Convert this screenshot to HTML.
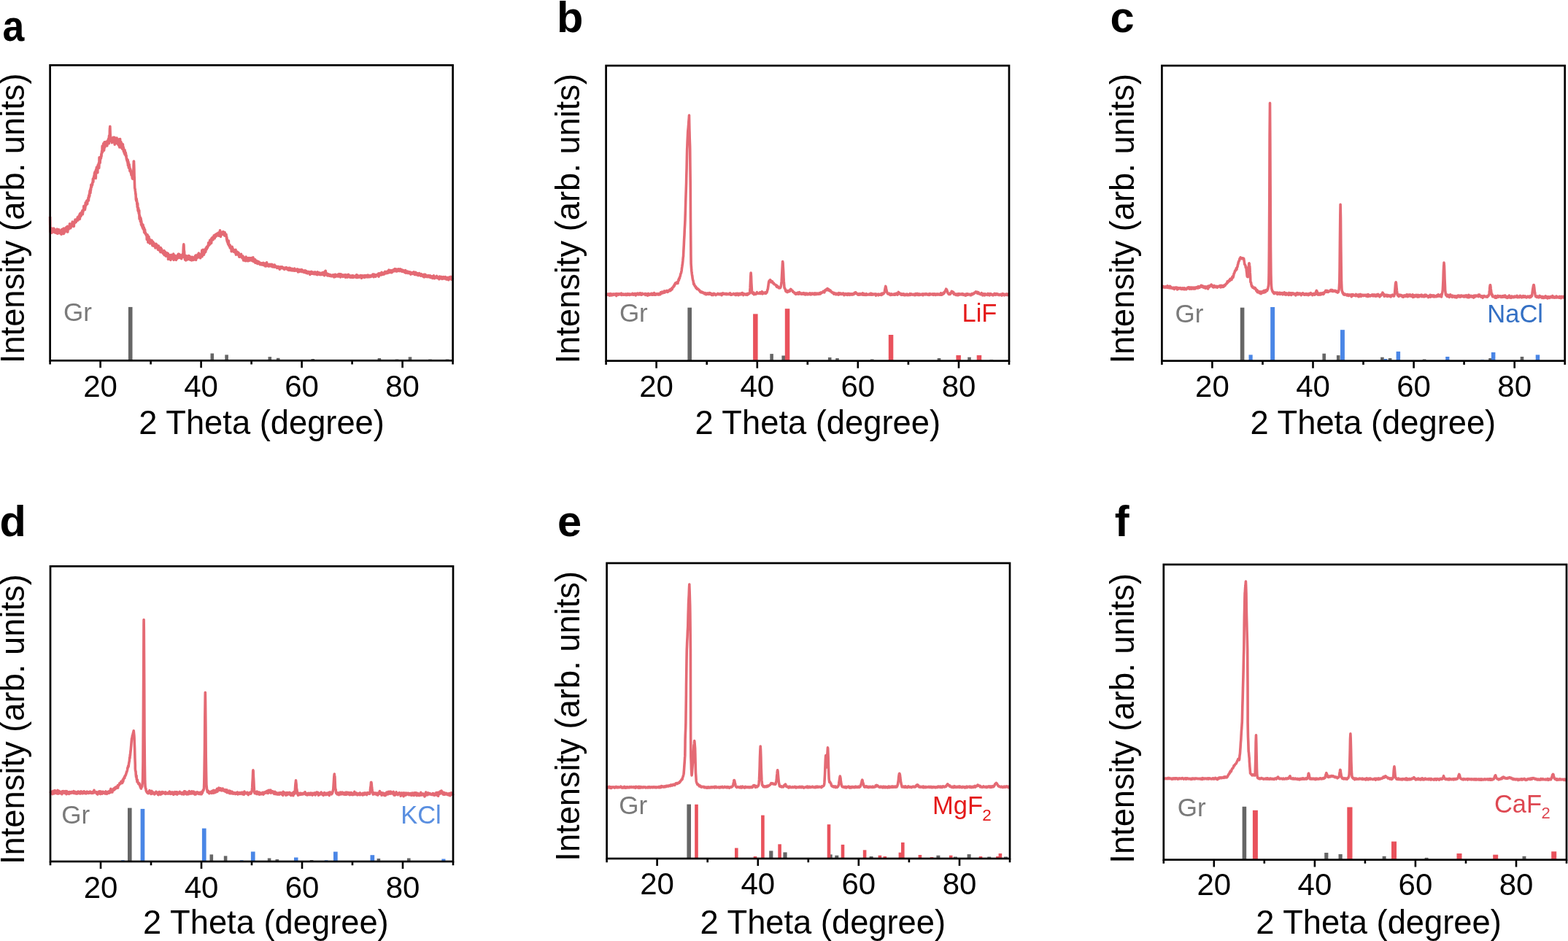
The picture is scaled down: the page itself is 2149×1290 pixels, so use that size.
<!DOCTYPE html>
<html><head><meta charset="utf-8"><title>XRD patterns</title>
<style>html,body{margin:0;padding:0;background:#fff;}svg{display:block;}</style></head><body>
<svg width="2149" height="1290" viewBox="0 0 2149 1290" font-family='"Liberation Sans", sans-serif'>
<rect width="2149" height="1290" fill="#fff"/>
<polyline fill="none" stroke="#E46A74" stroke-width="3.6" stroke-linejoin="round" points="68.6,297.1 68.8,311.6 69,318 69.2,315.1 69.4,315.6 69.6,315.1 69.8,317.3 70,316.1 70.3,317.7 70.5,312.7 70.7,319.3 70.9,316.1 71.1,317.7 71.3,316.1 71.5,315.7 71.7,317.3 71.9,318.1 72.1,316.1 72.3,316.2 72.5,317.9 72.7,314.9 72.9,313.7 73.2,317.4 73.4,315.4 73.6,313 73.8,315.2 74,315.9 74.2,314.5 74.4,314 74.6,316.9 74.8,318.6 75,316.5 75.2,315.5 75.4,317.7 75.6,318.4 75.8,316.5 76.1,318.1 76.3,319.1 76.5,316.8 76.7,315.6 76.9,317.9 77.1,317.7 77.3,319.4 77.5,314.9 77.7,316.1 77.9,315.8 78.1,314.1 78.3,317.8 78.5,318.6 78.7,316.2 78.9,320.3 79.2,319.2 79.4,318.9 79.6,318.5 79.8,319.6 80,315.2 80.2,319 80.4,319 80.6,314.5 80.8,318.6 81,317.4 81.2,319.5 81.4,317.1 81.6,317.9 81.8,318.7 82.1,316.3 82.3,319.2 82.5,317.8 82.7,318.9 82.9,317 83.1,320.1 83.3,319.1 83.5,317.6 83.7,319.1 83.9,320.3 84.1,321.3 84.3,314.7 84.5,319.4 84.7,318.5 85,317.4 85.2,315.5 85.4,319.9 85.6,314.9 85.8,318.4 86,319.7 86.2,313.9 86.4,316.4 86.6,314.3 86.8,317.2 87,319.6 87.2,320.5 87.4,313 87.6,315.2 87.9,317.6 88.1,319.2 88.3,316.8 88.5,314.4 88.7,316.3 88.9,315.5 89.1,315 89.3,313.9 89.5,315.9 89.7,315.6 89.9,314.7 90.1,314.3 90.3,312.1 90.5,313.5 90.7,316.7 91,313.8 91.2,311.2 91.4,316.5 91.6,314.8 91.8,317.8 92,313.6 92.2,312.4 92.4,310.3 92.6,315.6 92.8,318 93,311.1 93.2,311.3 93.4,313.6 93.6,310.7 93.9,311.6 94.1,311.4 94.3,312.3 94.5,313.9 94.7,311.7 94.9,313.3 95.1,310.5 95.3,311.8 95.5,306.8 95.7,308 95.9,312.3 96.1,309.4 96.3,311.5 96.5,311.3 96.8,312.7 97,311.5 97.2,311.7 97.4,309.3 97.6,307.9 97.8,307.7 98,308 98.2,306.5 98.4,307.5 98.6,308.2 98.8,308.7 99,307.4 99.2,304 99.4,307.5 99.6,307.9 99.9,309.4 100.1,308.2 100.3,305.6 100.5,305.2 100.7,310.4 100.9,307.7 101.1,309.7 101.3,310.1 101.5,304 101.7,306.2 101.9,306.1 102.1,306.1 102.3,305.9 102.5,305 102.8,304.7 103,301.1 103.2,303.6 103.4,302.2 103.6,303.8 103.8,302.4 104,304.3 104.2,304.5 104.4,303.3 104.6,303.1 104.8,302.4 105,301.1 105.2,301.4 105.4,300.5 105.7,302.1 105.9,301.1 106.1,302 106.3,297.9 106.5,302.2 106.7,298.5 106.9,298.4 107.1,299.2 107.3,298.2 107.5,299.7 107.7,297.7 107.9,296.4 108.1,296.6 108.3,300.7 108.6,297.8 108.8,295.1 109,297.2 109.2,293.7 109.4,300.3 109.6,293.1 109.8,297 110,296.8 110.2,292.4 110.4,295.7 110.6,296.8 110.8,295.4 111,294.6 111.2,295.7 111.4,293.7 111.7,293.8 111.9,292.5 112.1,293.7 112.3,290 112.5,293.3 112.7,290.2 112.9,288.6 113.1,291.3 113.3,293.7 113.5,291.8 113.7,288.3 113.9,290.5 114.1,287.6 114.3,287.9 114.6,288 114.8,282.5 115,287.4 115.2,284.4 115.4,284.6 115.6,282.5 115.8,282 116,282.8 116.2,286.1 116.4,287.5 116.6,283.4 116.8,285.3 117,282 117.2,277.9 117.5,281.9 117.7,282 117.9,279.7 118.1,280.8 118.3,280.8 118.5,277.2 118.7,275.4 118.9,277.5 119.1,277 119.3,276.1 119.5,278.4 119.7,279.4 119.9,274.1 120.1,276 120.3,275.8 120.6,274.7 120.8,274.8 121,270.9 121.2,272.7 121.4,274.9 121.6,271.5 121.8,267.7 122,269.7 122.2,270.4 122.4,267.7 122.6,264.9 122.8,268.8 123,261.9 123.2,265.1 123.5,263.2 123.7,259.8 123.9,264.5 124.1,261.8 124.3,257.6 124.5,260.7 124.7,257.6 124.9,253.4 125.1,255.3 125.3,256.6 125.5,256.5 125.7,254.6 125.9,253.4 126.1,253.5 126.4,251.1 126.6,253.4 126.8,250.2 127,249.7 127.2,249.4 127.4,245 127.6,245.1 127.8,249.4 128,246 128.2,244 128.4,244.7 128.6,242.2 128.8,243.3 129,240.6 129.3,242.1 129.5,237.3 129.7,243.4 129.9,238.6 130.1,235.6 130.3,238.2 130.5,237.3 130.7,238 130.9,234.5 131.1,237.5 131.3,244.4 131.5,232.6 131.7,235.8 131.9,233.8 132.1,234.4 132.4,229.2 132.6,230.2 132.8,233.5 133,231.8 133.2,235.2 133.4,229.1 133.6,230.7 133.8,236.6 134,227.3 134.2,226.4 134.4,227.8 134.6,227.2 134.8,228.7 135,226.4 135.3,223.6 135.5,225.2 135.7,230.3 135.9,226.3 136.1,215.8 136.3,221.4 136.5,218.8 136.7,221.7 136.9,218.9 137.1,223.3 137.3,220 137.5,219.1 137.7,216.6 137.9,215.2 138.2,215.3 138.4,216.9 138.6,214.2 138.8,211.2 139,214.5 139.2,211 139.4,209.6 139.6,207.1 139.8,206.9 140,206.1 140.2,200 140.4,208.9 140.6,207.2 140.8,204.6 141,207.2 141.3,205.2 141.5,204.5 141.7,196.8 141.9,202.1 142.1,203.7 142.3,206 142.5,206.2 142.7,204.8 142.9,197.8 143.1,194.8 143.3,201.5 143.5,199.8 143.7,201.9 143.9,198.7 144.2,199.3 144.4,194.5 144.6,199.3 144.8,196.7 145,198.5 145.2,198.5 145.4,196.7 145.6,197.6 145.8,196.5 146,198.2 146.2,197.3 146.4,194.4 146.6,194 146.8,199.9 147.1,194.9 147.3,197.5 147.5,195.7 147.7,193 147.9,192.3 148.1,194.3 148.3,194.5 148.5,195.2 148.7,190 148.9,191.5 149.1,192.6 149.3,196.6 149.5,186 149.7,192.6 150,188.4 150.2,187.3 150.4,178.8 150.6,174.8 150.7,176.2 150.8,173.4 151,178.7 151.2,185 151.4,186.4 151.6,191.8 151.8,190.6 152,189.4 152.2,191.5 152.4,191.1 152.6,193.7 152.8,191.7 153.1,190.5 153.3,195.7 153.5,194.5 153.7,195.2 153.9,193.6 154.1,191.8 154.3,191 154.5,191.4 154.7,194.6 154.9,192.5 155.1,188.4 155.3,192.2 155.5,188.7 155.7,192.7 156,189.3 156.2,189.2 156.4,192.7 156.6,192.3 156.8,188.3 157,194.5 157.2,198.1 157.4,188.8 157.6,197.3 157.8,191 158,191.5 158.2,192.4 158.4,189.2 158.6,196.2 158.9,194.2 159.1,191.1 159.3,192.3 159.5,189.3 159.7,192.3 159.9,195.6 160.1,189 160.3,192.3 160.5,193.9 160.7,196.3 160.9,197.2 161.1,192.7 161.3,192.2 161.5,195.3 161.7,193.4 162,193.7 162.2,197.4 162.4,199.1 162.6,195.6 162.8,194.6 163,196.7 163.2,190.7 163.4,195.6 163.6,193.1 163.8,202 164,198 164.2,196.7 164.4,196.1 164.6,190.5 164.9,198.9 165.1,201.4 165.3,195.8 165.5,199.6 165.7,200 165.9,194.6 166.1,201.2 166.3,202.5 166.5,200 166.7,199.7 166.9,202.1 167.1,196.7 167.3,201.1 167.5,203.9 167.8,198.6 168,204.6 168.2,201.4 168.4,197.7 168.6,203 168.8,201.3 169,205 169.2,201.7 169.4,207.7 169.6,203.7 169.8,206.9 170,204.9 170.2,206.1 170.4,210.3 170.7,208.4 170.9,207.3 171.1,205.7 171.3,212.2 171.5,211.7 171.7,209.6 171.9,211.7 172.1,209.1 172.3,209.8 172.5,210.9 172.7,214.5 172.9,215 173.1,213.2 173.3,217.5 173.5,218.4 173.8,217.6 174,220.4 174.2,217.9 174.4,219.1 174.6,221.3 174.8,220.8 175,223.6 175.2,219.4 175.4,226.6 175.6,222.1 175.8,224.3 176,222.1 176.2,227.6 176.4,230 176.7,230.2 176.9,230.4 177.1,225.4 177.3,227.9 177.5,229.4 177.7,228.9 177.9,234.4 178.1,232.8 178.3,232.9 178.5,234.7 178.7,231.9 178.9,232.6 179.1,233.2 179.3,237 179.6,237.2 179.8,238.3 180,240.1 180.2,235 180.4,237.5 180.6,239.7 180.8,236.9 181,239.4 181.2,243.5 181.4,244.4 181.6,244.9 181.8,243 182,242.7 182.2,245.3 182.4,240.6 182.7,239.1 182.9,236.4 183.1,226.7 183.3,221.1 183.5,221.1 183.5,222.4 183.7,226.1 183.9,232.9 184.1,242.2 184.3,244.8 184.5,252 184.7,258 184.9,258.2 185.1,259.3 185.3,261.2 185.6,263.2 185.8,266.2 186,265.6 186.2,269.5 186.4,273.9 186.6,271.2 186.8,275.4 187,274.5 187.2,272.7 187.4,275.8 187.6,275.4 187.8,280.3 188,277.5 188.2,283.9 188.5,283.5 188.7,279.1 188.9,286.2 189.1,288.9 189.3,285.1 189.5,289.9 189.7,285.2 189.9,290.4 190.1,287.5 190.3,292.9 190.5,289.2 190.7,288.4 190.9,295.5 191.1,300.2 191.4,295.2 191.6,298.8 191.8,298.2 192,298 192.2,300.7 192.4,303.5 192.6,298.4 192.8,302.7 193,303 193.2,300.1 193.4,306.9 193.6,308.2 193.8,303.1 194,309 194.2,306.3 194.5,306.5 194.7,310.4 194.9,308.5 195.1,309.3 195.3,312.2 195.5,312.3 195.7,312.1 195.9,308.1 196.1,308.4 196.3,314.2 196.5,310.7 196.7,313.4 196.9,311.5 197.1,313.8 197.4,312.1 197.6,318.4 197.8,313.7 198,315.9 198.2,316.3 198.4,319.5 198.6,314.9 198.8,318.1 199,318.2 199.2,320.2 199.4,320.6 199.6,319.2 199.8,321.1 200,320.4 200.3,322.5 200.5,321.9 200.7,321.3 200.9,323 201.1,324.3 201.3,328.4 201.5,323.6 201.7,325.6 201.9,328.2 202.1,321.8 202.3,322.9 202.5,324.4 202.7,326.9 202.9,332.2 203.1,328.6 203.4,330.6 203.6,328.2 203.8,324.2 204,324.8 204.2,331.5 204.4,330.2 204.6,327.6 204.8,332.5 205,327.6 205.2,333 205.4,333.8 205.6,329.7 205.8,329.2 206,333.1 206.3,329.6 206.5,333.5 206.7,329.7 206.9,333.7 207.1,332.5 207.3,331.6 207.5,330.8 207.7,333.1 207.9,329.2 208.1,332.4 208.3,332.3 208.5,334.4 208.7,330.9 208.9,336.6 209.2,332.9 209.4,331.4 209.6,336.3 209.8,336.9 210,333.5 210.2,332.3 210.4,334.1 210.6,332.9 210.8,333.7 211,337.3 211.2,335.2 211.4,334.9 211.6,335.4 211.8,334.7 212.1,336.5 212.3,336.7 212.5,334.5 212.7,335.5 212.9,339.9 213.1,336.4 213.3,335.4 213.5,339.7 213.7,336.1 213.9,334.2 214.1,337.6 214.3,334.9 214.5,335.8 214.7,337.5 214.9,336.9 215.2,335.9 215.4,336.5 215.6,336.6 215.8,340 216,336.8 216.2,337.3 216.4,342.2 216.6,337.7 216.8,341.7 217,341.6 217.2,339.1 217.4,337 217.6,340.7 217.8,341.3 218.1,342 218.3,340.6 218.5,342.9 218.7,343.5 218.9,339.3 219.1,344 219.3,341.9 219.5,340.8 219.7,341.5 219.9,345.7 220.1,344.3 220.3,339.5 220.5,343.1 220.7,342.9 221,343.1 221.2,342.7 221.4,341.2 221.6,345.6 221.8,342.5 222,343.7 222.2,343.5 222.4,343.5 222.6,346.3 222.8,345.8 223,344.1 223.2,343.8 223.4,344.8 223.6,347.6 223.8,346.2 224.1,346.6 224.3,345.7 224.5,346 224.7,347 224.9,343.5 225.1,349.8 225.3,345.7 225.5,346.3 225.7,349.8 225.9,348 226.1,347.9 226.3,346.9 226.5,345.3 226.7,348.6 227,350.6 227.2,347 227.4,351.2 227.6,347 227.8,347.8 228,350.2 228.2,349.4 228.4,350.8 228.6,348.5 228.8,348.1 229,346.8 229.2,348.1 229.4,348.5 229.6,348 229.9,351.2 230.1,349.7 230.3,347.5 230.5,355.5 230.7,349.8 230.9,349.2 231.1,353.7 231.3,353.7 231.5,349.7 231.7,349.3 231.9,350.2 232.1,354.1 232.3,351.6 232.5,350.8 232.8,352.3 233,354.6 233.2,350.1 233.4,351.9 233.6,350.2 233.8,356.5 234,356 234.2,354.5 234.4,352.6 234.6,354.1 234.8,349.3 235,353.4 235.2,350.6 235.4,350.7 235.6,351.8 235.9,352.4 236.1,354 236.3,354.2 236.5,353.4 236.7,351.3 236.9,354.1 237.1,352.7 237.3,354.9 237.5,351.3 237.7,348 237.9,352 238.1,356.5 238.3,353.5 238.5,352.3 238.8,354.2 239,353.5 239.2,353.3 239.4,351.6 239.6,352.6 239.8,352.7 240,351.2 240.2,350.4 240.4,352.5 240.6,353.9 240.8,353.3 241,352.9 241.2,352.9 241.4,356.4 241.7,352.4 241.9,353.7 242.1,355.2 242.3,351.9 242.5,352.2 242.7,353.5 242.9,354.5 243.1,352.1 243.3,352.1 243.5,351.6 243.7,349.4 243.9,353.3 244.1,350.9 244.3,348.3 244.5,351 244.8,348.3 245,349.5 245.2,351.2 245.4,349.5 245.6,352.9 245.8,348.6 246,351.5 246.2,352 246.4,353.5 246.6,352.6 246.8,351.4 247,351.1 247.2,350.8 247.4,352.9 247.7,349.8 247.9,351.8 248.1,350.8 248.3,351.4 248.5,350.5 248.7,354.6 248.9,349.9 249.1,351.4 249.3,351.5 249.5,352 249.7,351.8 249.9,351.7 250.1,352.6 250.3,348.3 250.6,350.5 250.8,347.6 251,348.4 251.2,342.9 251.4,338.8 251.6,335.8 251.8,336.3 251.8,334.9 252,336.6 252.2,343 252.4,343.7 252.6,345 252.8,349.7 253,350.9 253.2,353.9 253.5,355.6 253.7,350 253.9,356.5 254.1,355.1 254.3,354 254.5,353.4 254.7,356.9 254.9,353.1 255.1,352.2 255.3,353.4 255.5,350.9 255.7,354.1 255.9,353.2 256.1,354 256.3,354.2 256.6,351.9 256.8,355.9 257,352.1 257.2,355.3 257.4,351.3 257.6,354.6 257.8,352.7 258,354.2 258.2,353.1 258.4,350.6 258.6,352.4 258.8,354.4 259,355.4 259.2,352 259.5,350.9 259.7,353 259.9,354.2 260.1,353.5 260.3,353.2 260.5,356 260.7,356.2 260.9,355.8 261.1,353.1 261.3,354.7 261.5,354.3 261.7,352.2 261.9,356 262.1,354.7 262.4,353.8 262.6,356.9 262.8,355.8 263,355.9 263.2,356.4 263.4,355.6 263.6,352.3 263.8,353.7 264,356 264.2,353 264.4,354.3 264.6,354.9 264.8,356.5 265,356.3 265.2,355.5 265.5,353.7 265.7,355.5 265.9,354.8 266.1,353.6 266.3,356 266.5,354.5 266.7,352.4 266.9,355.7 267.1,353.1 267.3,354.4 267.5,350.9 267.7,353.3 267.9,351.7 268.1,351.6 268.4,350 268.6,356.5 268.8,352.7 269,353.2 269.2,354.6 269.4,352.5 269.6,353.4 269.8,350.3 270,352.8 270.2,351.7 270.4,353.1 270.6,352.5 270.8,349.8 271,349 271.3,350.3 271.5,353 271.7,352.4 271.9,352.3 272.1,348.3 272.3,347.1 272.5,350.3 272.7,350.7 272.9,350.2 273.1,351.6 273.3,350.7 273.5,348.9 273.7,349.3 273.9,350.8 274.2,350.6 274.4,350.2 274.6,353.8 274.8,349.6 275,350.1 275.2,348.2 275.4,349 275.6,350.3 275.8,350.1 276,348.8 276.2,349.5 276.4,348.8 276.6,345.5 276.8,343.1 277,351.8 277.3,349.2 277.5,347.6 277.7,344.7 277.9,345.2 278.1,349.2 278.3,342.4 278.5,346.1 278.7,347.7 278.9,346.3 279.1,347.1 279.3,345.4 279.5,349.2 279.7,343.5 279.9,342.8 280.2,345.1 280.4,346.7 280.6,344.1 280.8,345.6 281,342.9 281.2,341.6 281.4,345.4 281.6,345.4 281.8,345.1 282,341.7 282.2,340.3 282.4,340 282.6,341.2 282.8,342.2 283.1,341.8 283.3,338.4 283.5,340.6 283.7,340 283.9,339.7 284.1,339.2 284.3,338.5 284.5,339.4 284.7,338.3 284.9,338 285.1,336.2 285.3,337.5 285.5,336.3 285.7,332.7 285.9,336.4 286.2,334.8 286.4,336.3 286.6,334.2 286.8,333.9 287,333.9 287.2,333.2 287.4,332.1 287.6,329.5 287.8,334.9 288,329.1 288.2,330.6 288.4,331.8 288.6,331 288.8,330.9 289.1,330.9 289.3,331.3 289.5,329.5 289.7,333.2 289.9,326.7 290.1,328.4 290.3,327.1 290.5,326.6 290.7,327.6 290.9,329.2 291.1,325.5 291.3,325.3 291.5,327.3 291.7,326.8 292,328.8 292.2,327.2 292.4,325.8 292.6,324.8 292.8,325.5 293,324.7 293.2,322.7 293.4,324.7 293.6,324.2 293.8,324 294,323.5 294.2,326.7 294.4,325 294.6,325.2 294.9,322.6 295.1,321.8 295.3,322.8 295.5,323.5 295.7,322.5 295.9,322.6 296.1,324.2 296.3,323.1 296.5,320.9 296.7,321.7 296.9,321.2 297.1,322.4 297.3,320.2 297.5,321.6 297.7,322.8 298,321.7 298.2,320.1 298.4,320.5 298.6,321.5 298.8,322 299,322.5 299.2,320.9 299.4,319 299.6,323.2 299.8,321.3 300,321.5 300.2,321.2 300.4,319.1 300.6,320.2 300.9,321 301.1,322.2 301.3,320.7 301.5,315.7 301.7,320.1 301.9,321.1 302.1,322.5 302.3,321.6 302.5,324.4 302.7,322.7 302.9,322.6 303.1,322 303.3,318.4 303.5,321.8 303.8,321.4 304,319.7 304.2,321.4 304.4,321.1 304.6,319.8 304.8,320.3 305,320.1 305.2,320.9 305.4,319.8 305.6,321.3 305.8,317.5 306,320.1 306.2,317.9 306.4,319.8 306.6,321.3 306.9,320.5 307.1,320.3 307.3,320.6 307.5,322.9 307.7,318.9 307.9,322.1 308.1,318.5 308.3,320.4 308.5,321.6 308.7,320.3 308.9,322.3 309.1,323.5 309.3,321 309.5,323.1 309.8,323.2 310,321.3 310.2,324.5 310.4,324.1 310.6,328 310.8,325.2 311,329.8 311.2,327 311.4,331.4 311.6,329.9 311.8,330.4 312,331.6 312.2,332.4 312.4,333.8 312.7,334.9 312.9,332.4 313.1,331.6 313.3,330.1 313.5,334.1 313.7,336.5 313.9,336.4 314.1,336.6 314.3,336.4 314.5,336.4 314.7,337.4 314.9,338.8 315.1,335.9 315.3,340 315.6,337 315.8,339.2 316,338.7 316.2,339.4 316.4,338.6 316.6,338.7 316.8,340.3 317,339.2 317.2,344.8 317.4,340.7 317.6,340.5 317.8,340.9 318,340.3 318.2,338.4 318.4,341.9 318.7,342.9 318.9,340.4 319.1,342.8 319.3,341.2 319.5,343.1 319.7,343.9 319.9,344.3 320.1,344.3 320.3,342.8 320.5,345.3 320.7,343.5 320.9,344.8 321.1,345.5 321.3,344.2 321.6,342.8 321.8,345.8 322,343.4 322.2,343.8 322.4,343.7 322.6,346.8 322.8,345.4 323,342.4 323.2,347 323.4,349.2 323.6,348.9 323.8,345.5 324,346.6 324.2,347.4 324.5,348.1 324.7,346.9 324.9,345.4 325.1,348.3 325.3,348.2 325.5,345.4 325.7,347 325.9,348.1 326.1,347.9 326.3,348.8 326.5,349.4 326.7,349.2 326.9,348.3 327.1,346.6 327.3,349.7 327.6,351.1 327.8,352.1 328,349.3 328.2,349.4 328.4,351.8 328.6,352 328.8,350.5 329,351.2 329.2,349.2 329.4,351.4 329.6,349.4 329.8,350.6 330,350.8 330.2,350.5 330.5,348.2 330.7,350.3 330.9,352.2 331.1,351.8 331.3,351.4 331.5,352.8 331.7,353.4 331.9,353.8 332.1,351.5 332.3,352.9 332.5,352.5 332.7,351.9 332.9,351.1 333.1,353.3 333.4,352.3 333.6,356.9 333.8,353.8 334,353.7 334.2,353.6 334.4,357 334.6,353.1 334.8,354.3 335,353.6 335.2,354.6 335.4,354.9 335.6,356.6 335.8,353.2 336,355.2 336.3,357.6 336.5,354.8 336.7,355.3 336.9,354.4 337.1,352.1 337.3,355.7 337.5,357.5 337.7,355.3 337.9,353.5 338.1,356.4 338.3,356.2 338.5,357.5 338.7,357.4 338.9,355.9 339.1,356.8 339.4,353.8 339.6,357.8 339.8,356.5 340,357.7 340.2,357.7 340.4,355.9 340.6,356 340.8,355.1 341,353.5 341.2,356 341.4,356.4 341.6,354.7 341.8,357.1 342,356.2 342.3,356.7 342.5,355.1 342.7,353.8 342.9,357 343.1,356.8 343.3,355.9 343.5,355.5 343.7,355.6 343.9,355.8 344.1,355.3 344.3,353.5 344.5,357 344.7,354.2 344.9,355.6 345.2,355.7 345.4,356.4 345.6,354.2 345.8,357.7 346,357.1 346.2,357.3 346.4,357.9 346.6,355.5 346.8,352.7 347,357 347.2,358.3 347.4,358.2 347.6,356.2 347.8,356.8 348,357.4 348.3,355 348.5,356.4 348.7,356.6 348.9,359.3 349.1,356.8 349.3,359.5 349.5,357.8 349.7,355.9 349.9,360.5 350.1,357 350.3,358.9 350.5,360.3 350.7,357.8 350.9,357.2 351.2,359.8 351.4,358.9 351.6,357.5 351.8,357.8 352,358.7 352.2,360.3 352.4,359.1 352.6,360.2 352.8,361.4 353,361.1 353.2,361.4 353.4,361.3 353.6,358.3 353.8,361.5 354.1,360.6 354.3,360.3 354.5,359.3 354.7,358.9 354.9,359.5 355.1,360.8 355.3,359.6 355.5,360.1 355.7,360.4 355.9,361.8 356.1,360.9 356.3,361.1 356.5,362.7 356.7,361.1 357,362.1 357.2,360.5 357.4,362 357.6,361.8 357.8,361.9 358,361.3 358.2,360.8 358.4,361.5 358.6,361.4 358.8,363 359,362.9 359.2,360.8 359.4,362.7 359.6,361.6 359.8,362.6 360.1,361.7 360.3,360.7 360.5,363.2 360.7,362.7 360.9,361.1 361.1,360.4 361.3,361.8 361.5,361.2 361.7,362 361.9,363.1 362.1,363.9 362.3,362.1 362.5,363.9 362.7,363.7 363,362.1 363.2,361 363.4,363.5 363.6,363.3 363.8,365 364,364.1 364.2,363.5 364.4,364.4 364.6,361.8 364.8,363 365,362.6 365.2,364.6 365.4,363.4 365.6,359.9 365.9,364.3 366.1,362.1 366.3,363.8 366.5,362.6 366.7,363.3 366.9,363.7 367.1,363.3 367.3,362.2 367.5,364.5 367.7,363.6 367.9,363.2 368.1,363.9 368.3,362.7 368.5,365.1 368.7,363.5 369,363.7 369.2,363.7 369.4,362.5 369.6,362.3 369.8,363.7 370,363.8 370.2,364.8 370.4,364 370.6,362.5 370.8,364.1 371,364.5 371.2,364.7 371.4,364.1 371.6,362.6 371.9,364.9 372.1,363.2 372.3,364.4 372.5,362.4 372.7,364.7 372.9,363.3 373.1,365.1 373.3,365.8 373.5,365.3 373.7,363.1 373.9,363.3 374.1,363.5 374.3,365 374.5,364.7 374.8,364.6 375,364.8 375.2,365.1 375.4,365.2 375.6,366.3 375.8,364.7 376,365 376.2,363.1 376.4,363.6 376.6,364.3 376.8,363.9 377,365.3 377.2,366.1 377.4,364.7 377.7,364.7 377.9,364.8 378.1,365.4 378.3,364.9 378.5,365.8 378.7,365.8 378.9,365.9 379.1,366.3 379.3,365.7 379.5,365.9 379.7,367.4 379.9,365.8 380.1,366.6 380.3,366 380.5,365.6 380.8,365.6 381,365.3 381.2,366.2 381.4,365.7 381.6,365.9 381.8,367.5 382,366.3 382.2,367.5 382.4,366.7 382.6,367.4 382.8,366 383,366.8 383.2,369.2 383.4,367.5 383.7,367.7 383.9,367.1 384.1,367.7 384.3,365.9 384.5,366.2 384.7,367.4 384.9,367.8 385.1,366.7 385.3,367 385.5,366.9 385.7,367.1 385.9,366.2 386.1,366 386.3,367.3 386.6,365.8 386.8,366.5 387,366.9 387.2,366.5 387.4,367.7 387.6,367.2 387.8,367.5 388,366.7 388.2,367 388.4,368.2 388.6,368.1 388.8,367.3 389,368.1 389.2,368 389.4,368 389.7,369.3 389.9,367.5 390.1,368.3 390.3,368.4 390.5,367.8 390.7,367 390.9,368.7 391.1,368.3 391.3,368.2 391.5,368.2 391.7,368.2 391.9,367.4 392.1,368.5 392.3,366.6 392.6,368.3 392.8,366.9 393,368 393.2,369 393.4,368.1 393.6,368 393.8,368.9 394,368.2 394.2,368.1 394.4,368.2 394.6,369.9 394.8,369.2 395,369 395.2,367.6 395.5,369.2 395.7,367.5 395.9,369.1 396.1,367.7 396.3,370.5 396.5,367.3 396.7,369.9 396.9,369.6 397.1,367.3 397.3,368.7 397.5,370.2 397.7,370 397.9,367.5 398.1,368.5 398.4,368 398.6,368.2 398.8,368.5 399,370.8 399.2,369.3 399.4,369 399.6,368.9 399.8,369.8 400,369.9 400.2,368.5 400.4,370.6 400.6,368.4 400.8,369.2 401,369.8 401.2,371 401.5,369.2 401.7,369.8 401.9,370.7 402.1,370.1 402.3,370.6 402.5,370.5 402.7,369.9 402.9,370.3 403.1,370.5 403.3,369.7 403.5,371.2 403.7,368.1 403.9,369 404.1,371.1 404.4,370.3 404.6,369.4 404.8,370.3 405,370.9 405.2,369.5 405.4,370.7 405.6,370 405.8,370 406,370.1 406.2,371.1 406.4,369.2 406.6,369.9 406.8,370.8 407,369.2 407.3,369 407.5,370.9 407.7,370.4 407.9,370.3 408.1,370.6 408.3,369.6 408.5,373 408.7,369.7 408.9,370.2 409.1,369.4 409.3,370.3 409.5,372 409.7,370.7 409.9,371.3 410.1,370.4 410.4,372.4 410.6,371 410.8,369.8 411,371.6 411.2,370.6 411.4,371.5 411.6,371.1 411.8,371.3 412,371.2 412.2,370.3 412.4,369.9 412.6,372 412.8,371.1 413,371.5 413.3,370.9 413.5,369.6 413.7,370.3 413.9,372.6 414.1,370.8 414.3,371.1 414.5,370.3 414.7,371.1 414.9,371.3 415.1,371.4 415.3,371.6 415.5,371.2 415.7,371.3 415.9,371.8 416.2,372.1 416.4,371.8 416.6,373.4 416.8,372.1 417,372.2 417.2,371.5 417.4,373 417.6,371.3 417.8,370.8 418,371.4 418.2,372.8 418.4,371.4 418.6,373.5 418.8,372.4 419.1,371.2 419.3,372.3 419.5,374.1 419.7,371.9 419.9,371.6 420.1,373.2 420.3,373.9 420.5,373.7 420.7,372.6 420.9,373.1 421.1,373.2 421.3,374 421.5,374.9 421.7,373 421.9,374.2 422.2,372.9 422.4,373.7 422.6,372.5 422.8,372.7 423,373.7 423.2,372.6 423.4,374.2 423.6,373 423.8,373.6 424,373.5 424.2,373.3 424.4,373.8 424.6,374.6 424.8,376.4 425.1,372.8 425.3,374.1 425.5,373.7 425.7,373.1 425.9,374.2 426.1,373.2 426.3,373.9 426.5,375.1 426.7,372.3 426.9,374.3 427.1,374.5 427.3,373.3 427.5,374.6 427.7,374.5 428,373.9 428.2,375.3 428.4,373.2 428.6,374.8 428.8,374.1 429,373.4 429.2,374.2 429.4,374.1 429.6,375.1 429.8,373.2 430,374.3 430.2,374.1 430.4,375.8 430.6,373.6 430.8,375.4 431.1,373.1 431.3,374.9 431.5,374.5 431.7,374.9 431.9,374 432.1,373 432.3,373.3 432.5,375.8 432.7,374.9 432.9,374 433.1,375.5 433.3,374.1 433.5,374.1 433.7,373.8 434,375.8 434.2,376.5 434.4,374 434.6,375.1 434.8,375.7 435,376.7 435.2,372.9 435.4,375 435.6,375.5 435.8,373.7 436,375.3 436.2,375.1 436.4,375.6 436.6,374.5 436.9,375.4 437.1,374.5 437.3,375.6 437.5,375.2 437.7,374.8 437.9,373.9 438.1,376.5 438.3,376.1 438.5,375.9 438.7,374.6 438.9,374.9 439.1,376.6 439.3,375.9 439.5,374.5 439.8,375.3 440,375.4 440.2,375.1 440.4,374.5 440.6,376.4 440.8,375.9 441,375.2 441.2,374.1 441.4,375 441.6,375.5 441.8,376.2 442,375.2 442.2,376.5 442.4,375.7 442.6,375 442.9,373.3 443.1,374.6 443.3,374.4 443.5,375.6 443.7,376 443.9,376.9 444.1,375.7 444.3,374.8 444.5,377.7 444.7,375.9 444.9,375.3 445.1,374.9 445.3,373.1 445.5,373.4 445.8,371.6 446,371.6 446,371.2 446.2,371.3 446.4,373 446.6,373.4 446.8,374.5 447,375.6 447.2,375 447.4,376.1 447.6,376.1 447.8,377 448,376.5 448.2,375 448.4,376.7 448.7,377.9 448.9,375.2 449.1,376.2 449.3,376.9 449.5,375.8 449.7,376.5 449.9,377 450.1,375.9 450.3,377.3 450.5,377.5 450.7,376.1 450.9,377.2 451.1,378.1 451.3,377.1 451.5,377.7 451.8,377.9 452,377.2 452.2,378.2 452.4,377.7 452.6,376.6 452.8,377.9 453,378.2 453.2,378.2 453.4,377 453.6,377.9 453.8,378.7 454,377.8 454.2,378.6 454.4,378.7 454.7,377.6 454.9,378.2 455.1,377.4 455.3,378.6 455.5,377.6 455.7,377.2 455.9,377.7 456.1,377.6 456.3,378 456.5,378.1 456.7,376.7 456.9,377.1 457.1,378 457.3,378.1 457.6,377.7 457.8,379.9 458,378.6 458.2,377.6 458.4,378.3 458.6,378.8 458.8,378 459,376.2 459.2,377.8 459.4,377.7 459.6,379.5 459.8,376.2 460,379 460.2,377.6 460.5,378.5 460.7,377.5 460.9,377.8 461.1,378.6 461.3,377.8 461.5,378.6 461.7,377.6 461.9,377.4 462.1,377.5 462.3,377.3 462.5,377.6 462.7,378.8 462.9,376.7 463.1,376.3 463.3,377.7 463.6,379.1 463.8,378.6 464,378.8 464.2,378.8 464.4,377.1 464.6,377.8 464.8,375.5 465,377.2 465.2,378.2 465.4,376.4 465.6,376 465.8,376.6 466,377.9 466.2,378.7 466.5,379.9 466.7,378.9 466.9,376.5 467.1,375.8 467.3,377.9 467.5,378.6 467.7,376.4 467.9,377.3 468.1,377.4 468.3,377.8 468.5,377.6 468.7,378.2 468.9,378.6 469.1,377.8 469.4,378.4 469.6,379.4 469.8,376.9 470,376.9 470.2,378.2 470.4,379.3 470.6,377.9 470.8,378.7 471,377.5 471.2,378.6 471.4,377.3 471.6,378.4 471.8,378.2 472,378.2 472.2,379.1 472.5,378.8 472.7,377.4 472.9,378.7 473.1,376.6 473.3,378.8 473.5,380.3 473.7,378.5 473.9,378.5 474.1,378.2 474.3,378.8 474.5,377.8 474.7,378.8 474.9,378 475.1,377.9 475.4,378.4 475.6,378.3 475.8,376.9 476,380.1 476.2,378.5 476.4,377 476.6,379.4 476.8,378.5 477,378.7 477.2,379.2 477.4,377.9 477.6,376.2 477.8,378.6 478,378.9 478.3,379.5 478.5,378.1 478.7,378.5 478.9,379.1 479.1,378.6 479.3,378.6 479.5,379.1 479.7,378.1 479.9,380.2 480.1,378.2 480.3,379 480.5,378.7 480.7,378.4 480.9,379.4 481.2,379.9 481.4,380.2 481.6,379.5 481.8,378.7 482,379.8 482.2,377.9 482.4,379.1 482.6,379.5 482.8,379.6 483,378.1 483.2,377.8 483.4,380.5 483.6,378.7 483.8,377.7 484,378.1 484.3,379.1 484.5,380.1 484.7,379.1 484.9,380.1 485.1,379.3 485.3,379.5 485.5,379.9 485.7,378.8 485.9,379.3 486.1,378.8 486.3,378.5 486.5,379.6 486.7,378.4 486.9,379.1 487.2,378.4 487.4,379 487.6,378.6 487.8,380 488,379.1 488.2,379.1 488.4,380.4 488.6,376.7 488.8,378.1 489,376.8 489.2,379 489.4,379.4 489.6,379.6 489.8,379.3 490.1,378.3 490.3,380.5 490.5,379.3 490.7,378.8 490.9,378.1 491.1,379.4 491.3,378.6 491.5,378.7 491.7,379.2 491.9,379.2 492.1,378.3 492.3,380.1 492.5,378.2 492.7,378.1 492.9,379.3 493.2,379.1 493.4,379.1 493.6,378.7 493.8,379.1 494,378.6 494.2,377.6 494.4,379.6 494.6,378.2 494.8,378.8 495,379.6 495.2,379 495.4,381.3 495.6,377.9 495.8,378.4 496.1,379.1 496.3,380.1 496.5,378.8 496.7,377.8 496.9,380 497.1,378.2 497.3,378.8 497.5,379.7 497.7,378.5 497.9,378.6 498.1,379.4 498.3,378.8 498.5,379.2 498.7,378.2 499,378.9 499.2,378.1 499.4,377.7 499.6,380.4 499.8,379.3 500,379.7 500.2,378.1 500.4,378.9 500.6,378.8 500.8,377.7 501,379.3 501.2,378.3 501.4,378.7 501.6,377.6 501.9,379.7 502.1,379.5 502.3,379.1 502.5,378 502.7,378.3 502.9,379.8 503.1,378.5 503.3,378.9 503.5,378.8 503.7,377.7 503.9,379.9 504.1,377 504.3,378.8 504.5,378.5 504.7,377.2 505,378.8 505.2,378.9 505.4,378.5 505.6,377.8 505.8,378.8 506,379.3 506.2,378.6 506.4,379.8 506.6,379.1 506.8,379 507,379.4 507.2,377.7 507.4,377.8 507.6,378.6 507.9,378.6 508.1,379.4 508.3,379.1 508.5,378.3 508.7,378.3 508.9,377.8 509.1,377.7 509.3,377.6 509.5,378.7 509.7,377.6 509.9,377.6 510.1,378 510.3,377.4 510.5,377.7 510.8,376 511,378.1 511.2,377.5 511.4,377.9 511.6,378 511.8,376.2 512,379.7 512.2,377.8 512.4,377.8 512.6,376.1 512.8,378.1 513,377.9 513.2,377.2 513.4,377.7 513.6,378.6 513.9,377.2 514.1,376.7 514.3,378.5 514.5,377.6 514.7,377.2 514.9,379.2 515.1,377.4 515.3,377.1 515.5,377.4 515.7,376.9 515.9,377.3 516.1,377.2 516.3,376.5 516.5,376.8 516.8,377.3 517,377.3 517.2,377.4 517.4,377.5 517.6,377 517.8,377.2 518,376.4 518.2,376.5 518.4,377.5 518.6,375 518.8,376.9 519,379.1 519.2,375 519.4,377.7 519.7,374.9 519.9,376.6 520.1,377.6 520.3,377.5 520.5,375.4 520.7,375.1 520.9,374.9 521.1,376.6 521.3,375.7 521.5,376 521.7,376.1 521.9,376.2 522.1,376.2 522.3,375.9 522.6,374.4 522.8,376.9 523,373.3 523.2,376.6 523.4,375 523.6,375.3 523.8,375 524,375.1 524.2,375.3 524.4,375 524.6,374.3 524.8,375.9 525,374.6 525.2,376.2 525.4,374.9 525.7,374.4 525.9,375.3 526.1,375.6 526.3,374 526.5,374.5 526.7,375.9 526.9,373.8 527.1,373.9 527.3,374.6 527.5,373.4 527.7,372.3 527.9,372.9 528.1,374.5 528.3,374.7 528.6,374.6 528.8,374.3 529,372.9 529.2,374.4 529.4,374.7 529.6,373.1 529.8,374.4 530,373.3 530.2,373.6 530.4,373.7 530.6,372.1 530.8,374.5 531,372.5 531.2,373 531.5,372.6 531.7,373.3 531.9,373.2 532.1,372.8 532.3,373.9 532.5,372.9 532.7,372.2 532.9,370.1 533.1,372.2 533.3,372.1 533.5,371.6 533.7,371.5 533.9,372.6 534.1,372.9 534.3,373.5 534.6,372.8 534.8,371.3 535,372 535.2,370.6 535.4,372.2 535.6,371.9 535.8,371 536,371.4 536.2,371.2 536.4,370.8 536.6,372.4 536.8,373.8 537,371.8 537.2,372 537.5,371.2 537.7,370.7 537.9,372.8 538.1,370.6 538.3,371.2 538.5,370.8 538.7,371.3 538.9,370.7 539.1,371.2 539.3,369.7 539.5,370.6 539.7,371.8 539.9,369.8 540.1,370 540.4,371.7 540.6,370.9 540.8,371.4 541,368.6 541.2,370.6 541.4,369.4 541.6,369.2 541.8,370.7 542,371.3 542.2,369.1 542.4,369.4 542.6,369.8 542.8,370.1 543,369.1 543.3,372 543.5,370.7 543.7,369.9 543.9,369.7 544.1,372 544.3,371.9 544.5,369.7 544.7,370.4 544.9,371.1 545.1,369.1 545.3,369.6 545.5,371.1 545.7,369.5 545.9,369.7 546.1,368.9 546.4,369.4 546.6,370.6 546.8,369.4 547,369 547.2,369.6 547.4,371.6 547.6,370.3 547.8,369.7 548,370.4 548.2,370.7 548.4,370.4 548.6,368.9 548.8,370.7 549,370.3 549.3,371.3 549.5,369.5 549.7,371.6 549.9,370.4 550.1,369.4 550.3,372 550.5,370.6 550.7,371.4 550.9,371 551.1,372.1 551.3,372.2 551.5,372.3 551.7,372 551.9,370.2 552.2,370.2 552.4,371.8 552.6,370.9 552.8,372.1 553,372 553.2,370.7 553.4,371.1 553.6,371 553.8,371.3 554,371.9 554.2,372.7 554.4,373.3 554.6,371.4 554.8,371.8 555,373.6 555.3,373.1 555.5,372.6 555.7,370.5 555.9,371.7 556.1,372.7 556.3,372.1 556.5,374.3 556.7,372.8 556.9,373 557.1,371.9 557.3,372 557.5,372.3 557.7,372.4 557.9,372.8 558.2,373.3 558.4,373.3 558.6,373.9 558.8,372.1 559,373.4 559.2,373.5 559.4,374.6 559.6,373.2 559.8,373.7 560,372.8 560.2,373.8 560.4,373.9 560.6,373.1 560.8,373.3 561.1,373.6 561.3,374.2 561.5,372.8 561.7,374.5 561.9,373.6 562.1,375.4 562.3,375.1 562.5,373.6 562.7,373.5 562.9,376.1 563.1,374.6 563.3,374.6 563.5,373.8 563.7,374.1 564,374.9 564.2,374.8 564.4,373.7 564.6,375.4 564.8,374.7 565,373.7 565.2,375.3 565.4,374.4 565.6,375.3 565.8,374.2 566,375 566.2,373.4 566.4,375.1 566.6,373.6 566.8,375 567.1,372.8 567.3,374.9 567.5,375.6 567.7,375.4 567.9,376.1 568.1,374.2 568.3,376.5 568.5,376.5 568.7,374.3 568.9,374.6 569.1,374.9 569.3,375.4 569.5,375.6 569.7,373.4 570,376 570.2,375.3 570.4,374.8 570.6,376.4 570.8,375.4 571,376.7 571.2,376.2 571.4,375.5 571.6,376.8 571.8,376.6 572,375.5 572.2,374.7 572.4,375.6 572.6,376.6 572.9,375.9 573.1,377.6 573.3,376.4 573.5,376.4 573.7,376.6 573.9,375.6 574.1,376.3 574.3,375.9 574.5,374.5 574.7,375 574.9,377.1 575.1,376.2 575.3,376.5 575.5,375.4 575.7,376.2 576,377.4 576.2,376.8 576.4,376.4 576.6,378.1 576.8,376.8 577,376.6 577.2,377.9 577.4,375.6 577.6,377.5 577.8,376.2 578,376.5 578.2,376.6 578.4,377.3 578.6,377.3 578.9,377.5 579.1,377.5 579.3,378.5 579.5,378.8 579.7,378 579.9,378.1 580.1,377.2 580.3,376.6 580.5,378 580.7,377.6 580.9,378.3 581.1,376.2 581.3,379.9 581.5,376.7 581.8,377.8 582,378.6 582.2,376.7 582.4,377.4 582.6,376.3 582.8,376.8 583,376.4 583.2,378.1 583.4,378.3 583.6,377.8 583.8,379.2 584,379.3 584.2,378.2 584.4,378.1 584.7,378 584.9,377.9 585.1,379.4 585.3,378.6 585.5,378.1 585.7,378.3 585.9,378.9 586.1,378.2 586.3,378.8 586.5,378.5 586.7,379.7 586.9,379.6 587.1,377.5 587.3,378.6 587.5,379.3 587.8,378.4 588,379.5 588.2,379.1 588.4,379.4 588.6,378.8 588.8,379.2 589,379.4 589.2,377.8 589.4,378.3 589.6,378.2 589.8,380.5 590,379.4 590.2,379.5 590.4,379.3 590.7,378.8 590.9,378.6 591.1,380 591.3,379 591.5,380.6 591.7,379.5 591.9,379.5 592.1,379.2 592.3,379.4 592.5,379.5 592.7,380.7 592.9,381.4 593.1,378.6 593.3,379.8 593.6,380.2 593.8,378.9 594,379.2 594.2,379.3 594.4,377.8 594.6,380.3 594.8,379.7 595,379.7 595.2,379.9 595.4,380 595.6,381.7 595.8,380 596,380.6 596.2,379.5 596.4,380.3 596.7,379.7 596.9,379.9 597.1,379.3 597.3,379.4 597.5,380.5 597.7,380.7 597.9,380.5 598.1,379.6 598.3,380.4 598.5,378.2 598.7,381 598.9,380.2 599.1,380.5 599.3,381.2 599.6,380 599.8,381.1 600,380 600.2,380.8 600.4,380.1 600.6,380.7 600.8,381.6 601,380 601.2,380 601.4,380.3 601.6,380.8 601.8,382.8 602,380.1 602.2,379 602.5,380.1 602.7,379.4 602.9,380.2 603.1,380.7 603.3,379.9 603.5,380.2 603.7,379.3 603.9,380.9 604.1,380.2 604.3,381.7 604.5,381.7 604.7,380.2 604.9,380.6 605.1,380.9 605.4,381.5 605.6,379.6 605.8,380.9 606,382.5 606.2,380.9 606.4,381.2 606.6,381 606.8,380.1 607,381.8 607.2,381.3 607.4,381.2 607.6,381.7 607.8,381.8 608,379.6 608.2,381.6 608.5,380.7 608.7,381.3 608.9,380.7 609.1,380.6 609.3,382 609.5,381.3 609.7,381.1 609.9,381.1 610.1,381.4 610.3,381.3 610.5,379.5 610.7,380.7 610.9,381.2 611.1,382 611.4,382.5 611.6,380.7 611.8,383 612,381.6 612.2,381.9 612.4,381.1 612.6,381.1 612.8,382.7 613,381.4 613.2,381.5 613.4,382.5 613.6,383 613.8,380.4 614,381.5 614.3,381.7 614.5,383.1 614.7,383.7 614.9,381.7 615.1,382 615.3,382.4 615.5,382.7 615.7,381.5 615.9,382.5 616.1,381.2 616.3,379.7 616.5,380.7 616.7,382 616.9,382.5 617.1,380.1 617.4,380.4 617.6,381.9 617.8,379.2 618,382.4 618.2,382.8 618.4,379.6 618.6,382.6 618.8,381.8 619,383.1 619.2,382.2 619.4,381.8 619.6,382.1 619.8,382.8 620,382.2 620.3,382.1 620.5,380.9"/>
<rect x="175.9" y="420.9" width="5.6" height="73.4" fill="#666666"/>
<rect x="288.5" y="484.5" width="4.6" height="9.8" fill="#666666"/>
<rect x="308.3" y="486.4" width="4.6" height="7.9" fill="#666666"/>
<rect x="367.5" y="489.2" width="4.6" height="5.1" fill="#666666"/>
<rect x="378.9" y="490.8" width="4.6" height="3.5" fill="#666666"/>
<rect x="426.5" y="492" width="4.6" height="2.3" fill="#666666"/>
<rect x="517.6" y="491" width="4.6" height="3.3" fill="#666666"/>
<rect x="541.7" y="492.6" width="4.6" height="1.7" fill="#666666"/>
<rect x="559.7" y="489.4" width="4.6" height="4.9" fill="#666666"/>
<rect x="587.2" y="492.6" width="4.6" height="1.7" fill="#666666"/>
<rect x="610.7" y="492.6" width="4.6" height="1.7" fill="#666666"/>
<rect x="68.6" y="89.4" width="552" height="404.9" fill="none" stroke="#000" stroke-width="2.7"/>
<path d="M68.6 494.3V499.5M137.6 494.3V504.3M206.6 494.3V499.5M275.6 494.3V504.3M344.6 494.3V499.5M413.6 494.3V504.3M482.6 494.3V499.5M551.6 494.3V504.3M620.6 494.3V499.5" stroke="#000" stroke-width="2.6" fill="none"/>
<text x="137.6" y="543.8" font-size="42" text-anchor="middle">20</text>
<text x="275.6" y="543.8" font-size="42" text-anchor="middle">40</text>
<text x="413.6" y="543.8" font-size="42" text-anchor="middle">60</text>
<text x="551.6" y="543.8" font-size="42" text-anchor="middle">80</text>
<text x="190.3" y="595.2" font-size="45.3">2 Theta (degree)</text>
<text transform="translate(33 498.2) rotate(-90)" font-size="45.3">Intensity (arb. units)</text>
<text transform="translate(3.6 56.3) scale(0.9 1)" font-size="59.5" font-weight="bold">a</text>
<text x="87" y="440.2" font-size="35" fill="#7A7A7A">Gr</text>
<polyline fill="none" stroke="#E46A74" stroke-width="3.6" stroke-linejoin="round" points="830.6,403.8 830.9,403.5 831.3,404.6 831.6,403.5 832,403.4 832.3,403.1 832.7,403.9 833,403.4 833.4,403.1 833.7,404.4 834.1,404.5 834.4,403.2 834.7,402.9 835.1,404.2 835.4,403 835.8,405.2 836.1,403.4 836.5,404.1 836.8,402.7 837.2,403.5 837.5,404.1 837.9,403.7 838.2,403.2 838.5,405 838.9,403.9 839.2,403.3 839.6,403.1 839.9,403.3 840.3,404.3 840.6,403 841,403.5 841.3,403 841.6,404.2 842,403.4 842.3,404 842.7,403.8 843,403.1 843.4,403.9 843.7,404 844.1,402.8 844.4,403.9 844.8,405.6 845.1,403.3 845.4,403.9 845.8,402.7 846.1,403.7 846.5,403.1 846.8,403.9 847.2,403.4 847.5,402.8 847.9,404.1 848.2,403.3 848.6,402.9 848.9,403.5 849.2,402.9 849.6,403.7 849.9,403.4 850.3,403.2 850.6,403.9 851,402.7 851.3,404 851.7,402.2 852,404.4 852.4,403.6 852.7,403.3 853,403 853.4,403.8 853.7,403.4 854.1,403.3 854.4,404.1 854.8,403.2 855.1,403.3 855.5,403.7 855.8,404.1 856.1,403.4 856.5,403.5 856.8,403.5 857.2,403.9 857.5,404.4 857.9,402.9 858.2,403.4 858.6,403.4 858.9,403.8 859.3,404.4 859.6,403.4 859.9,403.6 860.3,404.1 860.6,402.7 861,403 861.3,403.2 861.7,403.4 862,403.6 862.4,403.1 862.7,404.5 863.1,403 863.4,403.3 863.7,404.1 864.1,403.9 864.4,403.4 864.8,403.7 865.1,403.9 865.5,403.4 865.8,403.8 866.2,402.9 866.5,403.5 866.9,402.4 867.2,402.9 867.5,402.7 867.9,404.2 868.2,403.1 868.6,403.6 868.9,402.9 869.3,403.3 869.6,403.3 870,402.9 870.3,403.9 870.6,402.4 871,403.8 871.3,405 871.7,402.9 872,403.4 872.4,402.5 872.7,403.4 873.1,402.3 873.4,403.8 873.8,403.1 874.1,402.3 874.4,402.6 874.8,402.4 875.1,403.2 875.5,403.9 875.8,403.1 876.2,402.7 876.5,402.9 876.9,403.5 877.2,401.9 877.6,403.7 877.9,403.6 878.2,401.9 878.6,404.1 878.9,402.4 879.3,403.2 879.6,404.1 880,402.4 880.3,402.2 880.7,402.7 881,402.7 881.4,403.3 881.7,403 882,403 882.4,403.1 882.7,403.2 883.1,402.8 883.4,403.5 883.8,403.3 884.1,402.7 884.5,404.5 884.8,402.6 885.1,403.8 885.5,402.9 885.8,403.6 886.2,403.7 886.5,403.9 886.9,404.2 887.2,402.8 887.6,405.1 887.9,403.6 888.3,402.8 888.6,402.5 888.9,404.8 889.3,404.4 889.6,403.3 890,403.8 890.3,404.2 890.7,403.4 891,403.1 891.4,403.3 891.7,403.9 892.1,403.4 892.4,402.6 892.7,403.8 893.1,402.3 893.4,402.9 893.8,404.1 894.1,403.5 894.5,403.5 894.8,403.4 895.2,404 895.5,403.3 895.9,402.1 896.2,403.5 896.5,401.5 896.9,402.1 897.2,404.3 897.6,404 897.9,403.1 898.3,403.3 898.6,403.4 899,404 899.3,402.9 899.7,402.8 900,403 900.3,403.4 900.7,403.5 901,403.1 901.4,403.8 901.7,402.7 902.1,403.3 902.4,402.9 902.8,402.7 903.1,404.1 903.4,403.1 903.8,402.7 904.1,403.4 904.5,402.7 904.8,403.7 905,402.1 905.2,402.1 905.5,400.8 905.9,401.2 906.2,402.4 906.6,401 906.9,401.8 907.2,401.9 907.6,400 907.7,401.6 907.9,401.2 908.3,401.2 908.6,401.7 909,400.8 909.3,400.5 909.7,400.7 910,400.1 910.4,400.5 910.7,398.9 911,401.1 911.4,399.6 911.7,400.2 912.1,400 912.4,399.8 912.8,399.7 913.1,399.6 913.5,398.5 913.8,399 914.2,400 914.5,398.6 914.8,398.5 914.8,400.4 915.2,399.7 915.5,399.9 915.9,398.8 916.2,398.8 916.6,399 916.9,398.8 917.3,398.3 917.6,397.3 917.9,397.6 918.3,397 918.6,398.8 919,397.5 919.3,397.5 919.6,397.7 919.7,397.4 920,397.3 920.4,396.1 920.7,395.1 921.1,396.7 921.4,394.7 921.7,394.4 922.1,393.8 922.4,393.5 922.8,393.4 922.9,393.7 923.1,392.2 923.5,392.5 923.8,391.3 924.2,391.9 924.5,389.8 924.9,390.1 925.2,389.9 925.5,388.1 925.6,388.9 925.9,388.7 926.2,387.8 926.6,387.9 926.9,388.4 927.3,387.6 927.5,387.1 927.6,387.2 928,387.7 928.3,388.3 928.7,388 928.9,388.1 929,388.3 929.3,385.5 929.7,384.7 930,383.3 930.4,384.3 930.7,381.6 931.1,382 931.4,381.6 931.6,379.9 931.8,379.7 932.1,378.7 932.4,378 932.8,375.4 933.1,375.2 933.5,374.2 933.8,372.7 933.8,372.5 934.2,370.8 934.5,367.8 934.9,365.3 935.2,362.8 935.4,362.1 935.6,360 935.9,357.2 936.2,353.5 936.6,350.8 936.6,349.5 936.9,343 937.3,336 937.6,328.8 938,322.1 938.3,314.4 938.7,307.6 939,301.2 939,300.2 939.4,288.3 939.7,277.3 940,267.8 940.4,256.3 940.6,250.2 940.7,244.3 941.1,230.8 941.4,216.4 941.7,203.6 941.8,202.8 942.1,194.4 942.5,185.8 942.7,181.4 942.8,179.6 943.2,175.6 943.5,172.5 943.8,167.5 944.2,163 944.5,158.1 944.5,159.3 944.9,178.1 945,180.8 945.2,189.4 945.6,199.7 945.7,204.1 945.9,225.1 946.2,249.8 946.3,259.6 946.5,300.1 946.6,311.9 946.9,344.3 946.9,348.1 947.1,361.6 947.3,364.4 947.6,368.7 947.9,372 948,372.6 948.3,375.5 948.7,378.2 949,379.7 949,380.5 949.4,382.7 949.7,384.2 950.1,385.2 950.4,387.6 950.6,388.8 950.7,389.5 951.1,388.6 951.4,390.6 951.8,390.5 952.1,391.5 952.5,392.4 952.8,392.1 953.2,392.7 953.5,393.7 953.8,394.7 953.9,394 954.2,393.8 954.5,394.5 954.9,395.4 955.2,396.2 955.6,395.5 955.9,395.9 956.3,396.3 956.6,396.6 957,396.4 957.3,397 957.7,397.7 958,397.9 958.2,398.1 958.3,397.6 958.7,398.1 959,398.3 959.4,399.6 959.7,400.1 960.1,399.7 960.4,400.7 960.8,399.8 961.1,400.1 961.4,399.8 961.8,400.9 962,400.7 962.1,401.1 962.5,401.4 962.8,401 963.2,400.6 963.5,401.3 963.9,401.4 964.2,401.6 964.6,402 964.9,401.6 965.2,401.6 965.6,402.9 965.9,402.6 966.3,402 966.6,401.6 967,402 967.3,402.6 967.4,402.9 967.7,403.8 968,402.3 968.4,402.5 968.7,402.3 969,402.6 969.4,402.3 969.7,401.9 970.1,403.2 970.4,402.7 970.8,403.4 971.1,402.4 971.5,402.9 971.8,403.1 972.2,401.6 972.5,402 972.8,403.3 973.2,402.9 973.5,401.8 973.9,402.5 974.2,402.3 974.6,402.7 974.9,403.9 975,402.6 975.3,404.5 975.6,403.1 976,402.9 976.3,404.2 976.6,403.9 977,404.1 977.3,404.5 977.7,403.9 978,404 978.4,402.3 978.7,402.8 979.1,403.6 979.4,403.4 979.7,403.7 980.1,403 980.4,404 980.8,404.5 981.1,403.7 981.5,403.8 981.8,403.6 982.2,403.9 982.5,403.5 982.9,403 983.2,403.4 983.5,403.4 983.9,402.4 984.2,403.5 984.6,403.3 984.9,403.5 985.3,403 985.6,403.6 986,403.7 986.3,402.9 986.7,403.5 987,403.8 987.3,403.8 987.7,402.8 988,402.7 988.4,403.3 988.7,402.7 989.1,404.8 989.4,402.8 989.8,402.8 990.1,403.7 990.5,403 990.8,401.9 991.1,403.2 991.5,402.7 991.8,403 992.2,402.3 992.5,402.8 992.9,403.2 993.2,403.2 993.6,402.6 993.9,402.9 994.2,402.8 994.6,403.4 994.9,403.2 995.3,402.5 995.6,403.7 996,402.9 996.3,403.5 996.7,402.7 997,403.5 997.4,403.2 997.7,403.3 998,403.6 998.4,403.5 998.7,403.4 999.1,403.4 999.4,402.5 999.8,403.2 1000.1,402 1000.5,401.9 1000.8,403.1 1001.2,403.1 1001.5,404.2 1001.8,403.7 1002.2,403.9 1002.5,403.1 1002.9,403.5 1003.2,404 1003.6,403.6 1003.9,403.5 1004.3,403.3 1004.6,402.7 1005,402.7 1005.3,402.4 1005.6,403.5 1006,403.1 1006.3,402.9 1006.7,403.5 1007,402.9 1007.4,403.9 1007.7,404.4 1008.1,403.5 1008.4,402.9 1008.7,402.4 1009.1,404.5 1009.4,403.5 1009.8,402.6 1010.1,403.9 1010.5,402.3 1010.8,403 1011.2,403.1 1011.5,403.1 1011.9,402.6 1012.2,404.7 1012.5,403 1012.9,403.5 1013.2,403.3 1013.6,402.3 1013.9,402.9 1014.3,403.4 1014.6,403.8 1015,403.1 1015.3,403.5 1015.7,403.1 1016,403.6 1016.3,401.8 1016.7,403.6 1017,402.9 1017.4,402.9 1017.7,401.6 1018.1,402.6 1018.4,403.6 1018.8,404.6 1019.1,402.8 1019.5,402.8 1019.8,403.5 1020.1,403.4 1020.5,402.9 1020.8,403.1 1021.2,403 1021.5,403.6 1021.9,403.6 1022.2,404.2 1022.6,403.7 1022.9,403.5 1023.2,403.2 1023.6,403.7 1023.9,402.5 1024.3,404.3 1024.6,403.2 1025,403.8 1025.3,402.4 1025.7,403.4 1026,403 1026.4,402.5 1026.7,402 1027,401.6 1027.4,402.3 1027.7,400 1028.1,394.9 1028.4,387.6 1028.8,378.7 1029.1,374 1029.1,374 1029.5,378.8 1029.8,387.3 1030.2,394 1030.5,399.6 1030.8,401.4 1031.2,402 1031.5,401.2 1031.9,402.2 1032.2,402.4 1032.6,401.8 1032.9,401.2 1033.3,403.7 1033.6,402.9 1034,402.3 1034.3,403.5 1034.6,403.2 1035,402.8 1035.3,402.6 1035.7,402.9 1036,403.3 1036.4,402.5 1036.7,402.2 1037.1,402.7 1037.4,400.6 1037.8,402.3 1038.1,402 1038.4,402.2 1038.8,402 1039.1,402.3 1039.5,402.1 1039.8,402.1 1040.2,401.9 1040.5,402.2 1040.9,401.6 1041.2,402.5 1041.5,400.8 1041.9,401.9 1042.2,402.1 1042.6,401 1042.9,401.5 1043.3,402.5 1043.6,401.6 1044,401.1 1044.3,399.8 1044.7,401.8 1044.7,401.7 1045,402 1045.3,402.8 1045.7,401.6 1046,401.7 1046.4,401.2 1046.7,401.5 1047.1,401.5 1047.4,402 1047.8,401.9 1048.1,401 1048.5,401.2 1048.8,402.3 1049.1,400.8 1049.5,401.8 1049.8,402.2 1050.2,401.4 1050.5,400.8 1050.9,401.1 1051.2,399.8 1051.6,398.6 1051.9,397.2 1052.3,396.4 1052.6,394.2 1052.9,392.4 1053.3,389 1053.6,387 1054,385.4 1054.3,385.3 1054.3,384.7 1054.7,385.8 1055,385.5 1055.4,384.8 1055.7,383.7 1056,384.5 1056.4,386.6 1056.7,385.9 1057.1,386.2 1057.4,386.1 1057.8,386.8 1058.1,385.7 1058.5,385.9 1058.8,386.4 1059.2,387.7 1059.5,388.4 1059.8,388.5 1060.2,388.5 1060.5,388.1 1060.9,389.6 1061.2,389.3 1061.6,389.8 1061.9,390.1 1062.3,390.2 1062.6,390.3 1063,390.7 1063.3,390.6 1063.6,391.8 1064,391.9 1064.3,392.9 1064.7,391.5 1065,393.5 1065.4,393 1065.7,393.2 1066.1,393.1 1066.4,393.3 1066.8,393.1 1067.1,394.7 1067.4,394.2 1067.8,394.9 1068.1,395 1068.5,394.2 1068.8,394.3 1069.2,394.1 1069.5,394.7 1069.9,393.6 1070.2,392.7 1070.5,391.4 1070.9,388.1 1071.2,385.2 1071.6,377.6 1071.9,371.8 1072.3,364.6 1072.6,358.5 1072.8,359.3 1073,360.1 1073.3,366.2 1073.7,372.7 1074,380.8 1074.3,385.9 1074.7,390.5 1075,394.4 1075.4,395.3 1075.7,395.2 1076.1,396.5 1076.4,397.2 1076.8,399 1077.1,398.3 1077.5,398.1 1077.8,399.9 1078.1,399.6 1078.5,399.8 1078.8,399.2 1079.2,400.6 1079.5,399.7 1079.9,398.6 1080.2,399 1080.6,399.1 1080.9,399.3 1081.3,399.6 1081.6,398.4 1081.9,398.1 1082.3,399.5 1082.6,397.8 1083,397.1 1083.3,397.2 1083.7,396.3 1084,397.4 1084,397.6 1084.4,396.8 1084.7,398 1085,397.6 1085.4,398.4 1085.7,398.3 1086.1,398.7 1086.4,398.7 1086.8,400.2 1087.1,400.3 1087.5,400.6 1087.8,400.4 1088.2,400.6 1088.5,401.1 1088.8,401.9 1089.2,402 1089.5,401.5 1089.9,402.1 1090.2,403.1 1090.6,402.1 1090.9,403.3 1091.3,402.4 1091.6,403 1092,401.9 1092.3,403 1092.6,401.6 1093,402.5 1093.3,402.1 1093.7,401.2 1094,401.6 1094.4,403.1 1094.7,402.7 1095.1,403.2 1095.4,402.6 1095.8,400.7 1096.1,402.7 1096.4,402.2 1096.8,402.2 1097.1,402.3 1097.5,402.1 1097.8,402 1098.2,403.3 1098.5,402.9 1098.9,402.2 1099.2,402.4 1099.5,403.2 1099.9,402.9 1100.2,402.8 1100.6,401.9 1100.9,402.4 1101.3,402 1101.6,401.6 1102,403.3 1102.3,402.5 1102.7,402.5 1103,402.2 1103.3,403.2 1103.7,404 1104,403.1 1104.4,403.3 1104.7,402 1105.1,402.9 1105.4,402.9 1105.8,403.7 1106.1,402.8 1106.5,402.3 1106.8,402.8 1107.1,402.6 1107.5,403.7 1107.8,403.3 1108.2,403.1 1108.5,403 1108.9,403.4 1109.2,402.6 1109.6,402.3 1109.9,401.8 1110.3,403.6 1110.6,403.2 1110.9,403.3 1111.3,402.9 1111.6,403.9 1112,402.3 1112.3,403.6 1112.7,402.4 1113,402.6 1113.4,402.2 1113.7,403 1114.1,402.7 1114.4,403.2 1114.7,402.6 1115.1,402.1 1115.4,403.3 1115.8,403.7 1116.1,403.4 1116.5,402.9 1116.8,403.2 1117.2,401.9 1117.5,402.7 1117.8,403.6 1118.2,403.2 1118.5,402.4 1118.9,403.4 1119.2,402.8 1119.6,403.3 1119.9,402 1120.3,402.5 1120.6,403 1121,403 1121.3,403.1 1121.6,402.7 1122,402.6 1122.3,402.9 1122.7,403.1 1123,401.7 1123.4,402.3 1123.7,402.3 1124.1,402.4 1124.4,402.9 1124.8,401.4 1125.1,402.4 1125.4,400.9 1125.8,401.3 1126.1,401.3 1126.5,401.3 1126.8,400.9 1127.2,400.8 1127.5,400.7 1127.9,400.5 1128.2,399.4 1128.6,399.4 1128.9,399.7 1129.2,400 1129.6,400.1 1129.9,400.9 1130.3,399 1130.6,398.2 1131,398.5 1131.3,398.5 1131.7,397.9 1132,397 1132.3,397.4 1132.7,397.2 1133,396.2 1133.4,396.2 1133.7,397.6 1134.1,395.5 1134.4,396.9 1134.4,396.6 1134.8,397.6 1135.1,397.2 1135.5,396.4 1135.8,397.8 1136.1,396.9 1136.5,398.6 1136.8,398.7 1137.2,397.9 1137.5,398.6 1137.9,398.5 1138.2,398.2 1138.6,399.6 1138.9,399.5 1139.3,400 1139.6,400.4 1139.9,400.9 1140.3,400.9 1140.6,400.5 1141,400.9 1141.3,401.3 1141.7,401.2 1142,401.3 1142.4,402.7 1142.7,402.1 1143.1,403.1 1143.4,401.6 1143.7,402.2 1144.1,402.1 1144.4,402.2 1144.8,402.3 1145.1,402.5 1145.5,402.4 1145.8,403.8 1146.2,403.2 1146.5,402.4 1146.8,402.6 1147.2,403.4 1147.5,403.3 1147.9,402.7 1148.2,403.6 1148.6,402.2 1148.9,402.8 1149.3,404.1 1149.6,401.6 1150,403 1150.3,403.7 1150.6,403.1 1151,402.7 1151.3,402.7 1151.7,402 1152,402.4 1152.4,403.3 1152.7,402.9 1153.1,403.2 1153.4,403.2 1153.8,403.4 1154.1,402.3 1154.4,403.1 1154.8,403.1 1155.1,403.1 1155.5,402.8 1155.8,402 1156.2,403.7 1156.5,403.8 1156.9,404.7 1157.2,403.7 1157.6,404.3 1157.9,403.7 1158.2,403.1 1158.6,403.6 1158.9,402.6 1159.3,403.5 1159.6,403.3 1160,402.7 1160.3,404.1 1160.7,404 1161,403.6 1161.3,403.8 1161.7,404.3 1162,403.3 1162.4,402.5 1162.7,402.8 1163.1,403.8 1163.4,403.5 1163.8,402.5 1164.1,404.1 1164.5,403.5 1164.8,404.3 1165.1,404 1165.5,403.1 1165.8,403.4 1166.2,402.9 1166.5,402.8 1166.9,403.2 1167.2,403.6 1167.6,404.1 1167.9,402.8 1168.3,403.7 1168.6,403.2 1168.9,403 1169.3,403.7 1169.6,402.7 1170,403.7 1170.3,402.5 1170.7,402 1171,402.8 1171.4,401.3 1171.7,401.4 1172.1,401.9 1172.4,402 1172.4,401.8 1172.7,400.8 1173.1,401.3 1173.4,402.5 1173.8,402.7 1174.1,401.9 1174.5,402.9 1174.8,403 1175.2,403.6 1175.5,402.7 1175.9,404.1 1176.2,403.1 1176.5,404.2 1176.9,403.9 1177.2,402.8 1177.6,403.2 1177.9,403.6 1178.3,404 1178.6,402.6 1179,403.1 1179.3,403.8 1179.6,403.7 1180,402.8 1180.3,402.9 1180.7,403.7 1181,402.9 1181.4,403.6 1181.7,404 1182.1,403.5 1182.4,401.9 1182.8,404.2 1183.1,404.2 1183.4,404.3 1183.8,404 1184.1,402.5 1184.5,404.3 1184.8,403.7 1185.2,404.1 1185.5,403.4 1185.9,403.4 1186.2,403.4 1186.6,404.5 1186.9,403.7 1187.2,403.4 1187.6,402.7 1187.9,403.8 1188.3,403.5 1188.6,403.6 1189,404.1 1189.3,403.9 1189.7,403.5 1190,403.6 1190.4,403.6 1190.7,403.9 1191,403.9 1191.4,403.6 1191.7,403 1192.1,404 1192.4,404.1 1192.8,402.9 1193.1,403.8 1193.5,403.3 1193.8,402.2 1194.1,403.5 1194.5,404.1 1194.8,403.1 1195.2,403.1 1195.5,404.1 1195.9,402.9 1196.2,403 1196.6,403.3 1196.9,403.9 1197.3,403.9 1197.6,403.2 1197.9,403.3 1198.3,403.6 1198.6,403.3 1199,403 1199.3,402.9 1199.7,403.9 1200,403.4 1200.4,405.2 1200.7,403.9 1201.1,403.1 1201.4,403.5 1201.7,403.7 1202.1,403.8 1202.4,403.8 1202.8,403.8 1203.1,403.4 1203.5,403.9 1203.8,404.8 1204.2,403.2 1204.5,403.3 1204.9,403.9 1205.2,404.2 1205.5,404 1205.9,404.2 1206.2,403.4 1206.6,403.3 1206.9,403.9 1207.3,403.9 1207.6,404.4 1208,404.4 1208.3,402.3 1208.6,403.9 1209,403 1209.3,402.1 1209.7,403.5 1210,403.2 1210.4,403 1210.7,402.3 1211.1,402.3 1211.4,402.3 1211.8,400.9 1212.1,400.7 1212.4,399.3 1212.8,397.2 1213.1,395.5 1213.5,393.7 1213.8,392.4 1213.8,392.4 1214.2,393.8 1214.5,395.9 1214.9,397.4 1215.2,398.9 1215.6,400.8 1215.9,400.7 1216.2,401.9 1216.6,402.6 1216.9,403 1217.3,403 1217.6,403.1 1218,402.6 1218.3,403 1218.7,403.5 1219,402.3 1219.4,402.7 1219.7,403.2 1220,404.3 1220.4,403.9 1220.7,404.4 1221.1,404.3 1221.4,403.2 1221.8,403.4 1222.1,402.8 1222.5,404.2 1222.8,403.9 1223.1,403.9 1223.5,403.9 1223.8,403.8 1224.2,403.6 1224.5,403.7 1224.9,404.2 1225.2,403 1225.6,402.9 1225.9,403.5 1226.3,404.2 1226.6,403.7 1226.9,403.4 1227.3,404 1227.6,403.5 1228,402.3 1228.3,402.8 1228.7,402.1 1229,403.1 1229.4,402.9 1229.7,403.3 1230.1,404.1 1230.4,402.3 1230.7,402.4 1231.1,402 1231.4,400.4 1231.8,401.6 1231.8,401.7 1232.1,402.3 1232.5,401.8 1232.8,401.7 1233.2,403 1233.5,402.8 1233.9,402.5 1234.2,402.7 1234.5,403.1 1234.9,403.9 1235.2,404.3 1235.6,402.7 1235.9,404.2 1236.3,403.6 1236.6,403.8 1237,404.1 1237.3,403 1237.6,404.1 1238,402.8 1238.3,403.3 1238.7,403.1 1239,404.6 1239.4,404.6 1239.7,404 1240.1,403.9 1240.4,403.3 1240.8,404.6 1241.1,404.4 1241.4,404.1 1241.8,403.5 1242.1,403.4 1242.5,403.6 1242.8,404.4 1243.2,403 1243.5,403.7 1243.9,404.6 1244.2,404.1 1244.6,404.7 1244.9,403.9 1245.2,403.9 1245.6,404.4 1245.9,404 1246.3,403.8 1246.6,403.3 1247,402.7 1247.3,404.5 1247.7,403.4 1248,403.2 1248.4,404.1 1248.7,403.1 1249,402.8 1249.4,403.3 1249.7,403.6 1250.1,403.8 1250.4,403.9 1250.8,404.2 1251.1,403.6 1251.5,403.9 1251.8,403.6 1252.2,403.3 1252.5,403.9 1252.8,403.9 1253.2,404.7 1253.5,404 1253.9,403.2 1254.2,404 1254.6,403.5 1254.9,404.6 1255.3,402.6 1255.6,403.3 1255.9,403.3 1256.3,403.7 1256.6,403.6 1257,402.7 1257.3,402.5 1257.7,403.8 1258,404.5 1258.4,404.5 1258.7,403.4 1259.1,403.9 1259.4,403.1 1259.7,402.8 1260.1,404.4 1260.4,404.1 1260.8,403.5 1261.1,403.4 1261.5,404.2 1261.8,403.9 1262.2,403.5 1262.5,403.8 1262.9,403.7 1263.2,403.4 1263.5,403.2 1263.9,404.2 1264.2,403.4 1264.6,403 1264.9,404.7 1265.3,404.4 1265.6,404 1266,403.6 1266.3,403.8 1266.7,402.8 1267,403.7 1267.3,403.8 1267.7,403.5 1268,403.9 1268.4,403.2 1268.7,403.8 1269.1,402.7 1269.4,403.7 1269.8,403.3 1270.1,402.9 1270.4,403.4 1270.8,403.7 1271.1,403.3 1271.5,404.2 1271.8,403.3 1272.2,404.2 1272.5,404.1 1272.9,403.3 1273.2,404.5 1273.6,402.9 1273.9,404 1274.2,403.7 1274.6,404.1 1274.9,402.7 1275.3,403 1275.6,403.2 1276,403.7 1276.3,403.7 1276.7,403.7 1277,403.5 1277.4,403.2 1277.7,402.8 1278,403.4 1278.4,404 1278.7,404.2 1279.1,403.3 1279.4,404.3 1279.8,402.8 1280.1,404.1 1280.5,403 1280.8,403.8 1281.2,403.1 1281.5,403.1 1281.8,403.3 1282.2,404.5 1282.5,403.2 1282.9,404 1283.2,403.7 1283.6,403.8 1283.9,403.8 1284.3,404 1284.6,402.9 1284.9,403.6 1285.3,403.8 1285.6,403.3 1286,403.8 1286.3,403 1286.7,404 1287,403.2 1287.4,403.4 1287.7,404.1 1288.1,404.2 1288.4,403.2 1288.7,403.2 1289.1,404.1 1289.4,401.9 1289.8,404.3 1290.1,404.3 1290.5,402.9 1290.8,404.2 1291.2,403.7 1291.5,403.7 1291.9,402 1292.2,403.1 1292.5,403.1 1292.9,402.9 1293.2,402.7 1293.6,402.5 1293.9,400.6 1294.3,401.6 1294.6,400.6 1295,400.1 1295.3,398.9 1295.7,398.3 1296,397.6 1296.3,397.9 1296.7,396.2 1296.7,397.6 1297,396.7 1297.4,396.9 1297.7,397.4 1298.1,399.7 1298.4,399.2 1298.8,401.5 1299.1,401.8 1299.4,401.8 1299.8,402.2 1300.1,403.1 1300.5,403.1 1300.8,403.5 1301.2,403.1 1301.5,402.8 1301.9,403.3 1302.2,402.1 1302.6,403 1302.9,402.2 1303.2,401.1 1303.6,400.8 1303.9,400.7 1304.3,399.4 1304.6,401 1305,400.7 1305,399.5 1305.3,400.1 1305.7,401.5 1306,401.2 1306.4,400.8 1306.7,400.6 1307,401.3 1307.4,403.4 1307.7,403.1 1308.1,402.4 1308.4,403.7 1308.8,403.2 1309.1,403.1 1309.5,403.2 1309.8,403.2 1310.2,404.5 1310.5,403 1310.8,403.3 1311.2,404.4 1311.5,404.5 1311.9,403 1312.2,404.8 1312.6,404.3 1312.9,402.7 1313.3,404.7 1313.6,402.7 1314,404 1314.3,402.9 1314.6,402.6 1315,404.1 1315.3,403.9 1315.7,403.6 1316,403.8 1316.4,403.6 1316.7,403.5 1317.1,403 1317.4,404 1317.7,403.7 1318.1,403.5 1318.4,403.3 1318.8,403.5 1319.1,402.7 1319.5,403.5 1319.8,403.1 1320.2,404.4 1320.5,403.1 1320.9,403.4 1321.2,403.7 1321.5,404.1 1321.9,403.9 1322.2,403.7 1322.6,404.9 1322.9,403.6 1323.3,403.8 1323.6,405.3 1324,403.1 1324.3,404.2 1324.7,403.9 1325,402.9 1325.3,403.3 1325.7,404.1 1326,402.8 1326.4,403.5 1326.7,404.2 1327.1,403.5 1327.4,403.8 1327.8,403.2 1328.1,403.2 1328.5,403.2 1328.8,403.4 1329.1,403.9 1329.5,403.6 1329.8,404.7 1330.2,403.8 1330.5,403.6 1330.9,404.7 1331.2,403.3 1331.6,402.8 1331.9,403.3 1332.2,402.5 1332.6,403.3 1332.9,403.7 1333.3,403.1 1333.6,402.3 1334,402.3 1334.3,402.5 1334.7,402.7 1335,401.5 1335.4,401.3 1335.7,401.9 1336,401.2 1336.4,401 1336.7,400.9 1337.1,400 1337.4,400.2 1337.8,400.9 1338.1,400.1 1338.1,400.1 1338.5,400.4 1338.8,400.6 1339.2,402 1339.5,400.2 1339.8,400.9 1340.2,402.3 1340.5,401.3 1340.9,401.7 1341.2,400.9 1341.6,402.6 1341.9,402.7 1342.3,402.9 1342.6,402.5 1343,403 1343.3,402.9 1343.6,403.5 1344,403.1 1344.3,403.7 1344.7,402.5 1345,403.2 1345.4,401.7 1345.7,403.4 1346.1,404 1346.4,403.4 1346.7,405 1347.1,403 1347.4,403.4 1347.8,403.1 1348.1,403.3 1348.5,403.4 1348.8,402.8 1349.2,403.1 1349.5,404.9 1349.9,403.5 1350.2,404.2 1350.5,402.9 1350.9,403.6 1351.2,404 1351.6,403.6 1351.9,403.4 1352.3,403.6 1352.6,403.7 1353,404.2 1353.3,404.4 1353.7,402.9 1354,402.5 1354.3,403.6 1354.7,403.7 1355,404.1 1355.4,404.3 1355.7,403.3 1356.1,404.9 1356.4,403.9 1356.8,402.7 1357.1,404.3 1357.5,403.9 1357.8,403.9 1358.1,402.8 1358.5,403.5 1358.8,403.8 1359.2,403.6 1359.5,404.1 1359.9,404.5 1360.2,404.6 1360.6,404.5 1360.9,403.6 1361.2,404.8 1361.6,403.9 1361.9,404.2 1362.3,403.6 1362.6,402.9 1363,402.4 1363.3,403.9 1363.7,403.3 1364,403.7 1364.4,404.3 1364.7,402.8 1365,402.7 1365.4,403.9 1365.7,404 1366.1,403.6 1366.4,403.4 1366.8,402.8 1367.1,403.7 1367.5,403.3 1367.8,404 1368.2,404.3 1368.5,403.4 1368.8,404 1369.2,403.9 1369.5,404.2 1369.9,404.7 1370.2,404.2 1370.6,404.2 1370.9,404.2 1371.3,403.5 1371.6,403.8 1372,404 1372.3,404.5 1372.6,404.5 1373,405.1 1373.3,403.1 1373.7,403.7 1374,402.7 1374.4,403.4 1374.7,402.8 1375.1,404.5 1375.4,404.2 1375.7,403.1 1376.1,404 1376.4,404.2 1376.8,404.8 1377.1,404.3 1377.5,403.8 1377.8,403.7 1378.2,404.1 1378.5,404 1378.9,403.5 1379.2,403 1379.5,404.4 1379.9,403.3 1380.2,403.6 1380.6,404.3 1380.9,403.7 1381.3,404.5 1381.6,403.1 1382,404.2 1382.3,403 1382.7,402.9"/>
<rect x="942.4" y="421.7" width="5.6" height="73" fill="#666666"/>
<rect x="1055.3" y="485.1" width="4.6" height="9.6" fill="#666666"/>
<rect x="1071.4" y="487.5" width="4.6" height="7.2" fill="#666666"/>
<rect x="1134.9" y="490" width="4.6" height="4.7" fill="#666666"/>
<rect x="1145.2" y="491.1" width="4.6" height="3.6" fill="#666666"/>
<rect x="1192.9" y="492.5" width="4.6" height="2.2" fill="#666666"/>
<rect x="1284.7" y="491" width="4.6" height="3.7" fill="#666666"/>
<rect x="1326.2" y="489.7" width="4.6" height="5" fill="#666666"/>
<rect x="1356.5" y="493" width="4.6" height="1.7" fill="#666666"/>
<rect x="1032.1" y="430.4" width="6.5" height="64.3" fill="#E9525C"/>
<rect x="1075.8" y="423.2" width="6.5" height="71.5" fill="#E9525C"/>
<rect x="1217.8" y="459" width="6.5" height="35.7" fill="#E9525C"/>
<rect x="1310.4" y="487" width="6.5" height="7.7" fill="#E9525C"/>
<rect x="1338.7" y="487" width="6.5" height="7.7" fill="#E9525C"/>
<rect x="830.6" y="90" width="552.4" height="404.7" fill="none" stroke="#000" stroke-width="2.7"/>
<path d="M830.6 494.7V499.9M899.6 494.7V504.7M968.7 494.7V499.9M1037.8 494.7V504.7M1106.8 494.7V499.9M1175.8 494.7V504.7M1244.9 494.7V499.9M1314 494.7V504.7M1383 494.7V499.9" stroke="#000" stroke-width="2.6" fill="none"/>
<text x="899.6" y="543.8" font-size="42" text-anchor="middle">20</text>
<text x="1037.8" y="543.8" font-size="42" text-anchor="middle">40</text>
<text x="1175.8" y="543.8" font-size="42" text-anchor="middle">60</text>
<text x="1314" y="543.8" font-size="42" text-anchor="middle">80</text>
<text x="952.4" y="595.2" font-size="45.3">2 Theta (degree)</text>
<text transform="translate(793.9 498.6) rotate(-90)" font-size="45.3">Intensity (arb. units)</text>
<text x="762.9" y="43.5" font-size="59.5" font-weight="bold">b</text>
<text x="848.9" y="440.9" font-size="35" fill="#7A7A7A">Gr</text>
<polyline fill="none" stroke="#E46A74" stroke-width="3.6" stroke-linejoin="round" points="1592.4,392.3 1592.7,393.1 1593.1,392.6 1593.4,392.2 1593.8,394 1594.1,392.5 1594.5,393.1 1594.8,393.4 1595.2,393 1595.5,393.6 1595.9,393.8 1596.2,393.3 1596.5,394.2 1596.9,393.1 1597.2,392.8 1597.6,393.7 1597.9,392.9 1598.3,393.9 1598.6,393.6 1599,393.4 1599.3,394.2 1599.6,394.2 1600,391.8 1600.3,393.6 1600.7,394 1601,394.3 1601.4,393.6 1601.7,393.2 1602.1,394.1 1602.4,394.6 1602.8,392.7 1603.1,393.1 1603.4,393.8 1603.8,392.4 1604.1,393.9 1604.5,394.9 1604.8,393.6 1605.2,394.5 1605.5,393.8 1605.9,394.8 1606.2,394.9 1606.6,395.4 1606.9,394.6 1607.2,395.3 1607.6,394.9 1607.9,394.4 1608.3,395.7 1608.6,394.3 1609,394.9 1609.3,396.5 1609.7,395.5 1610,394.3 1610.3,395.1 1610.7,394.6 1611,394.9 1611.4,394 1611.7,395.2 1612.1,394 1612.4,395.4 1612.8,395.5 1613.1,395.8 1613.5,396.8 1613.8,394.2 1614.1,394.5 1614.5,394.7 1614.8,395 1615.2,396.1 1615.5,395.3 1615.9,395.1 1616.2,394.8 1616.6,395.2 1616.9,395.3 1617.3,395.6 1617.6,394.7 1617.9,395.7 1618.3,396.2 1618.6,396.1 1619,395 1619.3,396.5 1619.7,396.5 1620,396.2 1620.4,395.1 1620.7,394.9 1621.1,395.9 1621.4,395.2 1621.7,394.9 1622.1,396.5 1622.4,396.5 1622.8,396.2 1623.1,396.7 1623.5,396.4 1623.8,394.9 1624.2,396.5 1624.5,395.7 1624.8,395.9 1625.2,396.7 1625.5,395.9 1625.9,396.7 1626.2,395.6 1626.6,395.2 1626.9,395 1627.3,395.4 1627.6,394.3 1628,395.4 1628.3,395.3 1628.6,395 1629,393.8 1629.3,393.8 1629.7,395.8 1630,394.6 1630.4,396.2 1630.7,394.7 1631.1,395.4 1631.4,394.1 1631.8,394.7 1632.1,395 1632.4,395.5 1632.8,396.2 1633.1,395.7 1633.5,394 1633.8,395 1634.2,394.8 1634.5,394.5 1634.9,395.3 1635.2,396 1635.5,394.5 1635.9,395.6 1636.2,395.8 1636.6,394 1636.9,396 1637.3,395.9 1637.6,394.9 1638,395.9 1638.3,394.8 1638.7,395.4 1639,395 1639.3,393.9 1639.7,394.7 1640,394.4 1640.4,394.1 1640.7,393.6 1641.1,393.8 1641.4,393.5 1641.8,395.1 1642.1,392.9 1642.5,394.3 1642.8,393.7 1643.1,393.1 1643.5,394.4 1643.8,393.1 1644.2,394.2 1644.5,392.9 1644.9,392.9 1645.2,392.3 1645.6,392.5 1645.9,392.5 1646.2,391.4 1646.2,391.7 1646.6,393 1646.9,391.6 1647.3,393.5 1647.6,392.3 1648,392.5 1648.3,392 1648.7,392.8 1649,392.3 1649.4,393.3 1649.7,394.3 1650,393.8 1650.4,393.4 1650.7,393.1 1651.1,393.4 1651.4,392.8 1651.8,393 1652.1,395.2 1652.5,394 1652.8,393.2 1653.2,394.3 1653.5,394.8 1653.8,393.3 1654.2,393.7 1654.5,392.8 1654.9,392.6 1655.2,394.6 1655.6,396 1655.9,393 1656.3,392.2 1656.6,394.2 1657,393.7 1657.3,393.1 1657.6,393.4 1658,391.8 1658.3,391.9 1658.7,392 1659,391 1659.4,391.4 1659.4,390.9 1659.7,391.5 1660.1,391.4 1660.4,390.2 1660.7,392 1661.1,391.2 1661.4,391.9 1661.8,391.6 1662.1,393.5 1662.5,392.8 1662.8,392.8 1663.2,394 1663.5,393.6 1663.9,393 1664.2,391.6 1664.5,393.5 1664.9,392.9 1665.2,392.8 1665.6,393.5 1665.9,392.5 1666.3,392.9 1666.6,393.5 1667,393.3 1667.3,392.4 1667.7,393.8 1668,393.6 1668.3,394.1 1668.7,392.7 1669,392.8 1669.4,393.4 1669.7,392.9 1670,392.7 1670.1,392.5 1670.4,392.4 1670.8,392.2 1671.1,392.2 1671.4,392.9 1671.8,392.5 1672.1,391.7 1672.5,392.7 1672.8,393.9 1673.2,393.7 1673.5,391.4 1673.9,392.2 1674.2,393.4 1674.6,392.9 1674.9,392.9 1675.2,392.8 1675.4,392.9 1675.6,392.1 1675.9,393.4 1676.3,391.6 1676.6,392.1 1677,393.1 1677.3,392.5 1677.7,391.6 1678,391.4 1678.4,390.8 1678.7,390.6 1678.7,390.8 1679,391.6 1679.4,390 1679.7,390.3 1680.1,389.9 1680.4,389.5 1680.8,388.7 1681.1,389 1681.5,388.3 1681.8,387.9 1681.9,387.4 1682.1,385.9 1682.5,387.6 1682.8,387.3 1683.2,386.1 1683.5,386 1683.9,386 1684.2,384.7 1684.6,385.6 1684.9,385.3 1685.3,385 1685.6,384.7 1685.9,382.4 1686.3,383.8 1686.3,383.1 1686.6,383.8 1687,383.4 1687.3,382.8 1687.7,381.8 1688,383.4 1688.4,381 1688.7,379.9 1689.1,381 1689.4,378.9 1689.7,380.8 1690.1,379.8 1690.1,380 1690.4,378.8 1690.8,377.3 1691.1,375 1691.5,374.5 1691.8,374.2 1692.2,372.6 1692.2,372.9 1692.5,371.6 1692.8,371 1693.2,371.2 1693.5,370.9 1693.9,369.8 1694.2,368.5 1694.6,367.5 1694.9,369.5 1695.3,366.7 1695.5,366.5 1695.6,366.1 1696,365.9 1696.3,363.3 1696.6,362.8 1697,361.2 1697.1,359.8 1697.3,360.1 1697.7,358.2 1698,358 1698.4,357.6 1698.7,356 1699.1,354.6 1699.3,354.3 1699.4,354.4 1699.8,354.8 1700.1,352.9 1700.4,353.1 1700.8,354.7 1701.1,354.2 1701.5,354.3 1701.8,354.3 1702.2,354 1702.5,353.8 1702.6,354.1 1702.9,354.7 1703.2,354.6 1703.6,354.6 1703.9,354 1704.2,355.1 1704.6,354.3 1704.7,354.7 1704.9,356.6 1705.3,358.6 1705.6,361.4 1705.8,362.3 1706,362.4 1706.3,362.7 1706.7,363.8 1707,364.4 1707.3,366.7 1707.7,366.6 1708,366.6 1708,366.8 1708.4,371.7 1708.7,373.7 1709.1,377.9 1709.1,378.1 1709.4,379.2 1709.8,378.3 1710.1,379.7 1710.2,379.7 1710.5,377 1710.8,373.1 1711.1,367.9 1711.3,365.8 1711.5,365.1 1711.8,361 1712,360.9 1712.2,361.4 1712.5,363.8 1712.7,364.9 1712.9,367.1 1713.2,373.4 1713.4,375.9 1713.6,378.8 1713.9,386.8 1713.9,386.1 1714.3,386.8 1714.6,387.5 1714.9,389.9 1715.3,391.1 1715.6,392.5 1716,392.2 1716.1,392.9 1716.3,392.3 1716.7,394.2 1717,394.1 1717.4,394.2 1717.7,394 1718,394.1 1718.4,394.1 1718.7,395.3 1719.1,394.3 1719.4,395.6 1719.8,395.3 1719.9,394.5 1720.1,394.5 1720.5,395.4 1720.8,396.4 1721.2,396 1721.5,397.8 1721.8,398.6 1722.2,398.6 1722.5,397.5 1722.9,397.5 1723.2,400.2 1723.2,400.6 1723.6,399.4 1723.9,400.1 1724.3,399.7 1724.6,399.5 1725,400.8 1725.3,399.8 1725.6,400.9 1726,401.6 1726.3,400.4 1726.7,401.8 1727,399.7 1727.4,401.4 1727.7,400.8 1728.1,402.7 1728.4,401 1728.6,400.5 1728.7,402.1 1729.1,399.8 1729.4,401.1 1729.8,400.2 1730.1,401.5 1730.5,400.4 1730.8,401 1731.2,400.2 1731.5,399.4 1731.9,398.5 1732.2,401.1 1732.5,399.9 1732.9,398.8 1733.2,399.2 1733.6,400 1733.9,398.1 1734.3,400.5 1734.6,398.6 1735,398.3 1735.1,399.3 1735.3,398.6 1735.7,397.6 1736,398.8 1736.3,398.3 1736.7,398.5 1737,396.7 1737.4,396 1737.7,396.4 1737.8,395.5 1738.1,393.3 1738.4,392.2 1738.8,388.2 1739.1,373.6 1739.4,339.9 1739.8,271.3 1740.1,186.6 1740.5,141.2 1740.5,141.8 1740.8,186.7 1741.2,272.4 1741.5,339.7 1741.9,375.6 1742.2,387.2 1742.6,393.8 1742.9,396 1743.2,396.8 1743.6,398.5 1743.9,398.8 1744.3,400.2 1744.6,400.1 1745,401 1745.3,400.2 1745.7,402 1746,401.5 1746.4,402.6 1746.7,401.4 1747,401.2 1747.4,401.8 1747.7,401.4 1748.1,401.1 1748.4,401.9 1748.8,401.9 1749.1,401.5 1749.5,401.8 1749.8,401.4 1750.2,402.2 1750.5,401.2 1750.8,403.4 1751.2,402.2 1751.5,402.9 1751.9,401.4 1752.2,402.5 1752.6,402.2 1752.9,403 1753.3,403 1753.6,401.2 1753.9,403.2 1754.3,401.4 1754.6,403.4 1755,402.4 1755.3,401.6 1755.7,403 1756,402.5 1756.4,401.8 1756.7,402 1757.1,402.8 1757.4,401.6 1757.7,401.9 1758.1,403.8 1758.4,402 1758.8,402.8 1759.1,402.9 1759.5,403.3 1759.8,403.2 1760.2,400.8 1760.5,402.3 1760.9,403.5 1761.2,402.1 1761.5,403.9 1761.9,402.8 1762.2,401.8 1762.6,403.1 1762.9,404.1 1763.3,402.2 1763.6,403.1 1764,402.1 1764.3,402.3 1764.6,402.8 1765,403.1 1765.3,403 1765.7,402.9 1766,404.5 1766.4,402 1766.7,401.5 1767.1,403.2 1767.4,402.9 1767.8,401.8 1768.1,404 1768.4,402.3 1768.8,401.8 1769.1,403.1 1769.5,403.3 1769.8,404.5 1770.2,401.8 1770.5,402 1770.9,402.7 1771.2,402.6 1771.6,402.8 1771.9,402.4 1772.2,401.8 1772.6,402.6 1772.9,403.4 1773.3,403.5 1773.6,402.5 1774,403.3 1774.3,403.2 1774.7,402.6 1775,402.7 1775.3,403 1775.7,405 1776,403.1 1776.4,402.4 1776.7,402.9 1777.1,402.6 1777.4,403.8 1777.8,401.5 1778.1,402.3 1778.5,403.6 1778.8,403.3 1779.1,403.1 1779.5,403.6 1779.8,402.1 1780.2,403.3 1780.5,402.3 1780.9,402.2 1781.2,403.5 1781.6,402.5 1781.9,402.9 1782.3,403.6 1782.6,402.4 1782.9,403.6 1783.3,404.7 1783.6,403 1784,403.8 1784.3,403.7 1784.7,402.3 1785,402.2 1785.4,403.2 1785.7,401.7 1786.1,403.2 1786.4,403.4 1786.7,403.5 1787.1,403.5 1787.4,404.2 1787.8,403 1788.1,404.2 1788.5,403.6 1788.8,403.6 1789.2,403.2 1789.5,403.9 1789.8,402.7 1790.2,403.8 1790.5,404.1 1790.9,402.8 1791.2,402.6 1791.6,402.8 1791.9,403.3 1792.3,403.6 1792.6,403.9 1793,404.7 1793.3,404.5 1793.6,403.5 1794,403.1 1794.3,402.5 1794.7,403.9 1795,403.7 1795.4,403.2 1795.7,403.3 1796.1,403.3 1796.4,401.6 1796.8,403.4 1797.1,403.6 1797.4,403.3 1797.8,402.7 1798.1,403.4 1798.5,403.8 1798.8,404.7 1799.2,404.2 1799.5,403.8 1799.9,403.4 1800.2,402.5 1800.5,403.1 1800.9,402.4 1801.2,403.3 1801.6,404.1 1801.9,404.1 1802.3,403.9 1802.6,403.1 1803,403.4 1803.3,401.8 1803.7,399.6 1804,400.1 1804.3,399.5 1804.3,398.3 1804.7,399.6 1805,399.3 1805.4,401.6 1805.7,403.6 1806.1,402.6 1806.4,404.2 1806.8,403.5 1807.1,402.8 1807.5,402.1 1807.8,403.9 1808.1,403.9 1808.5,402.3 1808.8,403.1 1809.2,404.1 1809.5,402.8 1809.9,403.6 1810.2,401.9 1810.6,402.5 1810.9,403.7 1811.2,402.2 1811.6,402 1811.9,402 1812.3,402.6 1812.6,401.6 1813,402.5 1813.3,402.8 1813.7,403.3 1814,401.7 1814.4,402.8 1814.7,401.6 1815,400.6 1815.4,400.6 1815.7,400.8 1816.1,400.3 1816.4,399.3 1816.8,398.5 1816.8,399.1 1817.1,398.6 1817.5,398.7 1817.8,399 1818.2,400.3 1818.5,398.4 1818.8,399.4 1819.2,398.8 1819.5,400.2 1819.9,400.4 1820.2,400.5 1820.6,399.2 1820.9,399.4 1821.3,399.8 1821.6,399.3 1821.9,399.2 1822.3,399.1 1822.6,399 1823,398.6 1823.3,398.9 1823.7,397.5 1824,398.2 1824.4,397.5 1824.7,398.3 1825.1,397.9 1825.4,398.7 1825.4,399.3 1825.7,397.5 1826.1,397.8 1826.4,398.7 1826.8,399.5 1827.1,399.1 1827.5,398.9 1827.8,398.7 1828.2,398.5 1828.5,399.2 1828.9,399.4 1829.2,399.3 1829.5,398.9 1829.9,398.3 1830.2,399 1830.6,399.4 1830.9,399 1831.3,400.2 1831.6,399 1832,399.9 1832.3,400.4 1832.7,400.8 1833,400.4 1833.3,401.1 1833.7,399.7 1834,399.3 1834.4,400.3 1834.7,398.3 1835.1,397.5 1835.4,393 1835.8,386.2 1836.1,366.7 1836.4,333.7 1836.8,296.7 1837.1,280.4 1837.1,280.4 1837.5,298.9 1837.8,336 1838.2,367 1838.5,386.2 1838.9,395.1 1839.2,398.7 1839.6,399.4 1839.9,400.6 1840.2,401.8 1840.6,401.1 1840.9,401.7 1841.3,403.7 1841.6,402.6 1842,403.8 1842.3,404.2 1842.7,403.5 1843,404.2 1843.4,403.6 1843.7,403.2 1844,403.8 1844.4,404 1844.7,404.1 1845.1,404.1 1845.4,403.8 1845.8,404.9 1846.1,404 1846.5,403.9 1846.8,404.9 1847.1,403.5 1847.5,404.3 1847.8,405.3 1848.2,404.4 1848.5,405.3 1848.9,404.2 1849.2,404 1849.6,404.3 1849.9,404 1850.3,404.2 1850.6,404.1 1850.9,405 1851.3,404.8 1851.6,404.3 1852,404 1852.3,406.8 1852.7,404.4 1853,405.5 1853.4,403.7 1853.7,404 1854.1,405.4 1854.4,403.8 1854.7,403.8 1855.1,404.6 1855.4,404.1 1855.8,404.4 1856.1,404.7 1856.5,405.2 1856.8,404.8 1857.2,404.9 1857.5,405.6 1857.8,405.7 1858.2,404.4 1858.5,403.4 1858.9,404 1859.2,405.5 1859.6,404.4 1859.9,404.2 1860.3,404.4 1860.6,405.9 1861,404.8 1861.3,404.5 1861.6,404.3 1862,404 1862.3,406.8 1862.7,404.8 1863,404.9 1863.4,404.6 1863.7,405.6 1864.1,404.1 1864.4,403.5 1864.8,404.4 1865.1,405.1 1865.4,406.4 1865.8,404.8 1866.1,404.2 1866.5,404.7 1866.8,404.3 1867.2,404.3 1867.5,404.9 1867.9,405.1 1868.2,404.4 1868.6,405.6 1868.9,404.8 1869.2,404.9 1869.6,404.5 1869.9,405.1 1870.3,405.2 1870.6,405.3 1871,404.3 1871.3,405.3 1871.7,404.5 1872,405 1872.3,405.4 1872.7,406 1873,404.6 1873.4,404.1 1873.7,405 1874.1,405.8 1874.4,404.7 1874.8,406.6 1875.1,403.6 1875.5,406 1875.8,405.8 1876.1,405.7 1876.5,404.4 1876.8,405.9 1877.2,405.8 1877.5,405.8 1877.9,404.8 1878.2,404.8 1878.6,405.9 1878.9,405.2 1879.3,404.7 1879.6,404.4 1879.9,405.2 1880.3,404 1880.6,405.4 1881,405.1 1881.3,403.9 1881.7,405.3 1882,405.8 1882.4,405.2 1882.7,404.1 1883,404.6 1883.4,405.6 1883.7,404.1 1884.1,404.7 1884.4,405.8 1884.8,404.8 1885.1,404.6 1885.5,405.6 1885.8,406.2 1886.2,405.3 1886.5,404.1 1886.8,403.9 1887.2,404.8 1887.5,403.8 1887.9,405 1888.2,405.7 1888.6,403.2 1888.9,404.9 1889.3,405.3 1889.6,404.6 1890,405.3 1890.3,405.4 1890.6,405.8 1891,406.9 1891.3,405.2 1891.7,404.3 1892,404.2 1892.4,404 1892.7,405.2 1893.1,404.7 1893.4,404.3 1893.7,403.5 1894.1,403.7 1894.4,402.7 1894.8,402.3 1894.8,401.1 1895.1,401.7 1895.5,401.7 1895.8,402.9 1896.2,404.1 1896.5,403.6 1896.9,404.3 1897.2,406.3 1897.5,404.8 1897.9,404 1898.2,404.2 1898.6,405 1898.9,405.7 1899.3,405 1899.6,405.7 1900,405.3 1900.3,404.3 1900.7,405.8 1901,404.8 1901.3,406.4 1901.7,404.7 1902,405 1902.4,404.7 1902.7,404.9 1903.1,405.5 1903.4,405 1903.8,406 1904.1,405.4 1904.4,406.2 1904.8,405.2 1905.1,406 1905.5,406 1905.8,405 1906.2,406.9 1906.5,406.2 1906.9,405.5 1907.2,404.9 1907.6,405 1907.9,404.9 1908.2,405.2 1908.6,404.2 1908.9,405 1909.3,404.4 1909.6,406 1910,405.2 1910.3,405.7 1910.7,405.8 1911,403.7 1911.4,403.3 1911.7,399.6 1912,396.2 1912.4,390.9 1912.7,387.9 1913.1,387.3 1913.1,386.7 1913.4,387.6 1913.8,391.6 1914.1,395.3 1914.5,398.9 1914.8,400.9 1915.2,404.1 1915.5,404.9 1915.8,404.5 1916.2,403.8 1916.5,404.7 1916.9,406.4 1917.2,404.1 1917.6,404.7 1917.9,404.8 1918.3,405.7 1918.6,404.3 1918.9,405.4 1919.3,404.6 1919.6,405 1920,404.4 1920.3,405.6 1920.7,404.9 1921,404.9 1921.4,406.1 1921.7,405.6 1922.1,407 1922.4,405.6 1922.7,405.4 1923.1,405.4 1923.4,407.3 1923.8,406.2 1924.1,405.2 1924.5,405.6 1924.8,405 1925.2,405.9 1925.5,405 1925.9,405 1926.2,405.7 1926.5,406.4 1926.9,406 1927.2,405.9 1927.6,405.5 1927.9,403.7 1928.3,405.3 1928.6,405.3 1929,405.8 1929.3,406.7 1929.6,406 1930,404.2 1930.3,405.5 1930.7,405.3 1931,406 1931.4,405.4 1931.7,404.1 1932.1,404.8 1932.4,405.2 1932.8,404 1933.1,405.4 1933.4,405.3 1933.8,406.2 1934.1,405.4 1934.5,405 1934.8,405.4 1935.2,405.5 1935.5,406.2 1935.9,404.8 1936.2,403.9 1936.6,407.5 1936.9,406 1937.2,405.5 1937.6,407.2 1937.9,404.7 1938.3,405 1938.6,405.2 1939,405.9 1939.3,405.2 1939.7,406.1 1940,405.3 1940.3,406.5 1940.7,405.9 1941,404.4 1941.4,405.5 1941.7,404.7 1942.1,405.5 1942.4,405.6 1942.8,407.1 1943.1,405.4 1943.5,404.4 1943.8,405.6 1944.1,404.7 1944.5,406.9 1944.8,406.1 1945.2,406.7 1945.5,405.3 1945.9,404.8 1946.2,405.8 1946.6,404.6 1946.9,404.9 1947.3,405.1 1947.6,405.5 1947.9,404.5 1948.3,404.1 1948.6,406.6 1949,405.2 1949.3,405.5 1949.7,406 1950,405.9 1950.4,405.2 1950.7,405.3 1951,406.8 1951.4,406.5 1951.7,406.2 1952.1,406.8 1952.4,404.3 1952.8,405.7 1953.1,405.5 1953.5,404.3 1953.8,405.9 1954.2,406.1 1954.5,405.8 1954.8,404.4 1955.2,405.5 1955.5,405.8 1955.9,405.5 1956.2,405.9 1956.6,406 1956.9,406.7 1957.3,405.9 1957.6,407.6 1958,405.9 1958.3,405.9 1958.6,406.3 1959,405.7 1959.3,405.5 1959.7,406.6 1960,404.2 1960.4,404.5 1960.7,407.2 1961.1,406.2 1961.4,406.1 1961.8,405.9 1962.1,405.9 1962.4,405.1 1962.8,405.5 1963.1,405 1963.5,406.6 1963.8,406.2 1964.2,405.9 1964.5,406 1964.9,405.6 1965.2,404.9 1965.5,407 1965.9,406.2 1966.2,405.6 1966.6,406.2 1966.9,406.6 1967.3,406.6 1967.6,406.2 1968,406.3 1968.3,405.6 1968.7,406.7 1969,406.4 1969.3,406.4 1969.7,404.8 1970,406.1 1970.4,406.2 1970.7,406.2 1971.1,403.8 1971.4,404.3 1971.8,405.8 1972.1,404.9 1972.5,405.8 1972.8,405.4 1973.1,406.1 1973.5,405 1973.8,404.6 1974.2,405.7 1974.5,405 1974.9,404.2 1975.2,403.5 1975.6,407 1975.9,404.2 1976.2,403.8 1976.6,401.6 1976.9,400.5 1977.3,397.5 1977.6,391.9 1978,383.7 1978.3,372.5 1978.7,364.5 1979,361.3 1979,360.1 1979.4,364.1 1979.7,371.8 1980,382.6 1980.4,390.7 1980.7,398.2 1981.1,401.1 1981.4,404.2 1981.8,404.2 1982.1,405.1 1982.5,405.2 1982.8,405.2 1983.2,404.4 1983.5,406.5 1983.8,405.3 1984.2,404.1 1984.5,405.1 1984.9,404.8 1985.2,406.5 1985.6,406.4 1985.9,406.8 1986.3,407.3 1986.6,405.3 1986.9,404.4 1987.3,405.1 1987.6,406.1 1988,403.9 1988.3,405.4 1988.7,406.5 1989,405.3 1989.4,405.8 1989.7,405.2 1990.1,407.2 1990.4,407.3 1990.7,405.2 1991.1,405.3 1991.4,406 1991.8,406.5 1992.1,406.3 1992.5,406.5 1992.8,406.7 1993.2,406.9 1993.5,407.4 1993.9,406.2 1994.2,405.7 1994.5,406 1994.9,407.7 1995.2,406.7 1995.6,406.6 1995.9,407.1 1996.3,407 1996.6,407.8 1997,405.6 1997.3,406.3 1997.7,406.7 1998,406.7 1998.3,405.9 1998.7,405 1999,406 1999.4,405.7 1999.7,406.1 2000.1,407 2000.4,406.7 2000.8,405.3 2001.1,405.6 2001.4,406.3 2001.8,407 2002.1,406.1 2002.5,406.3 2002.8,405.1 2003.2,405.8 2003.5,405.6 2003.9,406.3 2004.2,406 2004.6,405.6 2004.9,405.4 2005.2,406.3 2005.6,405.7 2005.9,407 2006.3,406.3 2006.6,406 2007,406.9 2007.3,405.3 2007.7,406.9 2008,405.7 2008.4,406.7 2008.7,405.7 2009,405.5 2009.4,404.9 2009.7,406.2 2010.1,406.6 2010.4,405.2 2010.8,407.5 2011.1,406.2 2011.5,405.4 2011.8,407.6 2012.1,405.9 2012.5,407.3 2012.8,404.2 2013.2,407.8 2013.5,406.4 2013.9,406.2 2014.2,406.5 2014.6,405.4 2014.9,406.9 2015.3,406.6 2015.6,406.5 2015.9,405.8 2016.3,405.4 2016.6,406.5 2017,406.9 2017.3,406.4 2017.7,406.1 2018,405.9 2018.4,406.8 2018.7,407.3 2019.1,406.2 2019.4,405.7 2019.7,408.1 2020.1,405.2 2020.4,406.5 2020.8,406.2 2021.1,407.2 2021.5,406.2 2021.8,405.1 2022.2,405.5 2022.5,406.4 2022.8,406.3 2023.2,405.8 2023.5,405.9 2023.9,405.1 2024.2,405.2 2024.6,405.7 2024.9,405.6 2025.3,405.9 2025.6,405 2026,406.7 2026.3,404.1 2026.6,405.7 2027,405.3 2027.3,406 2027.3,405.9 2027.7,404 2028,405.4 2028.4,405.9 2028.7,406.3 2029.1,406.2 2029.4,405.6 2029.8,407.1 2030.1,406.1 2030.4,405.9 2030.8,406.4 2031.1,406 2031.5,405.9 2031.8,406.4 2032.2,408.3 2032.5,406.6 2032.9,406.4 2033.2,406 2033.5,406.6 2033.9,405.5 2034.2,406.7 2034.6,406.6 2034.9,406.4 2035.3,406.7 2035.6,406.2 2036,406.8 2036.3,406.7 2036.7,406.7 2037,406.3 2037.3,406.9 2037.7,406.1 2038,407.2 2038.4,406.1 2038.7,407.1 2039.1,406.2 2039.4,405.9 2039.8,405 2040.1,405.7 2040.5,404.7 2040.8,403.1 2041.1,401.2 2041.5,398 2041.8,393.9 2042.2,390.9 2042.5,391 2042.5,390.7 2042.9,392.8 2043.2,396 2043.6,398.5 2043.9,401.4 2044.3,403.5 2044.6,404.6 2044.9,404.9 2045.3,403.9 2045.6,406.6 2046,406.6 2046.3,406.2 2046.7,406.4 2047,407 2047.4,407 2047.7,406.5 2048,406.3 2048.4,406.9 2048.7,407.1 2049.1,408.1 2049.4,405.9 2049.8,406.9 2050.1,405.9 2050.5,406.2 2050.8,408.3 2051.2,406.3 2051.5,406.5 2051.8,406.2 2052.2,407.2 2052.5,406.3 2052.9,405.4 2053.2,406.7 2053.6,407.2 2053.9,406.6 2054.3,406.8 2054.6,406.1 2055,406 2055.3,406.7 2055.6,405.8 2056,406.3 2056.3,406 2056.7,406.5 2057,407.2 2057.4,406.7 2057.7,407.5 2058.1,407 2058.4,406.6 2058.7,406 2059.1,406.8 2059.4,405.9 2059.8,407.3 2060.1,405.7 2060.5,405.7 2060.8,406.1 2061.2,405.5 2061.5,406.8 2061.9,406.2 2062.2,406.4 2062.5,407.2 2062.9,405.1 2063.2,406.6 2063.6,407 2063.9,407.5 2064.3,406.8 2064.6,406.3 2065,407.4 2065.3,407.4 2065.7,408.4 2066,408.3 2066.3,406.6 2066.7,407.8 2067,406.9 2067.4,406.1 2067.7,407.3 2068.1,407.7 2068.4,405.1 2068.8,407.8 2069.1,406.2 2069.4,408 2069.8,407 2070.1,406.9 2070.5,407.8 2070.8,406.6 2071.2,408.3 2071.5,406.1 2071.9,406.4 2072.2,406.1 2072.6,407.2 2072.9,406.8 2073.2,407.4 2073.6,407.6 2073.9,407.4 2074.3,407.6 2074.6,407.6 2075,406.8 2075.3,406.3 2075.7,406.2 2076,407.4 2076.4,406.5 2076.7,406.2 2077,406.3 2077.4,406.7 2077.7,407 2078.1,406.7 2078.4,406.1 2078.8,407.3 2079.1,405.3 2079.5,406.6 2079.8,407.6 2080.1,407.1 2080.5,407.7 2080.8,407 2081.2,407.3 2081.5,406.9 2081.9,406.6 2082.2,407.2 2082.6,407.6 2082.9,405.5 2083.3,406.3 2083.6,405.4 2083.9,406.2 2084.3,406 2084.6,406.5 2085,406.7 2085.3,407.6 2085.7,407.8 2086,406.3 2086.4,406.5 2086.7,407.3 2087.1,406.4 2087.4,406.6 2087.7,405.6 2088.1,407.4 2088.4,407.1 2088.8,406.2 2089.1,406 2089.5,406.1 2089.8,407.2 2090.2,406.6 2090.5,406 2090.9,406.7 2091.2,407.5 2091.5,407.8 2091.9,407.9 2092.2,407 2092.6,407.1 2092.9,407.1 2093.3,407.4 2093.6,407.3 2094,406.2 2094.3,406.4 2094.6,406.6 2095,407.4 2095.3,406.5 2095.7,406.3 2096,407.5 2096.4,407.8 2096.7,406.1 2097.1,406.6 2097.4,407.5 2097.8,406.3 2098.1,407.2 2098.4,405.3 2098.8,405.9 2099.1,406.1 2099.5,405.9 2099.8,404.2 2100.2,400.5 2100.5,398.1 2100.9,395.6 2101.2,393.9 2101.6,391.5 2101.9,390.9 2101.9,390.6 2102.2,390.6 2102.6,393 2102.9,395.6 2103.3,399.8 2103.6,400.8 2104,403.6 2104.3,405 2104.7,406.5 2105,405.6 2105.3,406.7 2105.7,405.9 2106,407.4 2106.4,406.5 2106.7,406.6 2107.1,406.2 2107.4,406.5 2107.8,406.5 2108.1,406.5 2108.5,407.8 2108.8,406.3 2109.1,407.2 2109.5,407.6 2109.8,406.3 2110.2,405.5 2110.5,407.4 2110.9,405.9 2111.2,406.6 2111.6,407.1 2111.9,407.3 2112.3,407 2112.6,406.7 2112.9,407.9 2113.3,407.3 2113.6,408.5 2114,406.5 2114.3,407.1 2114.7,407.2 2115,407.6 2115.4,407.4 2115.7,407.2 2116,408.6 2116.4,407.1 2116.7,407.6 2117.1,407.4 2117.4,406.8 2117.8,407.8 2118.1,405.9 2118.5,408.1 2118.8,406.2 2119.2,407.1 2119.5,407.4 2119.8,406.9 2120.2,406.9 2120.5,408.1 2120.9,409 2121.2,408 2121.6,407.4 2121.9,406.9 2122.3,406.8 2122.6,408.2 2123,408 2123.3,408.3 2123.6,408 2124,408.3 2124.3,406.9 2124.7,406.8 2125,406.6 2125.4,407.3 2125.7,407.2 2126.1,407.4 2126.4,406.5 2126.8,407.5 2127.1,407.9 2127.4,407.4 2127.8,405.5 2128.1,407.4 2128.5,407.1 2128.8,408 2129.2,407.3 2129.5,407.8 2129.9,407.1 2130.2,407.6 2130.5,408.1 2130.9,407.2 2131.2,407.6 2131.6,407.5 2131.9,407.9 2132.3,407.3 2132.6,407.8 2133,406.1 2133.3,407.3 2133.7,408 2134,407.9 2134.3,406.8 2134.7,406.9 2135,407.7 2135.4,407.7 2135.7,407.8 2136.1,407.5 2136.4,407.6 2136.8,408.2 2137.1,406.8 2137.5,406.5 2137.8,408.2 2138.1,407 2138.5,408 2138.8,407 2139.2,406.7 2139.5,408.6 2139.9,407.5 2140.2,406.5 2140.6,407.4 2140.9,407.4 2141.2,407.4 2141.6,407.6 2141.9,406.7 2142.3,407.3 2142.6,407.9 2143,408 2143.3,407.6 2143.7,407 2144,406.2 2144.4,408.6"/>
<rect x="1699.8" y="421.7" width="5.6" height="73" fill="#666666"/>
<rect x="1812.4" y="484.7" width="4.6" height="10" fill="#666666"/>
<rect x="1831.9" y="487.1" width="4.6" height="7.6" fill="#666666"/>
<rect x="1892.1" y="489.7" width="4.6" height="5" fill="#666666"/>
<rect x="1902.8" y="491" width="4.6" height="3.7" fill="#666666"/>
<rect x="1949.8" y="492.5" width="4.6" height="2.2" fill="#666666"/>
<rect x="2040.2" y="491" width="4.6" height="3.7" fill="#666666"/>
<rect x="2083.7" y="489" width="4.6" height="5.7" fill="#666666"/>
<rect x="1711.5" y="486.4" width="5.2" height="8.3" fill="#4A86E6"/>
<rect x="1741.2" y="421" width="5.9" height="73.7" fill="#4A86E6"/>
<rect x="1837" y="452.2" width="5.9" height="42.5" fill="#4A86E6"/>
<rect x="1896.6" y="492" width="4.6" height="2.7" fill="#4A86E6"/>
<rect x="1913.6" y="481.9" width="5.5" height="12.8" fill="#4A86E6"/>
<rect x="1981.2" y="489" width="5.2" height="5.7" fill="#4A86E6"/>
<rect x="2029.2" y="493" width="4.6" height="1.7" fill="#4A86E6"/>
<rect x="2043.9" y="483" width="5.5" height="11.7" fill="#4A86E6"/>
<rect x="2104.7" y="486.4" width="5.5" height="8.3" fill="#4A86E6"/>
<rect x="1592.4" y="90" width="552.3" height="404.7" fill="none" stroke="#000" stroke-width="2.7"/>
<path d="M1592.4 494.7V499.9M1661.4 494.7V504.7M1730.5 494.7V499.9M1799.5 494.7V504.7M1868.5 494.7V499.9M1937.6 494.7V504.7M2006.6 494.7V499.9M2075.7 494.7V504.7M2144.7 494.7V499.9" stroke="#000" stroke-width="2.6" fill="none"/>
<text x="1661.4" y="543.8" font-size="42" text-anchor="middle">20</text>
<text x="1799.5" y="543.8" font-size="42" text-anchor="middle">40</text>
<text x="1937.6" y="543.8" font-size="42" text-anchor="middle">60</text>
<text x="2075.7" y="543.8" font-size="42" text-anchor="middle">80</text>
<text x="1713.6" y="595.2" font-size="45.3">2 Theta (degree)</text>
<text transform="translate(1553.9 498.6) rotate(-90)" font-size="45.3">Intensity (arb. units)</text>
<text x="1521.4" y="43.5" font-size="59.5" font-weight="bold">c</text>
<text x="1610.5" y="442.3" font-size="35" fill="#7A7A7A">Gr</text>
<polyline fill="none" stroke="#E46A74" stroke-width="3.6" stroke-linejoin="round" points="69,1085 69.3,1085.7 69.7,1086.2 70,1086.6 70.4,1086.1 70.7,1085.3 71.1,1086.1 71.4,1088.2 71.8,1088.7 72.1,1085.9 72.5,1086.8 72.8,1084.4 73.1,1086.4 73.5,1086.9 73.8,1085.9 74.2,1088 74.5,1087.1 74.9,1086.8 75.2,1083.6 75.6,1085.6 75.9,1086.9 76.2,1085.7 76.6,1084.4 76.9,1085.6 77.3,1087.7 77.6,1086.9 78,1087.1 78.3,1086.4 78.7,1087.8 79,1083.4 79.4,1085 79.7,1088.1 80,1087.3 80.4,1086.5 80.7,1085.9 81.1,1084.4 81.4,1085.8 81.8,1086.1 82.1,1085.3 82.5,1087.6 82.8,1087.3 83.1,1086 83.5,1087.2 83.8,1086.2 84.2,1086.5 84.5,1085.8 84.9,1088.7 85.2,1084.8 85.6,1086.1 85.9,1087.3 86.3,1087.3 86.6,1084.6 86.9,1085.3 87.3,1086.2 87.6,1085.5 88,1085.6 88.3,1086 88.7,1086.1 89,1087.4 89.4,1084.6 89.7,1087.3 90,1086.1 90.4,1086.9 90.7,1085.9 91.1,1088.7 91.4,1084.5 91.8,1087.5 92.1,1085.9 92.5,1086.1 92.8,1087.7 93.2,1086.1 93.5,1087.2 93.8,1087.8 94.2,1085.7 94.5,1088.4 94.9,1087.6 95.2,1086.1 95.6,1086.6 95.9,1085.6 96.3,1086.6 96.6,1087.2 96.9,1087.4 97.3,1086.6 97.6,1085.8 98,1085.7 98.3,1085.4 98.7,1086.1 99,1087 99.4,1085.8 99.7,1085.7 100.1,1085.3 100.4,1086.9 100.7,1086.1 101.1,1084.7 101.4,1087.5 101.8,1087.4 102.1,1086.4 102.5,1086 102.8,1086.3 103.2,1085.5 103.5,1087.4 103.8,1087.8 104.2,1087.4 104.5,1086.6 104.9,1086.6 105.2,1086.9 105.6,1088.1 105.9,1085.6 106.3,1086.4 106.6,1085.7 107,1085.2 107.3,1086.7 107.6,1087.5 108,1085.3 108.3,1087.4 108.7,1087.1 109,1086.9 109.4,1087.8 109.7,1085.8 110.1,1088 110.4,1086.1 110.7,1087 111.1,1084.9 111.4,1087.4 111.8,1086.5 112.1,1085.9 112.5,1085.4 112.8,1086.6 113.2,1087.8 113.5,1087 113.9,1086.1 114.2,1085.7 114.5,1085.4 114.9,1086.1 115.2,1084.8 115.6,1086.1 115.9,1087.5 116.3,1086.4 116.6,1086.3 117,1085.8 117.3,1087.2 117.6,1087.1 118,1087.9 118.3,1085.8 118.7,1085.3 119,1085.8 119.4,1085.2 119.7,1086.4 120.1,1086 120.4,1085.6 120.8,1086.4 121.1,1087.5 121.4,1087.2 121.8,1085.8 122.1,1086.5 122.5,1086.8 122.8,1087.1 123.2,1086.1 123.5,1085.2 123.9,1086.8 124.2,1085.5 124.5,1086.1 124.9,1086.2 125.2,1087.4 125.6,1086 125.9,1086.6 126.3,1086.3 126.6,1085.9 127,1087.4 127.3,1086 127.7,1087 128,1086.8 128.3,1084.6 128.7,1084.8 129,1083.3 129.4,1086.8 129.7,1086.8 130.1,1086 130.4,1086 130.8,1086.2 131.1,1085.9 131.4,1086.5 131.8,1086.5 132.1,1085.6 132.5,1087.9 132.8,1087.5 133.2,1086.1 133.5,1088.7 133.9,1089 134.2,1087.8 134.6,1087.7 134.9,1086 135.2,1086.2 135.6,1085 135.9,1086.1 136.3,1087.5 136.6,1086.1 137,1084.9 137.3,1088.2 137.7,1088.5 138,1088.1 138.3,1085 138.7,1087.4 139,1085.7 139.4,1086.4 139.7,1087.3 140.1,1088.1 140.4,1085.9 140.8,1086.2 141.1,1085.3 141.5,1086.6 141.8,1085.6 142.1,1086.1 142.5,1087.3 142.8,1086.6 143.2,1086.7 143.5,1086.9 143.9,1087.4 144.2,1088 144.6,1085.4 144.9,1085 145.2,1087.1 145.6,1087.3 145.9,1088 146.3,1087.4 146.6,1088.3 147,1087.1 147.3,1086 147.7,1087.6 148,1085.2 148,1085.4 148.4,1086.3 148.7,1085.5 149,1086.6 149.4,1085.1 149.7,1087.2 150,1084.2 150.1,1085.9 150.4,1084.6 150.8,1086.4 151.1,1084.2 151.5,1085.4 151.8,1081.3 152.1,1083.6 152.5,1085.9 152.8,1084.2 153.2,1084 153.5,1084.7 153.9,1086 154.2,1082.4 154.6,1083.2 154.9,1082.7 155.3,1083.7 155.4,1082.3 155.6,1081.2 155.9,1081 156.3,1082.9 156.6,1082.1 157,1082.5 157.3,1079.7 157.7,1080.1 158,1080.1 158.4,1081.2 158.7,1080.5 159,1079.6 159.4,1078.5 159.7,1079.4 160.1,1078.4 160.4,1079.5 160.8,1080 161.1,1078.1 161.5,1076.6 161.6,1080 161.8,1078 162.2,1077.6 162.5,1076.8 162.8,1076.5 163.2,1076.1 163.5,1075.9 163.9,1073.8 164.2,1074.2 164.6,1074.5 164.9,1074.4 165.3,1074.1 165.6,1074 165.9,1071.4 166.3,1071.9 166.6,1071.9 167,1072.3 167.3,1071.6 167.7,1073.5 167.8,1071 168,1070.7 168.4,1068.7 168.7,1071.4 169.1,1068.9 169.4,1068 169.7,1066.8 170.1,1066.9 170.4,1065.7 170.8,1066.6 171.1,1063.9 171.5,1063.6 171.7,1063 171.8,1063.8 172.2,1062.5 172.5,1062.2 172.8,1060.7 173.2,1059.7 173.5,1058.1 173.9,1058 174.2,1056.5 174.6,1055.3 174.9,1052.4 175.3,1052.5 175.6,1051.2 175.6,1050.1 176,1051.2 176.3,1049.4 176.6,1047 177,1044.5 177.3,1043.5 177.7,1038.3 178,1039.3 178.3,1034.4 178.4,1035.9 178.7,1032.4 179.1,1029.3 179.4,1025.9 179.7,1022.5 180.1,1017.6 180.4,1014.2 180.6,1012.3 180.8,1012.6 181.1,1010.7 181.5,1008 181.8,1009.2 182.2,1005.6 182.5,1004.9 182.9,1003.2 183.2,1001.8 183.3,1002.7 183.5,1004.7 183.9,1008.7 184.1,1012.4 184.2,1015.8 184.6,1025.3 184.9,1037.2 184.9,1038.2 185.3,1048.9 185.3,1053.3 185.6,1056.8 186,1057.2 186.3,1062.7 186.4,1063 186.6,1065.3 187,1063.2 187.3,1068.4 187.7,1069.1 188,1071.5 188,1071.9 188.4,1069.1 188.7,1071.9 189.1,1072.4 189.4,1073.5 189.8,1074.5 190.1,1074.6 190.4,1073.5 190.8,1075.4 191.1,1074.3 191.1,1075.9 191.5,1076.1 191.8,1077.3 192.2,1078.7 192.5,1078 192.6,1079.6 192.9,1078.7 193.2,1080.9 193.5,1081.1 193.9,1078.2 194.2,1077 194.6,1078.8 194.9,1076.7 195.3,1073.5 195.6,1068.8 196,1043.8 196,1039.1 196.3,994.7 196.7,920.2 197,857.9 197.1,849.5 197.3,863.8 197.7,935.7 198,1009.8 198.4,1049.7 198.7,1070.2 199.1,1078.3 199.4,1080.2 199.8,1081.3 200,1081.4 200.1,1083.5 200.4,1084.5 200.8,1084.7 201.1,1085.9 201.5,1085.4 201.8,1086.8 202.2,1085.8 202.5,1086.7 202.9,1085.6 203.2,1087.8 203.6,1087.4 203.9,1086.9 204.2,1085.3 204.6,1086.6 204.9,1083.5 205.3,1086.1 205.6,1086.7 206,1085.7 206.3,1086.7 206.7,1087.3 207,1088.5 207.3,1086.7 207.7,1085.1 208,1084.4 208.4,1086.6 208.7,1087.7 209.1,1087.9 209.4,1086.9 209.8,1086.1 210.1,1086.1 210.5,1086.7 210.8,1086.9 211.1,1087.4 211.5,1087 211.8,1088.9 212.2,1087 212.5,1087.4 212.9,1087.9 213.2,1087.9 213.6,1086.3 213.9,1085.3 214.2,1085.6 214.6,1087.3 214.9,1087.5 215.3,1087.3 215.6,1087.7 216,1088.3 216.3,1086.2 216.7,1089.5 217,1089.6 217.4,1087.7 217.7,1086.8 218,1087.2 218.4,1085.6 218.7,1087 219.1,1086.2 219.4,1086.9 219.8,1086.7 220.1,1089.1 220.5,1086.2 220.8,1087.3 221.1,1086.6 221.5,1088.6 221.8,1088.1 222.2,1085.5 222.5,1086.1 222.9,1087.3 223.2,1086.4 223.6,1087.5 223.9,1087.1 224.3,1086 224.6,1086.8 224.9,1087.5 225.3,1087 225.6,1087.2 226,1087.4 226.3,1087 226.7,1088.4 227,1085.8 227.4,1087.6 227.7,1086.6 228,1087.5 228.4,1087.9 228.7,1087.7 229.1,1087.8 229.4,1087.9 229.8,1087.6 230.1,1086.9 230.5,1087.8 230.8,1088.1 231.2,1088 231.5,1087.4 231.8,1087.4 232.2,1085.1 232.5,1086.3 232.9,1086.9 233.2,1088.1 233.6,1088.3 233.9,1087.3 234.3,1086 234.6,1087.6 234.9,1088.1 235.3,1087.9 235.6,1086.4 236,1086.1 236.3,1086.2 236.7,1086.1 237,1088.1 237.4,1087.5 237.7,1089.3 238.1,1088.8 238.4,1088.2 238.7,1086.5 239.1,1087.8 239.4,1087.6 239.8,1085.7 240.1,1085.9 240.5,1086.4 240.8,1088.4 241.2,1086.8 241.5,1085.8 241.8,1087.2 242.2,1087.8 242.5,1085.9 242.9,1089.1 243.2,1086.4 243.6,1088.2 243.9,1087.9 244.3,1086.4 244.6,1087 245,1087.2 245.3,1086.8 245.6,1087.9 246,1087.2 246.3,1085.4 246.7,1087.3 247,1086 247.4,1086.9 247.7,1087.4 248.1,1087.1 248.4,1088.2 248.7,1087.1 249.1,1086.7 249.4,1088.8 249.8,1087.9 250.1,1087 250.5,1087.2 250.8,1086.8 251.2,1087.3 251.5,1086.2 251.9,1089 252.2,1088.4 252.5,1084.9 252.9,1086.2 253.2,1087.1 253.6,1086.5 253.9,1085 254.3,1087.9 254.6,1086 255,1087.9 255.3,1087.6 255.6,1088.7 256,1086.3 256.3,1089 256.7,1086 257,1088.7 257.4,1088.3 257.7,1087.6 258.1,1086.1 258.4,1088.8 258.8,1088 259.1,1085.5 259.4,1084.6 259.8,1086.5 260.1,1086.3 260.5,1087.9 260.8,1087.3 261.2,1087.5 261.5,1086.7 261.9,1088.1 262.2,1086.6 262.5,1085.7 262.9,1084.8 263.2,1087.7 263.6,1086.6 263.9,1085.4 264.3,1086.3 264.6,1086.8 265,1087.9 265.3,1085 265.7,1086.8 266,1087.9 266.3,1087.6 266.7,1088 267,1089.1 267.4,1086.3 267.7,1086.5 268.1,1088.2 268.4,1088.8 268.8,1087.5 269.1,1086.8 269.4,1086 269.8,1087.7 270.1,1087.5 270.5,1086 270.8,1086.6 271.2,1086.1 271.5,1087.6 271.9,1086.9 272.2,1088.3 272.6,1088.4 272.9,1087.3 273.2,1088.1 273.6,1088 273.9,1088.4 274.3,1086.4 274.6,1087.4 275,1088.6 275.3,1087.3 275.7,1086.2 276,1086.7 276.3,1088.7 276.7,1085.8 277,1085.4 277.4,1086.8 277.7,1085.2 278.1,1083.6 278.4,1083.1 278.8,1083.9 279.1,1082 279.5,1081.4 279.8,1072.5 280.1,1055.4 280.5,1025.7 280.8,984.3 281.2,954.9 281.3,949.4 281.5,959.4 281.9,994.4 282.2,1035.7 282.6,1060.9 282.9,1075.7 283.2,1078.5 283.6,1082.4 283.9,1083.1 284.3,1085.7 284.6,1084.9 285,1086 285.3,1084.8 285.7,1084.4 286,1085.8 286.4,1087.3 286.7,1086 287,1087.7 287.4,1085.8 287.7,1085.8 288.1,1085.7 288.4,1085.8 288.8,1085.4 289.1,1085.8 289.5,1085.2 289.8,1084.9 290.1,1087.4 290.5,1086.7 290.8,1085.4 291.2,1085 291.5,1084 291.9,1086.1 292.2,1084.7 292.6,1087.2 292.9,1083.4 293.3,1085.4 293.6,1086.2 293.9,1084.3 294.3,1086.8 294.6,1085.6 295,1085.5 295.3,1083.5 295.7,1085.2 296,1085.1 296.4,1084.1 296.7,1085.7 297,1084 297.4,1081.3 297.7,1083.8 298.1,1085.1 298.4,1082.6 298.8,1083.9 299.1,1082.4 299.5,1083 299.8,1080.1 300.2,1081 300.5,1082.4 300.8,1082.1 301.2,1080.7 301.5,1083.3 301.9,1083 302.2,1081.7 302.2,1080.5 302.6,1083.2 302.9,1082.1 303.3,1083.4 303.6,1083.8 303.9,1082.4 304.3,1082.6 304.6,1083.7 305,1082.7 305.3,1081.1 305.7,1083.8 306,1083.6 306.4,1082.8 306.7,1084 307.1,1083.2 307.4,1083.3 307.7,1084.7 308.1,1082.6 308.4,1082.5 308.8,1084.1 309.1,1083.1 309.5,1085.4 309.8,1083.9 310.2,1083 310.5,1084.5 310.8,1082.8 311.2,1086.6 311.5,1085.3 311.9,1086.1 312.2,1086.1 312.6,1085.9 312.9,1084.7 313.3,1086.7 313.6,1085.7 314,1085.3 314.3,1084.1 314.6,1087.6 315,1086.1 315.3,1086 315.7,1084.6 316,1087.5 316.4,1086.5 316.7,1087.8 317.1,1086.7 317.4,1086 317.7,1087.5 318.1,1085.3 318.4,1085.4 318.8,1087 319.1,1087.8 319.5,1088.2 319.8,1087.1 320.2,1087.1 320.5,1087.4 320.9,1087 321.2,1086.7 321.5,1087.8 321.9,1086.8 322.2,1087.1 322.6,1088.6 322.9,1087.6 323.3,1086.8 323.6,1088.1 324,1087.3 324.3,1088.1 324.6,1086.6 325,1086.7 325.3,1086 325.7,1088.6 326,1088.9 326.4,1088.7 326.7,1087.8 327.1,1087.7 327.4,1087.3 327.8,1088.1 328.1,1087.3 328.4,1086.5 328.8,1088.5 329.1,1088.4 329.5,1088.1 329.8,1087.5 330.2,1087.1 330.5,1087.6 330.9,1087.8 331.2,1086.4 331.5,1087.1 331.9,1086.5 332.2,1088.7 332.6,1086.2 332.9,1086.3 333.3,1086.7 333.6,1087.7 334,1086.6 334.3,1089.3 334.7,1088.3 335,1085.1 335.3,1087.8 335.7,1087.9 336,1086.3 336.4,1087.5 336.7,1087.6 337.1,1086.9 337.4,1087.4 337.8,1087.9 338.1,1087 338.4,1087.5 338.8,1086.3 339.1,1088.2 339.5,1086.9 339.8,1088.7 340.2,1089.6 340.5,1089.2 340.9,1087 341.2,1087.9 341.6,1087.2 341.9,1087.9 342.2,1086.5 342.6,1086.3 342.9,1087.2 343.3,1086.4 343.6,1088.3 344,1087.7 344.3,1087.1 344.7,1086.2 345,1085.3 345.3,1084.4 345.7,1079.4 346,1072.7 346.4,1066.3 346.7,1057.7 346.9,1055.9 347.1,1056.6 347.4,1064 347.8,1070.6 348.1,1077.8 348.5,1083.9 348.8,1086.3 349.1,1087.6 349.5,1085.8 349.8,1087.4 350.2,1086.5 350.5,1087.6 350.9,1085.7 351.2,1087.1 351.6,1088.5 351.9,1087.6 352.2,1085 352.6,1088.5 352.9,1087.9 353.3,1087.3 353.6,1087.6 354,1087.2 354.3,1088.7 354.7,1087.6 355,1086 355.4,1086.7 355.7,1089.2 356,1088.7 356.4,1088.4 356.7,1086.8 357.1,1088.1 357.4,1088.6 357.8,1087.7 358.1,1088.3 358.5,1088.7 358.8,1088.6 359.1,1088 359.5,1088 359.8,1086.2 360.2,1087.1 360.5,1088.2 360.9,1089.1 361.2,1087.5 361.6,1088.3 361.9,1087.2 362.3,1086.1 362.6,1087.4 362.9,1087.4 363.3,1085.9 363.6,1085.8 364,1086.7 364.3,1086 364.7,1086.9 365,1084.9 365.4,1086.9 365.7,1085.4 366,1086.2 366.4,1084.2 366.7,1086.5 367.1,1085.7 367.4,1087.5 367.8,1083.6 368.1,1083.3 368.5,1085.8 368.8,1085.9 369.2,1083.2 369.5,1085.5 369.8,1085.9 369.8,1086.3 370.2,1085.1 370.5,1083.4 370.9,1083.1 371.2,1087.2 371.6,1085.6 371.9,1086.3 372.3,1085.1 372.6,1085.3 372.9,1085.4 373.3,1084.8 373.6,1085.6 374,1084.9 374.3,1085.8 374.7,1087.4 375,1086.5 375.4,1085.9 375.7,1088.4 376.1,1088.1 376.4,1087 376.7,1085.3 377.1,1088.4 377.4,1088.5 377.8,1086.7 378.1,1088.8 378.5,1086.6 378.8,1087.2 379.2,1087.1 379.5,1087.8 379.8,1087.5 380.2,1089.1 380.5,1087.4 380.9,1088.2 381.2,1087.8 381.6,1088 381.9,1087 382.3,1087.8 382.6,1089.2 383,1088.7 383.3,1086.7 383.6,1087.5 384,1086.9 384.3,1087.2 384.7,1087.3 385,1086.7 385.4,1088.4 385.7,1088.8 386.1,1088.1 386.4,1087.5 386.7,1088.1 387.1,1087.2 387.4,1089 387.8,1090.3 388.1,1085.3 388.5,1088.4 388.8,1088 389.2,1088.2 389.5,1087.7 389.9,1086.5 390.2,1087.9 390.5,1087.6 390.9,1087.8 391.2,1088 391.6,1087.5 391.9,1090.3 392.3,1086.8 392.6,1087.6 393,1086.7 393.3,1087.8 393.6,1089.6 394,1088 394.3,1087.2 394.7,1086.7 395,1088.6 395.4,1087.3 395.7,1088.6 396.1,1087.3 396.4,1087.5 396.8,1088 397.1,1086.4 397.4,1089.2 397.8,1086.9 398.1,1088.2 398.5,1088.4 398.8,1090.4 399.2,1088.5 399.5,1088.8 399.9,1087.5 400.2,1087.8 400.5,1087.9 400.9,1089 401.2,1086.9 401.6,1088.3 401.9,1090.7 402.3,1086.8 402.6,1085.8 403,1087 403.3,1087.2 403.7,1088.4 404,1085.9 404.3,1084 404.7,1078.2 405,1074.2 405.4,1071.3 405.5,1069.8 405.7,1071.7 406.1,1074.9 406.4,1080.1 406.8,1082.1 407.1,1083.7 407.4,1088.3 407.8,1087.4 408.1,1087.5 408.5,1090.3 408.8,1088.9 409.2,1088.4 409.5,1087.3 409.9,1088.4 410.2,1088.3 410.6,1087.8 410.9,1089.5 411.2,1088.8 411.6,1088.7 411.9,1087.3 412.3,1087.4 412.6,1089.3 413,1088.4 413.3,1087.6 413.7,1088.5 414,1088.2 414.3,1087.8 414.7,1088 415,1089 415.4,1088.5 415.7,1087.4 416.1,1087.5 416.4,1088.5 416.8,1087.2 417.1,1088.4 417.5,1088.1 417.8,1086.9 418.1,1085.8 418.5,1087.4 418.8,1088.2 419.2,1088.2 419.5,1089.5 419.9,1088.2 420.2,1088.1 420.6,1088.6 420.9,1087.8 421.2,1089.9 421.6,1087.6 421.9,1087.4 422.3,1087.7 422.6,1089.4 423,1087.7 423.3,1087.5 423.7,1088.8 424,1089.4 424.4,1087.8 424.7,1088.9 425,1087.6 425.4,1089.6 425.7,1087.1 426.1,1087.9 426.4,1087.8 426.8,1087.3 427.1,1088.1 427.5,1088.9 427.8,1087.4 428.1,1090.1 428.5,1088.5 428.8,1088.6 429.2,1087.4 429.5,1088.2 429.9,1089.1 430.2,1087.2 430.6,1087.5 430.9,1087.4 431.3,1086.9 431.6,1088.8 431.9,1087.4 432.3,1089.9 432.6,1087 433,1087.9 433.3,1088.3 433.7,1087.2 434,1086.1 434.4,1087.6 434.7,1088.2 435,1087.3 435.4,1088.5 435.7,1086.4 436.1,1088.5 436.4,1090.3 436.8,1089.2 437.1,1089.2 437.5,1087.9 437.8,1087.8 438.2,1089.3 438.5,1087.9 438.8,1088.9 439.2,1087.2 439.5,1088.6 439.9,1088.4 440.2,1086 440.6,1088.1 440.9,1088.8 441.3,1088.8 441.6,1088.6 441.9,1089.5 442.3,1088.2 442.6,1087.5 443,1089.1 443.3,1090.3 443.7,1087.9 444,1089.7 444.4,1088 444.7,1086.7 445.1,1087.3 445.4,1087.3 445.7,1089.4 446.1,1088.3 446.4,1087.7 446.8,1088.3 447.1,1089.6 447.5,1088.1 447.8,1087.5 448.2,1088.5 448.5,1087.3 448.8,1088.7 449.2,1089.2 449.5,1088.3 449.9,1087.7 450.2,1088.3 450.6,1086.7 450.9,1089.7 451.3,1090.5 451.6,1088.1 452,1086 452.3,1087.4 452.6,1086.6 453,1086.1 453.3,1087.8 453.7,1087.7 454,1087.2 454.4,1088.9 454.7,1087.7 455.1,1086.5 455.4,1087.7 455.7,1085.6 456.1,1085.6 456.4,1083.5 456.8,1081.6 457.1,1076.5 457.5,1070.3 457.8,1065.2 458.2,1061.6 458.3,1061 458.5,1062.8 458.9,1065 459.2,1072.5 459.5,1079.5 459.9,1082.1 460.2,1082.5 460.6,1087.2 460.9,1086.8 461.3,1088 461.6,1087.8 462,1088.3 462.3,1089 462.6,1088 463,1088.7 463.3,1086.7 463.7,1087.1 464,1087.9 464.4,1089.7 464.7,1087.3 465.1,1087.8 465.4,1088.8 465.8,1087.6 466.1,1086.9 466.4,1086.2 466.8,1089 467.1,1087.1 467.5,1088.6 467.8,1088.7 468.2,1087.2 468.5,1088.7 468.9,1086.1 469.2,1088.1 469.5,1087.2 469.9,1088.5 470.2,1088.5 470.6,1088.4 470.9,1088.9 471.3,1087.6 471.6,1086.8 472,1087 472.3,1089.3 472.7,1087.2 473,1087.9 473.3,1088.6 473.7,1088.1 474,1087.3 474.4,1086.2 474.7,1089.2 475.1,1087.7 475.4,1086.7 475.8,1087.7 476.1,1088.3 476.4,1086.3 476.8,1088.4 477.1,1088.3 477.5,1088.8 477.8,1088.3 478.2,1087.3 478.5,1086.7 478.9,1088.1 479.2,1087.8 479.6,1089.8 479.9,1088 480.2,1088.7 480.6,1088.4 480.9,1086.6 481.3,1089.1 481.6,1087.9 482,1086.9 482.3,1088.7 482.7,1089.6 483,1088.2 483.3,1088 483.7,1087.7 484,1087.9 484.4,1089.4 484.7,1088.4 485.1,1088.7 485.4,1088.9 485.8,1085.4 486.1,1088.5 486.5,1088.9 486.8,1088.5 487.1,1086.8 487.5,1087.5 487.8,1089 488.2,1088.7 488.5,1088.8 488.9,1087.2 489.2,1088.6 489.6,1089.8 489.9,1088.4 490.2,1089.7 490.6,1089.2 490.9,1089.1 491.3,1087.7 491.6,1087.7 492,1087.7 492.3,1089.5 492.7,1089.6 493,1087.3 493.4,1087 493.7,1088.5 494,1089.6 494.4,1088.6 494.7,1089 495.1,1088.8 495.4,1088.9 495.8,1088.2 496.1,1088.8 496.5,1089 496.8,1088.2 497.1,1090 497.5,1087.3 497.8,1087.9 498.2,1087.5 498.5,1089.4 498.9,1089.4 499.2,1087.6 499.6,1088.4 499.9,1087.8 500.3,1086.9 500.6,1087.5 500.9,1088.6 501.3,1088.8 501.6,1087.5 502,1088.3 502.3,1089.1 502.7,1089.6 503,1088.6 503.4,1087.4 503.7,1086.6 504,1088.2 504.4,1087.8 504.7,1087.5 505.1,1087.3 505.4,1087.4 505.8,1088 506.1,1088.3 506.5,1086.4 506.8,1088.2 507.2,1086.3 507.5,1082.2 507.8,1079.6 508.2,1077.4 508.5,1072.5 508.7,1072.3 508.9,1072.5 509.2,1074.2 509.6,1079.3 509.9,1081.7 510.3,1084.6 510.6,1086.2 510.9,1086.9 511.3,1089.1 511.6,1087.7 512,1087.1 512.3,1086.7 512.7,1087.4 513,1088.3 513.4,1088.3 513.7,1088.5 514.1,1087.8 514.4,1088.7 514.7,1088.7 515.1,1087.1 515.4,1088.7 515.8,1088.7 516.1,1088 516.5,1089.4 516.8,1088.3 517.2,1087.5 517.5,1089.2 517.8,1090 518.2,1087 518.5,1087.9 518.9,1088.6 519.2,1088 519.6,1087.9 519.9,1087.8 520.3,1084.6 520.3,1087.1 520.6,1084.9 521,1086 521.3,1086.3 521.6,1088.2 522,1086.4 522.3,1088.3 522.7,1086.8 523,1090.3 523.4,1087.8 523.7,1088.3 524.1,1087.2 524.4,1087.8 524.7,1089.6 525.1,1088.6 525.4,1087.2 525.8,1087.8 526.1,1088.2 526.5,1090.1 526.8,1088.2 527.2,1088.7 527.5,1089.3 527.9,1090.6 528.2,1088.9 528.5,1087.2 528.9,1087.2 529.2,1089.8 529.6,1088.5 529.9,1086.1 530.3,1087.5 530.6,1087.4 531,1087.5 531.3,1088.3 531.6,1088.2 532,1088.8 532.3,1085.4 532.7,1087.5 533,1086.9 533.4,1085.9 533.7,1087.6 534.1,1085.4 534.4,1085.2 534.8,1088.1 535.1,1086.9 535.4,1087.3 535.4,1087.8 535.8,1085.2 536.1,1087.9 536.5,1086.7 536.8,1087.2 537.2,1087.6 537.5,1087.6 537.9,1086.7 538.2,1087.2 538.5,1087.5 538.9,1088.5 539.2,1085.4 539.6,1089.1 539.9,1086.9 540.3,1090.1 540.6,1088.5 541,1089.8 541.3,1087.9 541.7,1089.9 542,1088.7 542.3,1088.7 542.7,1088.8 543,1085.9 543.4,1086.9 543.7,1086.8 544.1,1088.5 544.4,1088.2 544.8,1089.3 545.1,1088.8 545.4,1089.7 545.8,1087.7 546.1,1088.8 546.5,1088 546.8,1087.3 547.2,1086.7 547.5,1088.4 547.9,1087.5 548.2,1087.9 548.6,1087.5 548.9,1087.4 549.2,1091.3 549.6,1088.5 549.9,1087.2 550.3,1088.3 550.6,1088.5 551,1087 551.3,1089.5 551.7,1087.5 552,1089 552.3,1088 552.7,1087.7 553,1091.7 553.4,1087.9 553.7,1086.9 554.1,1087.9 554.4,1087.5 554.8,1089.6 555.1,1088.9 555.5,1087.3 555.8,1090.3 556.1,1088.2 556.5,1087.2 556.8,1089.6 557.2,1089.1 557.5,1087.5 557.9,1087.3 558.2,1088.3 558.6,1087.8 558.9,1089 559.2,1088.8 559.6,1087.3 559.9,1087.4 560.3,1088.2 560.6,1089.8 561,1087.8 561.3,1089.1 561.7,1087.8 562,1088.9 562.4,1087.9 562.7,1088.9 563,1087.6 563.4,1087.7 563.7,1090.4 564.1,1089.4 564.4,1087.2 564.8,1089.7 565.1,1088.3 565.5,1089.9 565.8,1087.1 566.1,1088.4 566.5,1088.1 566.8,1087.8 567.2,1087.3 567.5,1090.5 567.9,1088.5 568.2,1088.2 568.6,1086.8 568.9,1089.6 569.3,1089.6 569.6,1088.3 569.9,1087.1 570.3,1089.1 570.6,1088.5 571,1087 571.3,1090.6 571.7,1089.3 572,1087.5 572.4,1087.7 572.7,1089.3 573,1089.7 573.4,1089.1 573.7,1089.1 574.1,1088.2 574.4,1090.6 574.8,1088.3 575.1,1088.8 575.5,1089 575.8,1088.3 576.2,1089.4 576.5,1090.1 576.8,1086.3 577.2,1088.4 577.5,1089.9 577.9,1090 578.2,1088.1 578.6,1089.3 578.9,1088.8 579.3,1088.7 579.6,1088 579.9,1089.6 580.3,1089.8 580.6,1090.2 581,1088.9 581.3,1088.7 581.7,1089.8 582,1092 582.4,1088.4 582.7,1088.5 583.1,1090.4 583.4,1087.5 583.7,1086 584.1,1089.6 584.4,1090 584.8,1090 585.1,1089.6 585.5,1089.7 585.8,1087.9 586.2,1089.7 586.5,1087.6 586.8,1087 587.2,1088.4 587.5,1087.3 587.9,1087.5 588.2,1088 588.6,1088.2 588.9,1088.8 589.3,1087.6 589.6,1088 590,1088.5 590.3,1088.8 590.6,1089.1 591,1089.4 591.3,1088.9 591.7,1089.1 592,1089.3 592.4,1088.6 592.7,1088.8 593.1,1087.7 593.4,1088.9 593.7,1089.6 594.1,1087.9 594.4,1089.9 594.8,1088.1 595.1,1089.7 595.5,1090.3 595.8,1088.8 596.2,1088.2 596.5,1089.1 596.9,1088.2 597.2,1087.7 597.5,1089.6 597.9,1086.6 598.2,1089.5 598.6,1087.8 598.9,1089.5 599.3,1088 599.6,1090.4 600,1088 600.3,1086.2 600.6,1091.3 601,1088.3 601.3,1088 601.7,1087.8 602,1087.2 602.4,1087.4 602.7,1085.9 603.1,1088.3 603.4,1084.9 603.8,1085.8 604.1,1086.1 604.4,1084.4 604.4,1085.5 604.8,1084.2 605.1,1084.1 605.5,1084.8 605.8,1087.2 606.2,1087.7 606.5,1086.2 606.9,1088.6 607.2,1086.9 607.5,1088.3 607.9,1089 608.2,1086.3 608.6,1089.1 608.9,1088.2 609.3,1087 609.6,1089.2 610,1088.9 610.3,1088.9 610.7,1088.3 611,1087.9 611.3,1087.3 611.7,1088.4 612,1087.5 612.4,1088.2 612.7,1089 613.1,1089.4 613.4,1089 613.8,1088.9 614.1,1088.3 614.4,1089.6 614.8,1089.8 615.1,1088.1 615.5,1088.2 615.8,1087.6 616.2,1088.3 616.5,1088.2 616.9,1090.6 617.2,1090 617.6,1087.3 617.9,1089.4 618.2,1088.4 618.6,1086.9 618.9,1088.9 619.3,1088 619.6,1089 620,1089.2 620.3,1088 620.7,1090.2"/>
<rect x="175" y="1107.6" width="5.6" height="73.4" fill="#666666"/>
<rect x="287.5" y="1171.4" width="4.6" height="9.6" fill="#666666"/>
<rect x="306.8" y="1173.4" width="4.6" height="7.6" fill="#666666"/>
<rect x="366.8" y="1176.5" width="4.6" height="4.5" fill="#666666"/>
<rect x="377.5" y="1178" width="4.6" height="3" fill="#666666"/>
<rect x="424.8" y="1179" width="4.6" height="2" fill="#666666"/>
<rect x="516.6" y="1177" width="4.6" height="4" fill="#666666"/>
<rect x="558" y="1176.5" width="4.6" height="4.5" fill="#666666"/>
<rect x="166.1" y="1179.3" width="4.6" height="1.7" fill="#4A86E6"/>
<rect x="192.6" y="1108.9" width="5.7" height="72.1" fill="#4A86E6"/>
<rect x="276.9" y="1135.6" width="5.7" height="45.4" fill="#4A86E6"/>
<rect x="328.9" y="1179.3" width="4.6" height="1.7" fill="#4A86E6"/>
<rect x="343.9" y="1167.5" width="5.7" height="13.5" fill="#4A86E6"/>
<rect x="403" y="1175.5" width="5.5" height="5.5" fill="#4A86E6"/>
<rect x="444.8" y="1179.3" width="4.6" height="1.7" fill="#4A86E6"/>
<rect x="457" y="1167.6" width="5.7" height="13.4" fill="#4A86E6"/>
<rect x="507.5" y="1172.2" width="5.7" height="8.8" fill="#4A86E6"/>
<rect x="605.3" y="1177.5" width="5.2" height="3.5" fill="#4A86E6"/>
<rect x="69" y="776.3" width="552" height="404.7" fill="none" stroke="#000" stroke-width="2.7"/>
<path d="M69 1181V1186.2M138 1181V1191M207 1181V1186.2M276 1181V1191M345 1181V1186.2M414 1181V1191M483 1181V1186.2M552 1181V1191M621 1181V1186.2" stroke="#000" stroke-width="2.6" fill="none"/>
<text x="138" y="1230.5" font-size="42" text-anchor="middle">20</text>
<text x="276" y="1230.5" font-size="42" text-anchor="middle">40</text>
<text x="414" y="1230.5" font-size="42" text-anchor="middle">60</text>
<text x="552" y="1230.5" font-size="42" text-anchor="middle">80</text>
<text x="196.1" y="1279.7" font-size="45.3">2 Theta (degree)</text>
<text transform="translate(32.8 1185) rotate(-90)" font-size="45.3">Intensity (arb. units)</text>
<text x="-0.5" y="734.9" font-size="59.5" font-weight="bold">d</text>
<text x="84.2" y="1128.8" font-size="35" fill="#7A7A7A">Gr</text>
<polyline fill="none" stroke="#E46A74" stroke-width="3.6" stroke-linejoin="round" points="831.6,1079.3 831.9,1079 832.3,1078.6 832.6,1080.2 833,1079 833.3,1079.3 833.7,1079.4 834,1079.6 834.4,1078.7 834.7,1078.3 835.1,1079.3 835.4,1078.7 835.7,1079.2 836.1,1080.1 836.4,1079 836.8,1079.6 837.1,1078.8 837.5,1080.5 837.8,1079.1 838.2,1079.4 838.5,1079.2 838.9,1079 839.2,1079.7 839.5,1079.2 839.9,1078.9 840.2,1079.1 840.6,1079.2 840.9,1079.3 841.3,1079.3 841.6,1078.9 842,1079.1 842.3,1080.1 842.6,1079.2 843,1079.8 843.3,1079.1 843.7,1079.4 844,1079 844.4,1078.5 844.7,1079 845.1,1079.6 845.4,1079.8 845.8,1079.7 846.1,1079 846.4,1079.1 846.8,1078.8 847.1,1079.4 847.5,1079.6 847.8,1079.3 848.2,1078.9 848.5,1079.4 848.9,1079.3 849.2,1079.4 849.6,1079.2 849.9,1079.3 850.2,1079 850.6,1078.9 850.9,1078.2 851.3,1079.3 851.6,1079.3 852,1078.9 852.3,1079.9 852.7,1079.7 853,1080 853.4,1079.2 853.7,1079.2 854,1079.4 854.4,1079.6 854.7,1079.9 855.1,1078.9 855.4,1079.2 855.8,1078.4 856.1,1079.2 856.5,1079.6 856.8,1079.5 857.1,1080.2 857.5,1079.5 857.8,1079.1 858.2,1079 858.5,1079.4 858.9,1079.9 859.2,1078.8 859.6,1078.9 859.9,1079.3 860.3,1079.1 860.6,1079.6 860.9,1079.1 861.3,1079.3 861.6,1079.3 862,1079.4 862.3,1079.8 862.7,1078.7 863,1078.6 863.4,1078.7 863.7,1079.1 864.1,1079.3 864.4,1079.5 864.7,1079.4 865.1,1079.3 865.4,1078.5 865.8,1079 866.1,1079.4 866.5,1078.8 866.8,1079.1 867.2,1079.1 867.5,1079.5 867.9,1078.9 868.2,1078.6 868.5,1079.1 868.9,1079.1 869.2,1079.6 869.6,1079 869.9,1079.2 870.3,1079 870.6,1079.1 871,1080.1 871.3,1078.2 871.6,1079.5 872,1078.9 872.3,1079.3 872.7,1078.6 873,1079.3 873.4,1078.9 873.7,1079.5 874.1,1079.8 874.4,1078.7 874.8,1078.6 875.1,1079.7 875.4,1080.1 875.8,1079.3 876.1,1078.4 876.5,1078.6 876.8,1079.6 877.2,1080 877.5,1079.2 877.9,1078.7 878.2,1079.7 878.6,1078.7 878.9,1079 879.2,1079 879.6,1079 879.9,1079.5 880.3,1078.9 880.6,1079.3 881,1079.7 881.3,1079.7 881.7,1079.8 882,1079.1 882.4,1078.6 882.7,1079.3 883,1079.3 883.4,1079.4 883.7,1079.1 884.1,1079.4 884.4,1078.8 884.8,1079.6 885.1,1080 885.5,1079.3 885.8,1079.3 886.1,1079.5 886.5,1079.5 886.8,1079.5 887.2,1079.3 887.5,1079.1 887.9,1079.9 888.2,1078.8 888.6,1079.7 888.9,1078.9 889.3,1079.5 889.6,1078.9 889.9,1078.6 890.3,1078.8 890.6,1078.9 891,1079.8 891.3,1079 891.7,1079 892,1078.9 892.4,1079.2 892.7,1079.2 893.1,1079.5 893.4,1079 893.7,1078.8 894.1,1079.2 894.4,1079.6 894.8,1079.6 895.1,1078.8 895.5,1079 895.8,1079.4 896.2,1079 896.5,1078.7 896.9,1079.3 897.2,1079.1 897.5,1079.4 897.9,1079.6 898.2,1079 898.6,1078.8 898.9,1078.9 899.3,1079.6 899.6,1079.3 900,1079.6 900,1079.1 900.3,1079.6 900.7,1079 901,1079 901.3,1079.2 901.7,1079.1 902,1079.1 902.4,1079.2 902.7,1079.5 903.1,1078.8 903.4,1078.4 903.8,1079.2 903.9,1079.8 904.1,1079.5 904.4,1078.5 904.8,1079.1 905.1,1079.4 905.5,1079.2 905.8,1079.6 906.2,1079.1 906.5,1077.6 906.9,1078.9 907.2,1078.3 907.6,1078.2 907.9,1077.9 908.2,1078 908.6,1078.3 908.9,1078.9 909.3,1078.8 909.6,1078.6 910,1078.8 910.3,1078.1 910.7,1077.9 911,1078.9 911.4,1078.3 911.7,1077.9 912,1078.3 912.4,1077.7 912.7,1078.6 913.1,1077.4 913.4,1077.6 913.8,1077.7 914.1,1077.7 914.5,1077.2 914.8,1078 915.2,1077.9 915.5,1077.6 915.5,1077.8 915.8,1077.3 916.2,1077.8 916.5,1077.1 916.9,1076.8 917.2,1077.1 917.6,1077 917.9,1077.1 918.3,1077.2 918.6,1077.5 918.9,1076.2 919.3,1076 919.6,1076.7 920,1077 920.3,1076.8 920.7,1076.3 921,1076.1 921.4,1076 921.7,1076.8 922.1,1075.9 922.4,1076 922.7,1075.3 923.1,1076.1 923.4,1075.6 923.8,1075.4 924.1,1075.3 924.5,1075.3 924.8,1076.4 924.8,1075.5 925.2,1075.4 925.5,1074.7 925.9,1074.3 926.2,1073.9 926.5,1074.4 926.9,1074.6 927.2,1074.5 927.6,1073.6 927.9,1074.4 928.3,1073.7 928.6,1074.3 929,1073.6 929.3,1073.6 929.7,1073.1 930,1073 930.3,1073.2 930.7,1073.3 931,1073.2 931,1072.6 931.4,1071.9 931.7,1072.2 932.1,1072.1 932.4,1070.9 932.8,1070.5 933.1,1070.1 933.4,1070 933.8,1069.8 934.1,1068.6 934.5,1068.7 934.8,1068.7 935.2,1067.9 935.3,1067.2 935.5,1066 935.9,1065.2 936.2,1064.4 936.6,1062.7 936.9,1061.6 937.2,1059.7 937.2,1059.2 937.6,1053.8 937.9,1049.3 938.3,1044 938.6,1038.7 938.8,1036.4 939,1023.4 939.1,1013.7 939.3,1007.3 939.7,997.8 939.9,990.3 940,980.6 940.4,952.6 940.5,939.7 940.7,927.1 941,906.3 941.3,889.8 941.4,888.1 941.7,880.4 942.1,873.1 942.4,865.1 942.7,860.2 942.8,857.6 943.1,843.6 943.5,830.8 943.5,829.2 943.8,822.7 944.2,815.3 944.5,806.8 944.8,801.1 944.8,802 945.2,813.1 945.5,823.5 945.7,829.7 945.9,843.3 946.1,859.8 946.2,872.4 946.4,890.1 946.5,940.1 946.6,974.5 946.6,989.6 946.7,1012.8 946.9,1037 946.9,1037.1 947.3,1047.4 947.5,1054.8 947.6,1055.9 947.9,1061.4 948.1,1062.9 948.3,1061.1 948.6,1056.6 949,1051.6 949.3,1047.7 949.5,1045.3 949.7,1042.4 950,1036.7 950.4,1031.5 950.7,1026.1 951,1021.2 951.1,1021.6 951.4,1019.2 951.7,1015.6 951.8,1016 952.1,1019.1 952.4,1023.2 952.6,1025.3 952.8,1032.4 953.1,1045.1 953.5,1059.1 953.5,1059.6 953.8,1063.4 954.2,1070.2 954.3,1071.4 954.5,1071.8 954.9,1073.4 955.2,1073.9 955.5,1074.4 955.8,1075.4 955.9,1075.5 956.2,1075.5 956.6,1074.9 956.9,1076.1 957.3,1075.9 957.6,1076.1 958,1076.7 958.3,1077.8 958.7,1076.7 959,1077.5 959.3,1077 959.7,1077.2 960,1077.9 960.4,1078.7 960.5,1078.5 960.7,1078.5 961.1,1079 961.4,1078.7 961.8,1078.3 962.1,1078.2 962.4,1078.5 962.8,1078.8 963.1,1078.6 963.5,1078.7 963.8,1078.6 964.2,1078.5 964.5,1078.4 964.9,1078.6 965.2,1079.7 965.6,1079.5 965.9,1079.6 966.2,1079.2 966.6,1079.1 966.9,1079.5 967.3,1079.1 967.6,1079.8 968,1079.4 968.3,1079.7 968.7,1079.1 969,1080.2 969.4,1079.6 969.7,1079.8 969.8,1079.3 970,1079.3 970.4,1079.8 970.7,1078.9 971.1,1080 971.4,1079.3 971.8,1079.9 972.1,1079.2 972.5,1079.4 972.8,1079.5 973.2,1079.8 973.5,1079 973.8,1079.6 974.2,1079.5 974.5,1079.6 974.9,1079 975,1079.3 975.2,1078.9 975.6,1079.1 975.9,1079.7 976.3,1079.7 976.6,1078.9 977,1079.2 977.3,1079.2 977.6,1078.9 978,1079.1 978.3,1078.8 978.7,1079.5 979,1078.8 979.4,1079.8 979.7,1078.4 980.1,1079.5 980.4,1079.5 980.7,1079 981.1,1078.5 981.4,1079.3 981.8,1078.7 982.1,1079.7 982.5,1079.3 982.8,1079.2 983.2,1079.3 983.5,1079.5 983.9,1079.2 984.2,1079.4 984.5,1079.4 984.9,1079 985.2,1079.7 985.6,1079.9 985.9,1079.7 986.3,1079.3 986.6,1079.5 987,1078.8 987.3,1078.9 987.7,1078.9 988,1079 988.3,1079.5 988.7,1078.9 989,1079 989.4,1078.6 989.7,1078.9 990.1,1078.5 990.4,1079.6 990.8,1079.1 991.1,1079.6 991.5,1079.7 991.8,1079.4 992.1,1079.3 992.5,1079.2 992.8,1079 993.2,1078.3 993.5,1079.3 993.9,1078.9 994.2,1078.8 994.6,1079 994.9,1079.2 995.2,1079.5 995.6,1078.8 995.9,1078.7 996.3,1079.6 996.6,1079.4 997,1079.5 997.3,1079 997.7,1078.6 998,1079.7 998.4,1079.6 998.7,1078.9 999,1079.3 999.4,1079.6 999.7,1080.1 1000.1,1079.6 1000.4,1079.3 1000.8,1079 1001.1,1078.9 1001.5,1079 1001.8,1078.7 1002.2,1079.2 1002.5,1079 1002.8,1078.8 1003.2,1078.3 1003.5,1078.6 1003.9,1078 1004.2,1077.7 1004.6,1076.1 1004.9,1075.4 1005.3,1073.2 1005.6,1072.1 1006,1069.5 1006.3,1070 1006.3,1070.4 1006.6,1069.8 1007,1072.2 1007.3,1073.7 1007.7,1074.6 1008,1076.3 1008.4,1078 1008.7,1078.3 1009.1,1078.9 1009.4,1078.9 1009.7,1079.5 1010.1,1078.9 1010.4,1078.6 1010.8,1078.8 1011.1,1079 1011.5,1078.7 1011.8,1079.1 1012.2,1079 1012.5,1079 1012.9,1079.1 1013.2,1079 1013.5,1079.5 1013.9,1079.2 1014.2,1079.5 1014.6,1078.6 1014.9,1079.2 1015.3,1079 1015.6,1078.4 1016,1080 1016.3,1078.6 1016.7,1079.5 1017,1079.5 1017.3,1079.6 1017.7,1079 1018,1078.2 1018.4,1079.4 1018.7,1079.1 1019.1,1079.4 1019.4,1079.1 1019.8,1079.7 1020.1,1079.4 1020.5,1079 1020.8,1080.1 1021.1,1078.9 1021.5,1078.3 1021.8,1079.2 1022.2,1079.4 1022.5,1079.4 1022.9,1079 1023.2,1079.2 1023.6,1078.8 1023.9,1079 1024.2,1079.4 1024.6,1078.9 1024.9,1079.4 1025.3,1079.1 1025.6,1079.2 1026,1079 1026.3,1079.6 1026.7,1079.2 1027,1078.8 1027.4,1079.2 1027.7,1079.6 1028,1079.2 1028.4,1078.7 1028.7,1078.8 1029.1,1078.7 1029.4,1079.6 1029.8,1079.1 1030.1,1079.4 1030.5,1079.3 1030.8,1078.8 1031.2,1079.3 1031.5,1078.6 1031.8,1078.5 1032.2,1077.2 1032.5,1077.5 1032.9,1077 1033.2,1076.7 1033.2,1077 1033.6,1076.6 1033.9,1077.4 1034.3,1076.9 1034.6,1078.2 1035,1078.2 1035.3,1079.3 1035.6,1078.7 1036,1078.9 1036.3,1077.4 1036.7,1078.4 1037,1078 1037.4,1078.9 1037.7,1078.7 1038.1,1078.2 1038.4,1078 1038.8,1077.8 1039.1,1077.3 1039.4,1077 1039.8,1075.8 1040.1,1073.2 1040.5,1068.7 1040.8,1062.3 1041.2,1050.9 1041.5,1038.4 1041.9,1028.6 1042.2,1023.2 1042.2,1023 1042.5,1027.2 1042.9,1038.3 1043.2,1051.6 1043.6,1061.5 1043.9,1069.4 1044.3,1072.8 1044.6,1075.9 1045,1076.8 1045.3,1077.2 1045.7,1077 1046,1078.4 1046.3,1078.1 1046.7,1078.2 1047,1078.6 1047.4,1077.9 1047.7,1078.9 1048.1,1078.7 1048.4,1078.6 1048.8,1078.7 1049.1,1078.1 1049.5,1078.3 1049.8,1078.5 1050.1,1078 1050.5,1078.7 1050.8,1078.4 1051.2,1078.5 1051.5,1077.3 1051.9,1078.3 1052.2,1077.4 1052.6,1077.1 1052.9,1077.1 1053.3,1077.6 1053.6,1077 1053.9,1076.7 1054.3,1076.7 1054.6,1076.5 1055,1076.3 1055.3,1076 1055.7,1075.5 1056,1075.3 1056.4,1074.3 1056.7,1074.6 1057,1073.6 1057.4,1074.3 1057.7,1074.2 1058.1,1073.8 1058.4,1073.8 1058.8,1074.4 1058.8,1073.8 1059.1,1074 1059.5,1074.8 1059.8,1074.2 1060.2,1074.5 1060.5,1074.5 1060.8,1074.7 1061.2,1075 1061.5,1074.6 1061.9,1075.2 1062.2,1074.8 1062.6,1074.8 1062.9,1075 1063.3,1074 1063.6,1072 1064,1071 1064.3,1068.8 1064.6,1064.2 1065,1060.9 1065.3,1057.4 1065.7,1055.8 1065.7,1056.2 1066,1056.9 1066.4,1061.8 1066.7,1065.4 1067.1,1069.6 1067.4,1072.7 1067.8,1074.4 1068.1,1076.2 1068.4,1077.7 1068.8,1078.1 1069.1,1077.9 1069.5,1077.9 1069.8,1078.3 1070.2,1077.9 1070.5,1078.6 1070.9,1077.9 1071.2,1078.3 1071.5,1079 1071.9,1078.7 1072.2,1078.4 1072.6,1078.7 1072.9,1078.5 1073.3,1078.6 1073.6,1078.8 1074,1078.1 1074.3,1077.1 1074.7,1077.4 1075,1076.3 1075.3,1076.6 1075.7,1076.1 1076,1075.5 1076,1075.7 1076.4,1075.1 1076.7,1075.4 1077.1,1076.6 1077.4,1077.4 1077.8,1078.4 1078.1,1078 1078.5,1078.1 1078.8,1078.4 1079.1,1078.5 1079.5,1079 1079.8,1078.4 1080.2,1079.3 1080.5,1078.5 1080.9,1079.9 1081.2,1079 1081.6,1079.1 1081.9,1078.4 1082.3,1079.2 1082.6,1078.3 1082.9,1079.4 1083.3,1078.8 1083.6,1079.2 1084,1079.3 1084.3,1079.5 1084.7,1079.6 1085,1079.5 1085.4,1079.4 1085.7,1078.9 1086,1078.7 1086.4,1079.4 1086.7,1079.2 1087.1,1078.9 1087.4,1079.1 1087.8,1079.5 1088.1,1079.5 1088.5,1078.9 1088.8,1078.6 1089.2,1078.4 1089.5,1078.9 1089.8,1079 1090.2,1078.6 1090.5,1079.5 1090.9,1079.9 1091.2,1078.8 1091.6,1079.4 1091.9,1079.1 1092.3,1079.4 1092.6,1079.2 1093,1079.1 1093.3,1079.5 1093.6,1079.4 1094,1079 1094.3,1079.3 1094.7,1078.9 1095,1079.1 1095.4,1079.4 1095.7,1079.3 1096.1,1078.5 1096.4,1079.4 1096.8,1078.7 1097.1,1079.2 1097.4,1079.4 1097.8,1078.6 1098.1,1078.7 1098.5,1079.5 1098.8,1079.3 1099.2,1078.3 1099.5,1079.5 1099.9,1078.9 1100.2,1078.7 1100.5,1079.2 1100.9,1078.9 1101.2,1079.2 1101.6,1079.2 1101.9,1080.1 1102.3,1079.5 1102.6,1079.2 1103,1079.2 1103.3,1079.3 1103.7,1079.3 1104,1078.9 1104.3,1079.3 1104.7,1078.9 1105,1078.9 1105.4,1079.1 1105.7,1079.5 1106.1,1079.5 1106.4,1078 1106.8,1079.6 1107.1,1079.2 1107.5,1079.2 1107.8,1079.7 1108.1,1078.8 1108.5,1078.7 1108.8,1078.3 1109.2,1078.7 1109.5,1079.4 1109.9,1078.8 1110.2,1078.7 1110.6,1079.3 1110.9,1078.7 1111.3,1078.8 1111.6,1078.8 1111.9,1079.3 1112.3,1078.8 1112.6,1078.9 1113,1079 1113.3,1078.4 1113.7,1079 1114,1078.4 1114.4,1078.6 1114.7,1078.9 1115.1,1079.1 1115.4,1079 1115.7,1079.5 1116.1,1079.1 1116.4,1079.3 1116.8,1078.8 1117.1,1078.8 1117.5,1079.7 1117.8,1078.4 1118.2,1079.5 1118.5,1078.7 1118.8,1079.3 1119.2,1078.5 1119.5,1079.2 1119.9,1079.1 1120.2,1078.1 1120.6,1078.7 1120.9,1079.2 1121.3,1079.3 1121.6,1079 1122,1078.7 1122.3,1078.9 1122.6,1078.4 1123,1078.5 1123.3,1078.9 1123.7,1078.8 1124,1079 1124.4,1078.8 1124.7,1078.9 1125.1,1078.6 1125.4,1078.9 1125.8,1079.5 1126.1,1078.1 1126.4,1078.5 1126.8,1078.2 1127.1,1078.4 1127.5,1078.3 1127.8,1077.7 1128.2,1077.8 1128.5,1077.6 1128.9,1077.1 1129.2,1076.5 1129.6,1075.6 1129.9,1072.7 1130.2,1067.7 1130.6,1060.9 1130.9,1052.6 1131.3,1042.3 1131.6,1036.9 1131.8,1035.5 1132,1036 1132.3,1041.7 1132.7,1048.7 1133,1052 1133.3,1049.9 1133.7,1042.4 1134,1032.3 1134.4,1025.3 1134.5,1024.9 1134.7,1026.2 1135.1,1036.9 1135.4,1049.1 1135.8,1059.7 1136.1,1067.2 1136.5,1070.4 1136.8,1072.1 1137.1,1071.4 1137.5,1072.5 1137.8,1072.4 1137.8,1072.8 1138.2,1073.3 1138.5,1073.7 1138.9,1074.3 1139.2,1075.9 1139.6,1076.9 1139.9,1077.6 1140.3,1077.5 1140.6,1077.6 1140.9,1078.1 1141.3,1077.9 1141.6,1077.6 1142,1078.7 1142.3,1078.7 1142.7,1078.9 1143,1078.3 1143.4,1078.6 1143.7,1078.2 1144.1,1078.1 1144.4,1078.9 1144.7,1078 1145.1,1078.6 1145.4,1079.6 1145.8,1079.2 1146.1,1078.9 1146.5,1078.9 1146.8,1078.5 1147.2,1078.3 1147.5,1079.3 1147.8,1078.3 1148.2,1078 1148.5,1078.2 1148.9,1077.4 1149.2,1077 1149.6,1074.7 1149.9,1072.5 1150.3,1069.9 1150.6,1067.9 1151,1065.3 1151.3,1064.1 1151.3,1064.1 1151.6,1065.1 1152,1066.9 1152.3,1070.3 1152.7,1072.6 1153,1075.1 1153.4,1076.5 1153.7,1077.6 1154.1,1077.9 1154.4,1078.7 1154.8,1078.7 1155.1,1078.3 1155.4,1078.9 1155.8,1078.6 1156.1,1078.9 1156.5,1079.2 1156.8,1078.7 1157.2,1078.9 1157.5,1078.9 1157.9,1078.9 1158.2,1079.7 1158.6,1079.1 1158.9,1078.5 1159.2,1079 1159.6,1078.8 1159.9,1079.9 1160.3,1078.7 1160.6,1078.6 1161,1079.3 1161.3,1078.8 1161.7,1078.9 1162,1078.9 1162.3,1078.7 1162.7,1078.9 1163,1078.2 1163.4,1079 1163.7,1079.3 1164.1,1079.8 1164.4,1079.1 1164.8,1079.4 1165.1,1078.7 1165.5,1079.6 1165.8,1079.9 1166.1,1079.2 1166.5,1078.9 1166.8,1079.1 1167.2,1079.6 1167.5,1078.5 1167.9,1079.5 1168.2,1078.6 1168.6,1078.7 1168.9,1079.1 1169.3,1079.3 1169.6,1079.4 1169.9,1079.6 1170.3,1078.6 1170.6,1079.1 1171,1079.3 1171.3,1079.1 1171.7,1079.5 1172,1079 1172.4,1078.9 1172.7,1078.1 1173.1,1078.3 1173.4,1079.3 1173.7,1078.5 1174.1,1079.1 1174.4,1079.2 1174.8,1078.9 1175.1,1079.4 1175.5,1078.7 1175.8,1079.2 1176.2,1078.9 1176.5,1078.3 1176.9,1078.1 1177.2,1078.7 1177.5,1079.4 1177.9,1079.2 1178.2,1078.8 1178.6,1078.7 1178.9,1078.4 1179.3,1077.5 1179.6,1077.3 1180,1075.8 1180.3,1074.1 1180.6,1074.3 1181,1071.5 1181.3,1070 1181.7,1069.9 1181.7,1069.1 1182,1069.5 1182.4,1072 1182.7,1073 1183.1,1073.9 1183.4,1075.1 1183.8,1076.7 1184.1,1077.2 1184.4,1078.6 1184.8,1077.6 1185.1,1079.1 1185.5,1078.3 1185.8,1078.3 1186.2,1078.8 1186.5,1078.3 1186.9,1078.6 1187.2,1078.7 1187.6,1077.9 1187.9,1078.4 1188.2,1079.1 1188.6,1078.1 1188.9,1078.4 1189.3,1078.6 1189.6,1079.3 1190,1079.3 1190.3,1079.6 1190.7,1078.6 1191,1079.3 1191.4,1079.1 1191.7,1078.5 1192,1079.2 1192.4,1079 1192.7,1078.7 1193.1,1078.5 1193.4,1078.3 1193.8,1079.2 1194.1,1079.1 1194.5,1078.9 1194.8,1078.8 1195.1,1078.7 1195.5,1079.3 1195.8,1079 1196.2,1078.2 1196.5,1079 1196.9,1079.1 1197.2,1078.7 1197.6,1078.7 1197.9,1078.6 1198.3,1079 1198.6,1078.5 1198.9,1078.5 1199.3,1078.3 1199.6,1078.7 1200,1077.2 1200.3,1078.4 1200.7,1076.6 1201,1076.7 1201.4,1076.3 1201.7,1076.6 1201.7,1076.7 1202.1,1077.5 1202.4,1077.3 1202.7,1076.8 1203.1,1077.5 1203.4,1077.8 1203.8,1077.8 1204.1,1078.6 1204.5,1078.6 1204.8,1078.5 1205.2,1078.5 1205.5,1079.1 1205.9,1078.8 1206.2,1079.4 1206.5,1079.3 1206.9,1078.5 1207.2,1078.1 1207.6,1079 1207.9,1078.7 1208.3,1078.5 1208.6,1078.7 1209,1079.5 1209.3,1078.9 1209.6,1079.7 1210,1079.3 1210.3,1078.3 1210.7,1079.2 1211,1079.6 1211.4,1078.3 1211.7,1078.5 1212.1,1078.9 1212.4,1078.8 1212.8,1079.7 1213.1,1078.6 1213.4,1079.7 1213.8,1078.4 1214.1,1078.6 1214.5,1079.1 1214.8,1079.2 1215.2,1079 1215.5,1079.6 1215.9,1079.7 1216.2,1079.8 1216.6,1078.9 1216.9,1079.3 1217.2,1078.9 1217.6,1079.5 1217.9,1078 1218.3,1078.7 1218.6,1078.9 1219,1078.8 1219.3,1079.6 1219.7,1078.4 1220,1078.6 1220.4,1078.5 1220.7,1078.9 1221,1078.6 1221.4,1079.3 1221.7,1079.3 1222.1,1078.1 1222.4,1078 1222.8,1079.2 1223.1,1079 1223.5,1078.2 1223.8,1078.8 1224.1,1078.3 1224.5,1079.2 1224.8,1078.3 1225.2,1078.5 1225.5,1079 1225.9,1078.8 1226.2,1079.1 1226.6,1078.9 1226.9,1078 1227.3,1078.7 1227.6,1078.1 1227.9,1079.1 1228.3,1079 1228.6,1078.7 1229,1078.9 1229.3,1078 1229.7,1077.7 1230,1076.6 1230.4,1075.3 1230.7,1073.6 1231.1,1071.1 1231.4,1069.1 1231.7,1065.2 1232.1,1062.5 1232.4,1060.9 1232.8,1061.1 1232.8,1060.4 1233.1,1060.9 1233.5,1062.7 1233.8,1065.8 1234.2,1068.4 1234.5,1071.5 1234.9,1073.1 1235.2,1075.3 1235.5,1075.9 1235.9,1077.3 1236.2,1078.9 1236.6,1077.9 1236.9,1078.2 1237.3,1078.8 1237.6,1078.1 1238,1078.4 1238.3,1078.4 1238.6,1078.7 1239,1078.1 1239.3,1079.3 1239.7,1078.8 1240,1078.8 1240.4,1078.7 1240.7,1078.8 1241.1,1077.9 1241.4,1079.3 1241.8,1078.5 1242.1,1079.2 1242.4,1078.8 1242.8,1078.8 1243.1,1079.1 1243.5,1079.5 1243.8,1078.8 1244.2,1078.7 1244.5,1079.1 1244.9,1077.9 1245.2,1078.6 1245.6,1078.5 1245.9,1078.8 1246.2,1078.4 1246.6,1079.2 1246.9,1078.8 1247.3,1079 1247.6,1078.9 1248,1078.8 1248.3,1078.6 1248.7,1079.4 1249,1079.2 1249.4,1079.5 1249.7,1078.8 1250,1079 1250.4,1079 1250.7,1078.8 1251.1,1078.9 1251.4,1078.2 1251.8,1078.4 1252.1,1078.5 1252.5,1078.4 1252.8,1079 1253.2,1078.9 1253.5,1078.9 1253.8,1078.5 1254.2,1078.9 1254.5,1078.6 1254.9,1078.2 1255.2,1077.6 1255.6,1078 1255.9,1076.6 1256.3,1076.1 1256.6,1076 1256.9,1076.9 1256.9,1076.5 1257.3,1076.3 1257.6,1075.8 1258,1077 1258.3,1077 1258.7,1076.9 1259,1078.4 1259.4,1078.3 1259.7,1079 1260.1,1078.6 1260.4,1078.9 1260.7,1078.5 1261.1,1079.1 1261.4,1078.7 1261.8,1079.1 1262.1,1079 1262.5,1078.4 1262.8,1078.9 1263.2,1079 1263.5,1078.6 1263.9,1078.9 1264.2,1079.3 1264.5,1079.4 1264.9,1078.9 1265.2,1078 1265.6,1079.2 1265.9,1079.7 1266.3,1078.8 1266.6,1078.6 1267,1079.1 1267.3,1079 1267.7,1079.3 1268,1078.7 1268.3,1079.6 1268.7,1079.3 1269,1078.5 1269.4,1079.4 1269.7,1078.9 1270.1,1079.2 1270.4,1079.1 1270.8,1079 1271.1,1079.1 1271.4,1078.8 1271.8,1078.6 1272.1,1078.8 1272.5,1078.8 1272.8,1079.1 1273.2,1079 1273.5,1078.3 1273.9,1079.3 1274.2,1078.9 1274.6,1079.3 1274.9,1079.2 1275.2,1079 1275.6,1079.2 1275.9,1078.4 1276.3,1079.6 1276.6,1079.7 1277,1079.2 1277.3,1078.7 1277.7,1079.2 1278,1078.8 1278.4,1079.6 1278.7,1078.8 1279,1078.5 1279.4,1078.6 1279.7,1078.6 1280.1,1079.2 1280.4,1078.9 1280.8,1079 1281.1,1078.8 1281.5,1079.5 1281.8,1078.9 1282.2,1079 1282.5,1079.6 1282.8,1079 1283.2,1078.7 1283.5,1078.8 1283.9,1079.4 1284.2,1079.1 1284.6,1078.6 1284.9,1079.4 1285.3,1078.3 1285.6,1078.1 1285.9,1078.5 1286.3,1078.2 1286.6,1078.8 1287,1078.9 1287.3,1078.8 1287.7,1078.7 1288,1078.5 1288.4,1079.3 1288.7,1078.1 1289.1,1079.2 1289.4,1079 1289.7,1078.9 1290.1,1079.1 1290.4,1078.3 1290.8,1079.3 1291.1,1079.1 1291.5,1079.3 1291.8,1078 1292.2,1078.9 1292.5,1078.8 1292.9,1077.9 1293.2,1078.7 1293.5,1078.8 1293.9,1078.4 1294.2,1078.9 1294.6,1078.9 1294.9,1078.4 1295.3,1078.3 1295.6,1078.6 1296,1077.7 1296.3,1078 1296.7,1078.1 1297,1077.2 1297.3,1076.9 1297.7,1076.4 1298,1076.4 1298.4,1075.1 1298.7,1074.8 1299.1,1075.1 1299.1,1075.2 1299.4,1075.9 1299.8,1076.3 1300.1,1076.3 1300.4,1076.9 1300.8,1076.6 1301.1,1077 1301.5,1076.9 1301.8,1078.3 1302.2,1078.3 1302.5,1078.3 1302.9,1077.9 1303.2,1078.1 1303.6,1078.8 1303.9,1078.7 1304.2,1079.2 1304.6,1078.8 1304.9,1078.5 1305.3,1078.3 1305.6,1078.8 1306,1079.5 1306.3,1079.6 1306.7,1078.5 1307,1079 1307.4,1078.6 1307.7,1079 1308,1077.7 1308.4,1078.6 1308.7,1078.1 1309.1,1079.4 1309.4,1078.7 1309.8,1079 1310.1,1078.9 1310.5,1078.3 1310.8,1079.1 1311.2,1079.3 1311.5,1079 1311.8,1079.1 1312.2,1079.3 1312.5,1079.1 1312.9,1078.8 1313.2,1078.2 1313.6,1078.5 1313.9,1078.6 1314.3,1079.2 1314.6,1079.4 1315,1078.9 1315.3,1079.3 1315.6,1077.9 1316,1079 1316.3,1078.4 1316.7,1079.3 1317,1079.4 1317.4,1079.3 1317.7,1079.2 1318.1,1079.3 1318.4,1079.6 1318.7,1078.7 1319.1,1079.5 1319.4,1078.8 1319.8,1078.3 1320.1,1079.1 1320.5,1079.2 1320.8,1079 1321.2,1078.6 1321.5,1079.1 1321.9,1078.8 1322.2,1079.9 1322.5,1079 1322.9,1079.1 1323.2,1078.7 1323.6,1079.1 1323.9,1079.6 1324.3,1078.6 1324.6,1078.7 1325,1078.1 1325.3,1078.9 1325.7,1079.5 1326,1078.4 1326.3,1078.7 1326.7,1078.6 1327,1078.8 1327.4,1078.6 1327.7,1078.7 1328.1,1078.4 1328.4,1078.9 1328.8,1079.2 1329.1,1079.2 1329.5,1078.1 1329.8,1079.4 1330.1,1079.1 1330.5,1079.3 1330.8,1078.5 1331.2,1078.6 1331.5,1079.1 1331.9,1079.5 1332.2,1078.5 1332.6,1078.9 1332.9,1079 1333.2,1078.7 1333.6,1079 1333.9,1078.6 1334.3,1079.3 1334.6,1078.1 1335,1078.9 1335.3,1078.5 1335.7,1078.7 1336,1078.3 1336.4,1077.4 1336.7,1079.1 1337,1078.7 1337.4,1078.4 1337.7,1078.1 1338.1,1078 1338.4,1077.5 1338.8,1077.4 1339.1,1077.6 1339.5,1076.6 1339.8,1076.2 1340.2,1077.2 1340.5,1076.2 1340.5,1076.5 1340.8,1076.4 1341.2,1076.8 1341.5,1077.1 1341.9,1077.1 1342.2,1077 1342.6,1077.2 1342.9,1077.9 1343.3,1078.8 1343.6,1077.6 1344,1078.4 1344.3,1078.7 1344.6,1078.4 1345,1078.8 1345.3,1078.7 1345.7,1079 1346,1079.4 1346.4,1078.6 1346.7,1078.9 1347.1,1079 1347.4,1078.8 1347.7,1078.8 1348.1,1077.9 1348.4,1078.8 1348.8,1078.4 1349.1,1078.6 1349.5,1079 1349.8,1079 1350.2,1078.6 1350.5,1078.6 1350.9,1078.7 1351.2,1078.4 1351.5,1079.4 1351.9,1079.5 1352.2,1078.7 1352.6,1079.4 1352.9,1079.1 1353.3,1078.4 1353.6,1079.1 1354,1079 1354.3,1078.8 1354.7,1078.2 1355,1078.5 1355.3,1077.9 1355.7,1078.7 1356,1078.6 1356.4,1078.3 1356.7,1078.2 1357.1,1079.3 1357.4,1078.1 1357.8,1079 1358.1,1078.7 1358.5,1079.2 1358.8,1078 1359.1,1078.7 1359.5,1079.1 1359.8,1078.5 1360.2,1078 1360.5,1077.7 1360.9,1078.1 1361.2,1078.7 1361.6,1078.7 1361.9,1077.9 1362.2,1077.9 1362.6,1077.5 1362.9,1076.9 1363.3,1075.7 1363.6,1075.8 1364,1074.5 1364.3,1074.3 1364.7,1074.1 1365,1073.9 1365.4,1073.3 1365.4,1073.8 1365.7,1074.1 1366,1074.2 1366.4,1074.3 1366.7,1075 1367.1,1075.5 1367.4,1076.1 1367.8,1076.9 1368.1,1077.6 1368.5,1077.5 1368.8,1078.1 1369.2,1078.2 1369.5,1078.3 1369.8,1078 1370.2,1078.6 1370.5,1078.5 1370.9,1078.7 1371.2,1079 1371.6,1079 1371.9,1079 1372.3,1078.5 1372.6,1078.1 1373,1078.6 1373.3,1078.7 1373.6,1078.8 1374,1079.3 1374.3,1078.9 1374.7,1079.3 1375,1078.6 1375.4,1078.3 1375.7,1079.1 1376.1,1078.3 1376.4,1078.1 1376.7,1078.5 1377.1,1078.9 1377.4,1079.2 1377.8,1078.8 1378.1,1079.1 1378.5,1078.8 1378.8,1078.1 1379.2,1078.3 1379.5,1078.1 1379.9,1078.7 1380.2,1078 1380.5,1078.2 1380.9,1078.5 1381.2,1079.1 1381.6,1079 1381.9,1078.6 1382.3,1078.9 1382.6,1078.7 1383,1079.9 1383.3,1078.1 1383.7,1078"/>
<rect x="941.4" y="1102.6" width="5.6" height="74.4" fill="#666666"/>
<rect x="1054.2" y="1166.4" width="5.2" height="10.6" fill="#666666"/>
<rect x="1073.4" y="1168.4" width="5.2" height="8.6" fill="#666666"/>
<rect x="1135.7" y="1171.4" width="5" height="5.6" fill="#666666"/>
<rect x="1144.3" y="1172.7" width="5" height="4.3" fill="#666666"/>
<rect x="1191.6" y="1174" width="5" height="3" fill="#666666"/>
<rect x="1283.4" y="1172.7" width="5" height="4.3" fill="#666666"/>
<rect x="1306.9" y="1174.5" width="5" height="2.5" fill="#666666"/>
<rect x="1325.6" y="1171.1" width="5" height="5.9" fill="#666666"/>
<rect x="1353.2" y="1174.5" width="5" height="2.5" fill="#666666"/>
<rect x="1376" y="1174.5" width="5" height="2.5" fill="#666666"/>
<rect x="952.2" y="1102.8" width="4.6" height="74.2" fill="#E9525C"/>
<rect x="1007" y="1162.5" width="4.6" height="14.5" fill="#E9525C"/>
<rect x="1032.7" y="1174" width="4.6" height="3" fill="#E9525C"/>
<rect x="1043.1" y="1117.6" width="4.6" height="59.4" fill="#E9525C"/>
<rect x="1066.3" y="1157.3" width="4.6" height="19.7" fill="#E9525C"/>
<rect x="1133.7" y="1130.2" width="4.6" height="46.8" fill="#E9525C"/>
<rect x="1152.7" y="1157.9" width="4.6" height="19.1" fill="#E9525C"/>
<rect x="1182.8" y="1165.3" width="4.6" height="11.7" fill="#E9525C"/>
<rect x="1203.6" y="1172.7" width="4.6" height="4.3" fill="#E9525C"/>
<rect x="1210.5" y="1174" width="4.6" height="3" fill="#E9525C"/>
<rect x="1231.6" y="1168.7" width="4.6" height="8.3" fill="#E9525C"/>
<rect x="1235" y="1154.9" width="4.6" height="22.1" fill="#E9525C"/>
<rect x="1258.6" y="1172" width="4.6" height="5" fill="#E9525C"/>
<rect x="1274.7" y="1175" width="4.6" height="2" fill="#E9525C"/>
<rect x="1300.9" y="1172.7" width="4.6" height="4.3" fill="#E9525C"/>
<rect x="1341.7" y="1174" width="4.6" height="3" fill="#E9525C"/>
<rect x="1365.1" y="1174" width="4.6" height="3" fill="#E9525C"/>
<rect x="1368.6" y="1170" width="4.6" height="7" fill="#E9525C"/>
<rect x="831.6" y="772" width="552.4" height="405" fill="none" stroke="#000" stroke-width="2.7"/>
<path d="M831.6 1177V1182.2M900.6 1177V1187M969.7 1177V1182.2M1038.8 1177V1187M1107.8 1177V1182.2M1176.8 1177V1187M1245.9 1177V1182.2M1315 1177V1187M1384 1177V1182.2" stroke="#000" stroke-width="2.6" fill="none"/>
<text x="900.6" y="1225.7" font-size="42" text-anchor="middle">20</text>
<text x="1038.8" y="1225.7" font-size="42" text-anchor="middle">40</text>
<text x="1176.8" y="1225.7" font-size="42" text-anchor="middle">60</text>
<text x="1315" y="1225.7" font-size="42" text-anchor="middle">80</text>
<text x="959.5" y="1279.7" font-size="45.3">2 Theta (degree)</text>
<text transform="translate(793.9 1180.7) rotate(-90)" font-size="45.3">Intensity (arb. units)</text>
<text x="764" y="734.9" font-size="59.5" font-weight="bold">e</text>
<text x="848.2" y="1116" font-size="35" fill="#7A7A7A">Gr</text>
<polyline fill="none" stroke="#E46A74" stroke-width="3.6" stroke-linejoin="round" points="1594.8,1066.5 1595.1,1066.7 1595.5,1067.2 1595.8,1067.7 1596.2,1067.2 1596.5,1067.2 1596.9,1067.2 1597.2,1067.4 1597.6,1066.9 1597.9,1067.5 1598.3,1067.3 1598.6,1067.4 1598.9,1067.5 1599.3,1067.5 1599.6,1067.6 1600,1067 1600.3,1067.5 1600.7,1066.7 1601,1066.5 1601.4,1067.2 1601.7,1067.5 1602,1067.5 1602.4,1067.4 1602.7,1067.6 1603.1,1066.6 1603.4,1067.1 1603.8,1067.2 1604.1,1067 1604.5,1067.4 1604.8,1067.5 1605.2,1067.4 1605.5,1067.3 1605.8,1068.2 1606.2,1067.3 1606.5,1067.3 1606.9,1067.8 1607.2,1068 1607.6,1067 1607.9,1066.9 1608.3,1067.8 1608.6,1067.8 1609,1067.7 1609.3,1067.2 1609.6,1067.6 1610,1066.8 1610.3,1066.9 1610.7,1067.9 1611,1066.8 1611.4,1067.3 1611.7,1067.6 1612.1,1067.5 1612.4,1066.9 1612.7,1067.1 1613.1,1067.6 1613.4,1067.2 1613.8,1068 1614.1,1067.3 1614.5,1068 1614.8,1067.3 1615.2,1067.8 1615.5,1067.5 1615.9,1067.4 1616.2,1066.8 1616.5,1067.6 1616.9,1067.4 1617.2,1067.5 1617.6,1067.1 1617.9,1067 1618.3,1067 1618.6,1067.3 1619,1067.7 1619.3,1067.2 1619.6,1066.9 1620,1067 1620.3,1066.9 1620.7,1066.7 1621,1067.2 1621.4,1067.1 1621.7,1067.2 1622.1,1068.1 1622.4,1067.7 1622.8,1067.9 1623.1,1067.4 1623.4,1067.4 1623.8,1067 1624.1,1066.7 1624.5,1066.7 1624.8,1067.2 1625.2,1067.5 1625.5,1068.2 1625.9,1067.3 1626.2,1066.8 1626.6,1067.2 1626.9,1067.5 1627.2,1066.9 1627.6,1067.2 1627.9,1067.6 1628.3,1067.4 1628.6,1067.5 1629,1067.4 1629.3,1067.4 1629.7,1067.9 1630,1067.7 1630.3,1067.5 1630.7,1067.6 1631,1067.4 1631.4,1067.4 1631.7,1067.5 1632.1,1067.5 1632.4,1068.4 1632.8,1067.5 1633.1,1067.6 1633.5,1068.2 1633.8,1067 1634.1,1067.4 1634.5,1067.9 1634.8,1067.5 1635.2,1067.4 1635.5,1067.1 1635.9,1067.4 1636.2,1067.1 1636.6,1067.8 1636.9,1067.6 1637.3,1067.3 1637.6,1067.9 1637.9,1067 1638.3,1067.1 1638.6,1067.7 1639,1067.5 1639.3,1067 1639.7,1067.1 1640,1067.3 1640.4,1067.2 1640.7,1067.5 1641,1067.4 1641.4,1067.6 1641.7,1067.4 1642.1,1067.6 1642.4,1067.3 1642.8,1067.6 1643.1,1067.6 1643.5,1067.7 1643.8,1067.6 1644.2,1067.3 1644.5,1067.4 1644.8,1067.9 1645.2,1067.3 1645.5,1067.5 1645.9,1068 1646.2,1067.7 1646.6,1067.7 1646.9,1067.1 1647.3,1067.1 1647.6,1067.5 1647.9,1068.3 1648.3,1066.7 1648.6,1066.8 1649,1067.7 1649.3,1067.5 1649.7,1067.1 1650,1067.8 1650.4,1067.5 1650.7,1067.2 1651.1,1067.4 1651.4,1067.2 1651.7,1067.6 1652.1,1067.2 1652.4,1067 1652.8,1067.2 1653.1,1067.6 1653.5,1067.9 1653.8,1067.2 1654.2,1067 1654.5,1067.6 1654.9,1067.9 1655.2,1067.3 1655.5,1068 1655.9,1067.1 1656.2,1068 1656.6,1067.7 1656.9,1066.8 1657.3,1067.7 1657.6,1067.4 1658,1067.4 1658.3,1067.2 1658.6,1067.5 1659,1067.2 1659.3,1067.5 1659.7,1067.9 1660,1068 1660.4,1067.9 1660.7,1067.8 1661.1,1067.6 1661.4,1067.4 1661.8,1067 1662.1,1067.9 1662.4,1067.3 1662.8,1067.5 1663.1,1066.9 1663.5,1067.6 1663.8,1068 1664.2,1067.4 1664.5,1067.8 1664.9,1067.4 1665.2,1067.5 1665.6,1067.3 1665.9,1066.4 1666.2,1067.6 1666.6,1067.7 1666.9,1067.7 1667.3,1068.1 1667.6,1067.8 1668,1067.7 1668.3,1067.2 1668.7,1068.6 1669,1067 1669.3,1067.3 1669.7,1067.3 1670,1067.2 1670,1066.9 1670.4,1066.9 1670.7,1066 1671.1,1066.4 1671.4,1067 1671.8,1066.3 1672.1,1066 1672.5,1066.5 1672.8,1066.2 1673.1,1066.3 1673.5,1066.4 1673.8,1065.9 1674.2,1066.2 1674.5,1066.7 1674.9,1066 1675.2,1066 1675.6,1065.8 1675.9,1066.1 1676.2,1066.1 1676.6,1065.5 1676.9,1065.9 1677.3,1066.4 1677.6,1065.1 1678,1066 1678.3,1066 1678.7,1065 1679,1064.9 1679.4,1065.2 1679.7,1065.9 1680,1065.1 1680.4,1065.3 1680.7,1065.3 1681.1,1065.2 1681.4,1065.9 1681.8,1065.2 1681.9,1064.6 1682.1,1064.9 1682.5,1064.5 1682.8,1063.3 1683.2,1063.2 1683.5,1062.4 1683.8,1061.5 1684.2,1061.2 1684.5,1061.3 1684.9,1060.4 1685.2,1059.2 1685.6,1059.6 1685.9,1058.7 1686.3,1057.1 1686.5,1057.5 1686.6,1056.8 1686.9,1056.9 1687.3,1057.7 1687.6,1056.8 1688,1055.6 1688.3,1054.6 1688.7,1053.9 1689,1053.5 1689.4,1053.3 1689.7,1053.2 1690.1,1052.1 1690.4,1052 1690.7,1050.9 1691.1,1049.6 1691.4,1050 1691.8,1049.7 1691.8,1049.5 1692.1,1049.3 1692.5,1048.1 1692.8,1047.9 1693.2,1047.6 1693.5,1047.3 1693.9,1047 1694.2,1046.8 1694.5,1045.8 1694.9,1045.1 1695,1045.2 1695.2,1044.7 1695.6,1043.7 1695.9,1042.6 1696.3,1042.4 1696.6,1041.5 1697,1040.6 1697,1040.4 1697.3,1040.7 1697.6,1040.7 1698,1041.2 1698.3,1041.9 1698.5,1041.3 1698.7,1040.2 1699,1035.8 1699.4,1033.7 1699.7,1029.8 1699.7,1029.1 1700.1,1024 1700.4,1018.6 1700.8,1014.1 1701,1010.2 1701.1,1008.3 1701.4,1002.8 1701.8,998 1702.1,992.6 1702.3,990 1702.5,982.9 1702.8,969.2 1703.2,956 1703.5,943 1703.6,939.3 1703.9,928.8 1704.2,915.5 1704.5,900.4 1704.8,890.2 1704.9,882.5 1705.2,856.8 1705.4,844 1705.6,836.1 1705.9,820.9 1706.1,813.1 1706.3,811.6 1706.6,806.3 1707,802.3 1707.3,798.4 1707.4,797.1 1707.7,804.1 1708,813.8 1708,812.9 1708.3,834.5 1708.5,843.8 1708.7,851 1709,863.8 1709.4,877.9 1709.7,890.5 1709.7,894.4 1710,940.4 1710.1,975.3 1710.1,989.9 1710.4,1005.6 1710.5,1010 1710.8,1017.2 1711.1,1027.1 1711.2,1030.1 1711.5,1031.6 1711.8,1035.3 1712.1,1038.9 1712.2,1039 1712.4,1045 1712.5,1045.3 1712.8,1050.1 1713.2,1054.8 1713.5,1058.4 1713.5,1059.9 1713.9,1060.4 1714.2,1060.7 1714.6,1061.1 1714.9,1061.7 1715.2,1061.8 1715.5,1062.2 1715.6,1061.5 1715.9,1062.8 1716.3,1062.4 1716.6,1061.8 1717,1062.3 1717.3,1062.9 1717.7,1062.1 1718,1062.6 1718.4,1061.9 1718.7,1062.5 1718.8,1062.6 1719,1062 1719.4,1062.9 1719.7,1063.1 1720,1061.2 1720.1,1062 1720.4,1053.7 1720.8,1038.3 1721.1,1017.8 1721.5,1007.7 1721.5,1008.2 1721.8,1018.5 1722.2,1037.6 1722.5,1053.3 1722.8,1061.1 1723.2,1064.4 1723.5,1065.9 1723.9,1066.8 1724.2,1066.8 1724.6,1067.1 1724.9,1067 1725.3,1067.2 1725.6,1067.5 1725.9,1066.9 1726.3,1067.6 1726.6,1067.5 1727,1067.7 1727.3,1067.6 1727.7,1067.1 1728,1067.3 1728.4,1067.5 1728.7,1066.5 1729.1,1067.2 1729.4,1067.3 1729.7,1067.3 1730.1,1067.1 1730.4,1067.1 1730.8,1067.4 1731.1,1067.3 1731.5,1068.1 1731.8,1067.5 1732.2,1067.5 1732.5,1067.9 1732.9,1067.5 1733.2,1067.6 1733.5,1068 1733.9,1068 1734.2,1067.5 1734.6,1067.1 1734.9,1067.3 1735.3,1067.8 1735.6,1067 1736,1067.5 1736.3,1067.6 1736.6,1067 1737,1068.1 1737.3,1067.5 1737.7,1067 1738,1067.2 1738.4,1067.8 1738.7,1068.1 1739.1,1067.7 1739.4,1067.7 1739.8,1067.5 1740.1,1068.2 1740.4,1068.1 1740.8,1067 1741.1,1067.6 1741.5,1067.9 1741.8,1067.6 1742.2,1067.8 1742.5,1067.9 1742.9,1067.3 1743.2,1068.1 1743.5,1067.7 1743.9,1068 1744.2,1067.7 1744.6,1067.6 1744.9,1068.2 1745.3,1067.8 1745.6,1068.2 1746,1067.9 1746.3,1068.5 1746.7,1067.3 1747,1067.7 1747.3,1067.3 1747.7,1067.2 1748,1067.7 1748.4,1067 1748.7,1067.5 1749.1,1068 1749.4,1067.6 1749.8,1067 1750.1,1066.8 1750.5,1066.7 1750.8,1066.5 1751.1,1065.3 1751.5,1065.2 1751.5,1065.4 1751.8,1065.3 1752.2,1066 1752.5,1066.5 1752.9,1067.4 1753.2,1067 1753.6,1067.4 1753.9,1067.7 1754.2,1067.3 1754.6,1067.5 1754.9,1067.6 1755.3,1067.1 1755.6,1067.4 1756,1067.2 1756.3,1067.4 1756.7,1067.4 1757,1067.5 1757.4,1067.9 1757.7,1068.1 1758,1068 1758.4,1067.3 1758.7,1067.8 1759.1,1067.2 1759.4,1067.9 1759.8,1067.9 1760.1,1067.5 1760.5,1067.7 1760.8,1068 1761.2,1067.9 1761.5,1067.4 1761.8,1067.4 1762.2,1067 1762.5,1067.5 1762.9,1067.4 1763.2,1067.6 1763.6,1067.8 1763.9,1067.1 1764.3,1067.3 1764.6,1067.4 1764.9,1066.9 1765.3,1067.4 1765.6,1067.1 1766,1067.2 1766.3,1066.9 1766.7,1066.2 1767,1065.1 1767.4,1064.6 1767.7,1064.3 1767.7,1064.6 1768.1,1063.8 1768.4,1065.1 1768.7,1065.7 1769.1,1066.6 1769.4,1067.5 1769.8,1067.4 1770.1,1067.5 1770.5,1067.3 1770.8,1067.7 1771.2,1067.7 1771.5,1067.2 1771.8,1067.9 1772.2,1067.5 1772.5,1066.8 1772.9,1067.6 1773.2,1067.9 1773.6,1067.8 1773.9,1067.7 1774.3,1067.7 1774.6,1067.9 1775,1067.9 1775.3,1067 1775.6,1067.4 1776,1067.7 1776.3,1067.7 1776.7,1068 1777,1068.1 1777.4,1067.8 1777.7,1067.6 1778.1,1068.4 1778.4,1067.4 1778.8,1067.7 1779.1,1068.5 1779.4,1067.9 1779.8,1067.9 1780.1,1067.7 1780.5,1068.2 1780.8,1068.8 1781.2,1067.8 1781.5,1067.6 1781.9,1068.2 1782.2,1068.4 1782.5,1067.9 1782.9,1067.4 1783.2,1067.8 1783.6,1067.4 1783.9,1068.1 1784.3,1067.6 1784.6,1067.9 1785,1067.7 1785.3,1068 1785.7,1066.9 1786,1067.8 1786.3,1067.8 1786.7,1067.8 1787,1067.1 1787.4,1068.2 1787.7,1067.4 1788.1,1067.9 1788.4,1067.5 1788.8,1067.6 1789.1,1067.5 1789.5,1067 1789.8,1067.4 1790.1,1068.1 1790.5,1067.1 1790.8,1067.6 1791.2,1066.8 1791.5,1067.7 1791.9,1066.4 1792.2,1065.8 1792.6,1064.8 1792.9,1063.2 1793.2,1060.6 1793.6,1060.2 1793.6,1060.4 1793.9,1061.1 1794.3,1062.7 1794.6,1065.1 1795,1066.6 1795.3,1067.9 1795.7,1067.8 1796,1066.8 1796.4,1068 1796.7,1068 1797,1067.7 1797.4,1067.9 1797.7,1068.1 1798.1,1067.6 1798.4,1067.2 1798.8,1067.6 1799.1,1067.9 1799.5,1067.5 1799.8,1067.4 1800.1,1067.2 1800.5,1067.9 1800.8,1067.3 1801.2,1067.6 1801.5,1067.4 1801.9,1068.2 1802.2,1068.1 1802.6,1068.6 1802.9,1067.4 1803.3,1067.3 1803.6,1067.8 1803.9,1067.2 1804.3,1067.5 1804.6,1068 1805,1067.7 1805.3,1068 1805.7,1067.4 1806,1067.5 1806.4,1067.6 1806.7,1068 1807.1,1068.1 1807.4,1068.1 1807.7,1067.7 1808.1,1067.4 1808.4,1067.5 1808.8,1067.6 1809.1,1067 1809.5,1067.2 1809.8,1066.9 1810.2,1067.7 1810.5,1067.6 1810.8,1067.2 1811.2,1067.9 1811.5,1067.5 1811.9,1067.4 1812.2,1067.7 1812.6,1067.5 1812.9,1066.9 1813.3,1067 1813.6,1066.7 1814,1067.4 1814.3,1067 1814.6,1067.3 1815,1066.6 1815.3,1066.2 1815.7,1066.7 1816,1066 1816.4,1064.2 1816.7,1063.9 1817.1,1061.6 1817.4,1061.1 1817.8,1060.1 1817.8,1059.6 1818.1,1060.2 1818.4,1061.4 1818.8,1061.6 1819.1,1064.1 1819.5,1064.4 1819.8,1065.2 1820.2,1063.9 1820.5,1065.3 1820.9,1064.9 1821.2,1064.4 1821.5,1065.4 1821.9,1064.9 1822.2,1064.1 1822.6,1064 1822.9,1064.4 1823.3,1064.8 1823.6,1064.2 1824,1063.8 1824.3,1064.6 1824.7,1063.6 1825,1064.3 1825.3,1064.1 1825.3,1063.8 1825.7,1063.6 1826,1063.6 1826.4,1063.9 1826.7,1064.5 1827.1,1064 1827.4,1063.8 1827.8,1064.8 1828.1,1064.8 1828.4,1064.5 1828.8,1065.1 1829.1,1064.8 1829.5,1065.6 1829.8,1065 1830.2,1064.9 1830.5,1065.2 1830.9,1065.5 1831.2,1065.7 1831.6,1065.5 1831.9,1065.6 1832.2,1065.4 1832.6,1065.8 1832.9,1066.8 1833.3,1066.1 1833.6,1065.9 1834,1066 1834.3,1065.9 1834.7,1065.8 1835,1064.9 1835.4,1064.5 1835.7,1061.8 1836,1059.5 1836.4,1057.6 1836.7,1055.4 1836.9,1055.8 1837.1,1055.6 1837.4,1058 1837.8,1061.2 1838.1,1062.5 1838.5,1065 1838.8,1065.5 1839.1,1066.6 1839.5,1066.7 1839.8,1067.2 1840.2,1066.8 1840.5,1066.5 1840.9,1067.6 1841.2,1067.4 1841.6,1067.9 1841.9,1067.5 1842.3,1067.5 1842.6,1067.1 1842.9,1066.9 1843.3,1067.5 1843.6,1067 1844,1068 1844.3,1068 1844.7,1067.6 1845,1067.8 1845.4,1067.3 1845.7,1067.1 1846.1,1068.2 1846.4,1067 1846.7,1067.5 1847.1,1066.6 1847.4,1066.9 1847.8,1066.8 1848.1,1065.5 1848.5,1065 1848.8,1064 1849.2,1061.3 1849.5,1055.4 1849.8,1044.1 1850.2,1028.7 1850.5,1013 1850.9,1005.9 1850.9,1006.5 1851.2,1013.2 1851.6,1028.6 1851.9,1044 1852.3,1055.1 1852.6,1060.8 1853,1064.4 1853.3,1065.8 1853.6,1065.7 1854,1066.3 1854.3,1066.6 1854.7,1067.3 1855,1066.8 1855.4,1067.1 1855.7,1066.9 1856.1,1067 1856.4,1067.2 1856.7,1068.8 1857.1,1068 1857.4,1067.7 1857.8,1067.7 1858.1,1067 1858.5,1067.3 1858.8,1068 1859.2,1067.7 1859.5,1068.2 1859.9,1067.7 1860.2,1068 1860.5,1067.8 1860.9,1068 1861.2,1067.9 1861.6,1068.2 1861.9,1067.6 1862.3,1067.7 1862.6,1067.6 1863,1067.8 1863.3,1068 1863.7,1067.9 1864,1067.1 1864.3,1067.6 1864.7,1067.6 1865,1067.7 1865.4,1067.6 1865.7,1067.7 1866.1,1068.2 1866.4,1068.1 1866.8,1068.4 1867.1,1067.2 1867.4,1067.5 1867.8,1067.4 1868.1,1068.3 1868.5,1068.2 1868.8,1067.7 1869.2,1067.7 1869.5,1068 1869.9,1068.4 1870.2,1068.5 1870.6,1067.7 1870.9,1068.3 1871.2,1067.8 1871.6,1068.6 1871.9,1069 1872.3,1068.1 1872.6,1068.2 1873,1066.9 1873.3,1068.2 1873.7,1067.3 1874,1067.7 1874.4,1068.3 1874.7,1067.3 1875,1068.9 1875.4,1067.7 1875.7,1068.2 1876.1,1067.7 1876.4,1068.2 1876.8,1067.7 1877.1,1067.9 1877.5,1067 1877.8,1068.3 1878.1,1068.2 1878.5,1067.8 1878.8,1067.8 1879.2,1067.5 1879.5,1067.6 1879.9,1068 1880.2,1068.1 1880.6,1068.2 1880.9,1068.4 1881.3,1068.3 1881.6,1068.1 1881.9,1068.1 1882.3,1067.9 1882.6,1068.4 1883,1067.6 1883.3,1067.6 1883.7,1068.1 1884,1067.4 1884.4,1067.8 1884.7,1067.3 1885.1,1067.6 1885.4,1069.3 1885.7,1067.3 1886.1,1068.3 1886.4,1067.7 1886.8,1067.4 1887.1,1067.3 1887.5,1068.1 1887.8,1067.7 1888.2,1067.9 1888.5,1068.5 1888.8,1067.3 1889.2,1067 1889.5,1067.8 1889.9,1068.3 1890.2,1067.8 1890.6,1068.2 1890.9,1068.1 1891.3,1067.7 1891.6,1067.2 1892,1067.5 1892.3,1067.8 1892.6,1067.4 1893,1067.1 1893.3,1067.1 1893.7,1066.8 1894,1067 1894.4,1066.4 1894.7,1067 1895.1,1066.4 1895.4,1066.1 1895.7,1065.2 1896.1,1064.9 1896.4,1065.5 1896.8,1065.2 1897.1,1066.1 1897.5,1064.9 1897.8,1064.7 1898.2,1065.4 1898.5,1064.2 1898.5,1065.1 1898.9,1064.5 1899.2,1064 1899.5,1064.5 1899.9,1065.2 1900.2,1065.4 1900.6,1065.4 1900.9,1065.3 1901.3,1065.9 1901.6,1066.1 1902,1066.2 1902.3,1067 1902.7,1066.9 1903,1066.3 1903.3,1066.5 1903.7,1066.5 1904,1067.1 1904.4,1067.6 1904.7,1067.9 1905.1,1067.4 1905.4,1067.2 1905.8,1067 1906.1,1066.8 1906.4,1068.2 1906.8,1067.4 1907.1,1067.3 1907.5,1068.3 1907.8,1067.2 1908.2,1067.4 1908.5,1067.4 1908.9,1066.2 1909.2,1065.6 1909.6,1065.8 1909.9,1061.6 1910.2,1056.4 1910.6,1052.7 1910.9,1050.9 1910.9,1051.2 1911.3,1052.9 1911.6,1056.8 1912,1061.5 1912.3,1065 1912.7,1066 1913,1066.6 1913.4,1067 1913.7,1066.7 1914,1068.2 1914.4,1067.9 1914.7,1067.8 1915.1,1067.9 1915.4,1068.4 1915.8,1067.7 1916.1,1067.4 1916.5,1068.4 1916.8,1067 1917.1,1067.8 1917.5,1068.4 1917.8,1068.6 1918.2,1068 1918.5,1068 1918.9,1068 1919.2,1067.9 1919.6,1068 1919.9,1068.6 1920.3,1068.2 1920.6,1068.7 1920.9,1068.3 1921.3,1067.9 1921.6,1067.9 1922,1068.9 1922.3,1067.8 1922.7,1068.5 1923,1067.7 1923.4,1068.3 1923.7,1067.9 1924,1067.9 1924.4,1067.7 1924.7,1067.8 1925.1,1068.1 1925.4,1068.6 1925.8,1068.2 1926.1,1067.7 1926.5,1068.3 1926.8,1067.1 1927.2,1068.1 1927.5,1069 1927.8,1067.1 1928.2,1068 1928.5,1068.5 1928.9,1068.8 1929.2,1068.6 1929.6,1067.9 1929.9,1068.8 1930.3,1068.7 1930.6,1068 1931,1068.1 1931.3,1067.7 1931.6,1068 1932,1068.6 1932.3,1067.6 1932.7,1068.6 1933,1068.2 1933.4,1068.2 1933.7,1067.8 1934.1,1068.3 1934.4,1067.9 1934.7,1067.9 1935.1,1067.2 1935.4,1067.7 1935.8,1067.3 1936.1,1067.5 1936.5,1066.9 1936.8,1066.5 1937.2,1066 1937.5,1065.9 1937.5,1065.9 1937.9,1066.5 1938.2,1065.9 1938.5,1066.2 1938.9,1067.3 1939.2,1068 1939.6,1067.8 1939.9,1067.8 1940.3,1068.8 1940.6,1068.1 1941,1067.8 1941.3,1068.1 1941.7,1068.5 1942,1067.9 1942.3,1068.4 1942.7,1068 1943,1068.2 1943.4,1068.2 1943.7,1067.1 1944.1,1068.6 1944.4,1068.4 1944.8,1068.3 1945.1,1068.2 1945.4,1068 1945.8,1068.7 1946.1,1068.1 1946.5,1068.5 1946.8,1067.5 1947.2,1068.9 1947.5,1068.2 1947.9,1068.3 1948.2,1067.7 1948.6,1067.8 1948.9,1068.3 1949.2,1066.8 1949.6,1068.6 1949.9,1067.8 1950.3,1067.8 1950.6,1068.1 1951,1068.9 1951.3,1068.2 1951.7,1068.6 1952,1067.6 1952.3,1067.9 1952.7,1068.5 1953,1067.7 1953.4,1067.1 1953.7,1067.9 1954.1,1068 1954.4,1068.1 1954.8,1068.4 1955.1,1068.4 1955.5,1068 1955.8,1068.4 1956.1,1068.1 1956.5,1068.2 1956.8,1067.8 1957.2,1068.4 1957.5,1068 1957.9,1068.6 1958.2,1067.6 1958.6,1068.6 1958.9,1067.7 1959.3,1068.3 1959.6,1067.7 1959.9,1067.8 1960.3,1068.5 1960.6,1067.5 1961,1068.5 1961.3,1069 1961.7,1068.5 1962,1067.6 1962.4,1068.4 1962.7,1068.1 1963,1068.2 1963.4,1068.2 1963.7,1068.6 1964.1,1068.9 1964.4,1068.3 1964.8,1068.8 1965.1,1068 1965.5,1069.1 1965.8,1067.8 1966.2,1067.8 1966.5,1068.1 1966.8,1068.5 1967.2,1068.6 1967.5,1067.6 1967.9,1068.3 1968.2,1068.4 1968.6,1069.2 1968.9,1068.1 1969.3,1067.6 1969.6,1067.5 1970,1068.1 1970.3,1068.4 1970.6,1068.3 1971,1068.2 1971.3,1067.9 1971.7,1068.2 1972,1068.2 1972.4,1069.2 1972.7,1068.2 1973.1,1067.8 1973.4,1068 1973.7,1068.1 1974.1,1067.3 1974.4,1068.2 1974.8,1068.2 1975.1,1068.2 1975.5,1067.7 1975.8,1068 1976.2,1068.1 1976.5,1068.2 1976.9,1067.7 1977.2,1066.6 1977.5,1066.8 1977.9,1066.3 1978.2,1064.9 1978.6,1063.7 1978.6,1065.1 1978.9,1065.5 1979.3,1065.7 1979.6,1066.3 1980,1067.6 1980.3,1068 1980.6,1067.9 1981,1068 1981.3,1068.2 1981.7,1068.6 1982,1068.2 1982.4,1067.7 1982.7,1068 1983.1,1068.3 1983.4,1068.4 1983.8,1068 1984.1,1068.5 1984.4,1068 1984.8,1068.6 1985.1,1068.9 1985.5,1068.6 1985.8,1068.3 1986.2,1068.5 1986.5,1067.4 1986.9,1068.8 1987.2,1067.9 1987.6,1067.8 1987.9,1068.1 1988.2,1067.8 1988.6,1068.2 1988.9,1068.1 1989.3,1068.2 1989.6,1068.7 1990,1068.4 1990.3,1068 1990.7,1068.1 1991,1067.9 1991.3,1068.6 1991.7,1067.7 1992,1068 1992.4,1068.8 1992.7,1068.1 1993.1,1068.2 1993.4,1068.4 1993.8,1067.5 1994.1,1068.2 1994.5,1068.5 1994.8,1068.2 1995.1,1068.4 1995.5,1067.7 1995.8,1068.1 1996.2,1067.9 1996.5,1068 1996.9,1067.3 1997.2,1067.4 1997.6,1067.5 1997.9,1066.5 1998.3,1066.2 1998.6,1065.5 1998.9,1063.8 1999.3,1062.5 1999.6,1062.1 1999.8,1061.4 2000,1061.7 2000.3,1062.3 2000.7,1063.6 2001,1065.8 2001.4,1065.9 2001.7,1066.9 2002,1067.3 2002.4,1067.6 2002.7,1067.8 2003.1,1067.9 2003.4,1068.2 2003.8,1068 2004.1,1068.3 2004.5,1068.1 2004.8,1068.1 2005.2,1068.1 2005.5,1068.9 2005.8,1067.7 2006.2,1068.2 2006.5,1068.5 2006.9,1068.4 2007.2,1067.9 2007.6,1067.8 2007.9,1068.2 2008.3,1068.7 2008.6,1068.6 2009,1068.2 2009.3,1068.1 2009.6,1068.2 2010,1068.2 2010.3,1067.7 2010.7,1067.7 2011,1068.2 2011.4,1069 2011.7,1068.4 2012.1,1067.6 2012.4,1067.9 2012.7,1068.3 2013.1,1067.9 2013.4,1068.4 2013.8,1068 2014.1,1068 2014.5,1067.8 2014.8,1068.5 2015.2,1068.4 2015.5,1068.5 2015.9,1068.6 2016.2,1068.3 2016.5,1068.8 2016.9,1067.9 2017.2,1068.6 2017.6,1068.2 2017.9,1068.1 2018.3,1068.1 2018.6,1068.5 2019,1068.4 2019.3,1068.8 2019.6,1068 2020,1068.4 2020.3,1068 2020.7,1068.5 2021,1068.9 2021.4,1068 2021.7,1068.8 2022.1,1068 2022.4,1068.9 2022.8,1068.4 2023.1,1068.6 2023.4,1067.9 2023.8,1069 2024.1,1068.3 2024.5,1068.2 2024.8,1068.7 2025.2,1068.1 2025.5,1068.3 2025.9,1068.2 2026.2,1068.1 2026.6,1068.8 2026.9,1069 2027.2,1068 2027.6,1069 2027.9,1068.8 2028.3,1068.2 2028.6,1068.6 2029,1069.1 2029.3,1068.1 2029.7,1068.2 2030,1068 2030.3,1069.2 2030.7,1068.8 2031,1068.1 2031.4,1068.3 2031.7,1068.6 2032.1,1068.3 2032.4,1068.8 2032.8,1068.4 2033.1,1068.9 2033.5,1068.5 2033.8,1068.5 2034.1,1068.2 2034.5,1068.5 2034.8,1068.7 2035.2,1067.8 2035.5,1068.6 2035.9,1068.9 2036.2,1068.8 2036.6,1068.6 2036.9,1068.3 2037.3,1068 2037.6,1068.1 2037.9,1068.3 2038.3,1068 2038.6,1068.5 2039,1068.2 2039.3,1068.3 2039.7,1068.9 2040,1068.5 2040.4,1068.7 2040.7,1067.8 2041,1068.6 2041.4,1068.1 2041.7,1069 2042.1,1067.8 2042.4,1068.1 2042.8,1068.7 2043.1,1069.2 2043.5,1067.8 2043.8,1068.3 2044.2,1068.1 2044.5,1069 2044.8,1069.1 2045.2,1068.4 2045.5,1068.7 2045.9,1068 2046.2,1067.8 2046.6,1068.3 2046.9,1067.8 2047.3,1067.9 2047.6,1067 2047.9,1066.9 2048.3,1065.3 2048.6,1064.3 2049,1063.8 2049.3,1063 2049.4,1063.5 2049.7,1062.9 2050,1063.6 2050.4,1065.3 2050.7,1066.2 2051.1,1066.6 2051.4,1067 2051.7,1067.5 2052.1,1068 2052.4,1068 2052.8,1067.8 2053.1,1067.9 2053.5,1068.4 2053.8,1068.6 2054.2,1068.8 2054.5,1067.9 2054.9,1067.8 2055.2,1068.3 2055.5,1068 2055.9,1068.3 2056.2,1068.3 2056.6,1067.7 2056.9,1067.6 2057.3,1066.9 2057.6,1066.8 2058,1067.4 2058.3,1067.7 2058.6,1066.1 2059,1066 2059.3,1066.1 2059.7,1066.4 2060,1065.3 2060.4,1065.9 2060.7,1066.4 2060.7,1065 2061.1,1065.5 2061.4,1066.2 2061.8,1066.5 2062.1,1065.9 2062.4,1066.8 2062.8,1067 2063.1,1066.3 2063.5,1066.9 2063.8,1066.9 2064.2,1067.1 2064.5,1067.3 2064.9,1066.8 2065.2,1066.5 2065.6,1066.7 2065.9,1066.6 2066.2,1066.9 2066.6,1067.2 2066.9,1066.4 2067.3,1066.2 2067.6,1066.1 2068,1066.4 2068.3,1065.9 2068.7,1065.9 2069,1065.6 2069,1065.9 2069.3,1065.8 2069.7,1066.5 2070,1066.2 2070.4,1066.8 2070.7,1066.7 2071.1,1066.9 2071.4,1066.3 2071.8,1067.1 2072.1,1067 2072.5,1067.9 2072.8,1067.8 2073.1,1068 2073.5,1067.9 2073.8,1068.6 2074.2,1067.4 2074.5,1068.5 2074.9,1068.1 2075.2,1067.9 2075.6,1068 2075.9,1068.3 2076.2,1068.5 2076.6,1068.8 2076.9,1068.1 2077.3,1068.1 2077.6,1068.8 2078,1068.8 2078.3,1068 2078.7,1068.1 2079,1068.5 2079.4,1068.3 2079.7,1068.7 2080,1068.1 2080.4,1068.2 2080.7,1069.6 2081.1,1068.9 2081.4,1069.1 2081.8,1068.6 2082.1,1068.2 2082.5,1068.9 2082.8,1069.1 2083.2,1068.4 2083.5,1068.4 2083.8,1068.7 2084.2,1068.4 2084.5,1067.9 2084.9,1068.7 2085.2,1068.8 2085.6,1067.8 2085.9,1069.2 2086.3,1068 2086.6,1068 2086.9,1068.1 2087.3,1068.5 2087.6,1068.4 2088,1067.8 2088.3,1068.5 2088.7,1068.6 2089,1068.2 2089.4,1067.5 2089.7,1068 2090.1,1068.2 2090.4,1068.7 2090.7,1068.3 2091.1,1068.6 2091.4,1069.5 2091.8,1068.4 2092.1,1068.3 2092.5,1068.8 2092.8,1068.9 2093.2,1068.9 2093.5,1068.4 2093.9,1067.9 2094.2,1067.6 2094.5,1067.9 2094.9,1068.1 2095.2,1067.7 2095.6,1067.6 2095.9,1067.9 2096.3,1067.8 2096.6,1067.7 2097,1068.6 2097.3,1068.1 2097.6,1067.1 2098,1067.9 2098.3,1067.4 2098.7,1067 2099,1067 2099.4,1068.2 2099.7,1067.1 2100.1,1066.7 2100.4,1067 2100.8,1067.3 2100.8,1067.1 2101.1,1066.9 2101.4,1066.7 2101.8,1066.8 2102.1,1066.6 2102.5,1067.3 2102.8,1067.6 2103.2,1067.6 2103.5,1067.5 2103.9,1068.2 2104.2,1067.9 2104.5,1068.1 2104.9,1067.5 2105.2,1067.9 2105.6,1067.9 2105.9,1068.6 2106.3,1068.2 2106.6,1068.2 2107,1068.2 2107.3,1069 2107.7,1068.2 2108,1068.1 2108.3,1068.5 2108.7,1068.4 2109,1069 2109.4,1068.9 2109.7,1068.6 2110.1,1068.4 2110.4,1068.5 2110.8,1069.1 2111.1,1068.7 2111.5,1068.8 2111.8,1067.6 2112.1,1068.1 2112.5,1068.5 2112.8,1068.8 2113.2,1068.8 2113.5,1068.6 2113.9,1067.8 2114.2,1068.6 2114.6,1068.2 2114.9,1067.7 2115.2,1068.2 2115.6,1068.4 2115.9,1068.6 2116.3,1068.8 2116.6,1068.6 2117,1068.5 2117.3,1068.3 2117.7,1068.5 2118,1068.1 2118.4,1068.8 2118.7,1068.5 2119,1068.9 2119.4,1068.8 2119.7,1068.4 2120.1,1068.5 2120.4,1068.5 2120.8,1068.5 2121.1,1067.5 2121.5,1068.1 2121.8,1069.3 2122.2,1068.5 2122.5,1069.1 2122.8,1068.3 2123.2,1067.9 2123.5,1068.3 2123.9,1068.3 2124.2,1068.1 2124.6,1068.8 2124.9,1068.8 2125.3,1067.8 2125.6,1068.7 2125.9,1067.9 2126.3,1066.5 2126.6,1066.6 2127,1065.3 2127.3,1064 2127.7,1062.2 2128,1062.1 2128.4,1061.3 2128.4,1062.3 2128.7,1061.5 2129.1,1062.2 2129.4,1064.2 2129.7,1064.7 2130.1,1066.7 2130.4,1066.6 2130.8,1067.8 2131.1,1067.5 2131.5,1067.9 2131.8,1068.3 2132.2,1068.1 2132.5,1068.7 2132.8,1068.2 2133.2,1069.1 2133.5,1068.9 2133.9,1067.9 2134.2,1069.3 2134.6,1068.7 2134.9,1068.2 2135.3,1068.7 2135.6,1068.6 2136,1068.9 2136.3,1068.9 2136.6,1069.1 2137,1068.1 2137.3,1068.7 2137.7,1068.4 2138,1068 2138.4,1068.3 2138.7,1068.2 2139.1,1068.8 2139.4,1068.5 2139.8,1068.8 2140.1,1068.6 2140.4,1068.7 2140.8,1068.8 2141.1,1068.3 2141.5,1068.6 2141.8,1068.6 2142.2,1068.4 2142.5,1068.3 2142.9,1068.8 2143.2,1068.9 2143.5,1069.4 2143.9,1068.7 2144.2,1068.8 2144.6,1068.2 2144.9,1068.6 2145.3,1069.2 2145.6,1069.5 2146,1068.9 2146.3,1069.3 2146.7,1069.4"/>
<rect x="1702.6" y="1105.8" width="5.6" height="72.8" fill="#666666"/>
<rect x="1815.2" y="1169" width="5.2" height="9.6" fill="#666666"/>
<rect x="1834.5" y="1171" width="5.2" height="7.6" fill="#666666"/>
<rect x="1894.6" y="1173.8" width="5" height="4.8" fill="#666666"/>
<rect x="1952.6" y="1175.8" width="5" height="2.8" fill="#666666"/>
<rect x="2086.5" y="1173.8" width="5" height="4.8" fill="#666666"/>
<rect x="1716.9" y="1110.8" width="7" height="67.8" fill="#E9525C"/>
<rect x="1846.3" y="1106.5" width="7.2" height="72.1" fill="#E9525C"/>
<rect x="1907" y="1153.6" width="7" height="25" fill="#E9525C"/>
<rect x="1996.5" y="1170" width="7" height="8.6" fill="#E9525C"/>
<rect x="2046.2" y="1171.7" width="7" height="6.9" fill="#E9525C"/>
<rect x="2126.2" y="1167.3" width="7" height="11.3" fill="#E9525C"/>
<rect x="1594.8" y="773.9" width="552.2" height="404.7" fill="none" stroke="#000" stroke-width="2.7"/>
<path d="M1594.8 1178.6V1183.8M1663.8 1178.6V1188.6M1732.8 1178.6V1183.8M1801.9 1178.6V1188.6M1870.9 1178.6V1183.8M1939.9 1178.6V1188.6M2009 1178.6V1183.8M2078 1178.6V1188.6M2147 1178.6V1183.8" stroke="#000" stroke-width="2.6" fill="none"/>
<text x="1663.8" y="1227.3" font-size="42" text-anchor="middle">20</text>
<text x="1801.9" y="1227.3" font-size="42" text-anchor="middle">40</text>
<text x="1939.9" y="1227.3" font-size="42" text-anchor="middle">60</text>
<text x="2078" y="1227.3" font-size="42" text-anchor="middle">80</text>
<text x="1721.2" y="1279.7" font-size="45.3">2 Theta (degree)</text>
<text transform="translate(1553.9 1183.7) rotate(-90)" font-size="45.3">Intensity (arb. units)</text>
<text x="1527.7" y="734.8" font-size="59.5" font-weight="bold">f</text>
<text x="1613.8" y="1118.8" font-size="35" fill="#7A7A7A">Gr</text>
<text x="1318.5" y="441.2" font-size="34.5" fill="#E41A1A">LiF</text>
<text x="2038.3" y="441.9" font-size="34.5" fill="#3470C4">NaCl</text>
<text x="549.2" y="1128.9" font-size="34.5" fill="#5A8FE0">KCl</text>
<text x="1278.0" y="1116.0" font-size="34.5" fill="#E41A1A">MgF</text><text x="1346.3" y="1124.6" font-size="22.5" fill="#E41A1A">2</text>
<text x="2047.9" y="1114.0" font-size="34.5" fill="#DE4852">CaF</text><text x="2112.5" y="1122.0" font-size="22" fill="#DE4852">2</text>
</svg>
</body></html>
